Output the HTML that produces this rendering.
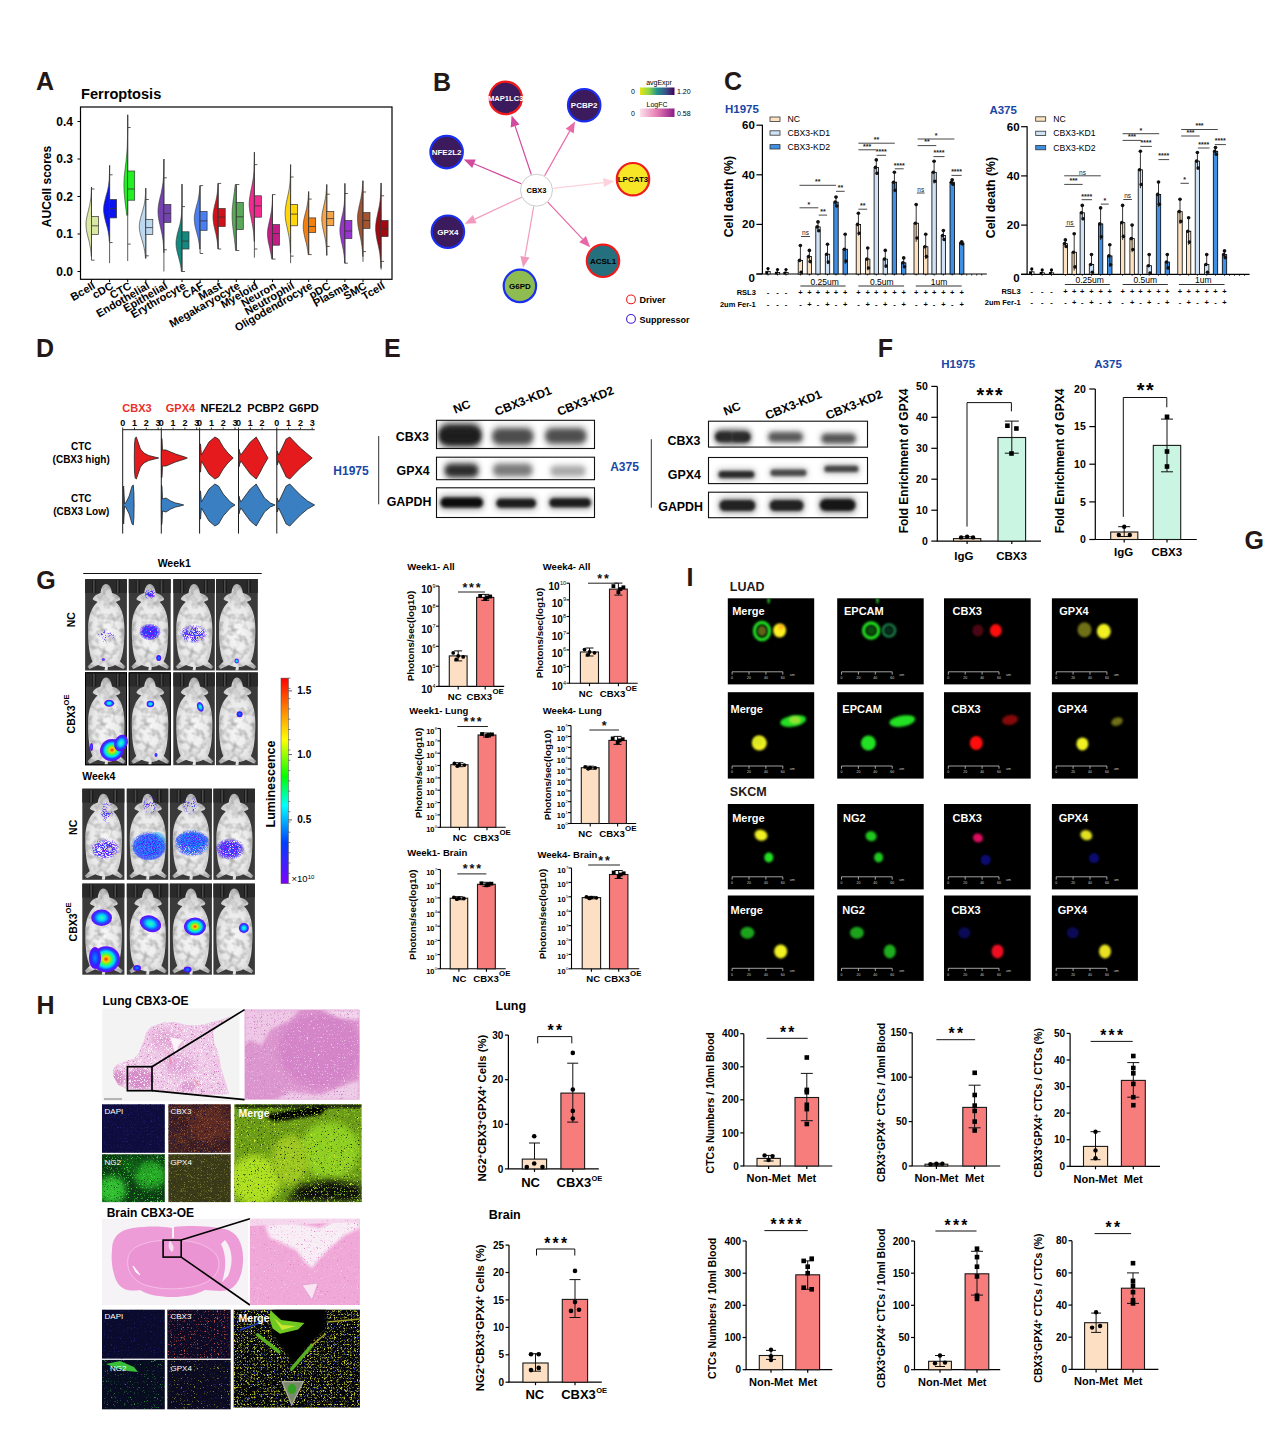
<!DOCTYPE html>
<html><head><meta charset="utf-8"><style>
html,body{margin:0;padding:0;background:#fff;}
svg{display:block;font-family:"Liberation Sans", sans-serif;}
</style></head><body>
<svg width="1269" height="1450" viewBox="0 0 1269 1450">
<rect width="1269" height="1450" fill="#fff"/>
<text x="36.0" y="90.0" font-size="25" font-weight="bold" fill="#231815">A</text>
<text x="81.0" y="99.0" font-size="14.6" font-weight="bold" fill="#000">Ferroptosis</text>
<rect x="80.5" y="107.0" width="311.5" height="172.3" fill="none" stroke="#000" stroke-width="1.2"/>
<line x1="77.5" y1="121.5" x2="80.5" y2="121.5" stroke="#000" stroke-width="1"/>
<text x="73.0" y="125.8" font-size="12" font-weight="bold" text-anchor="end" fill="#000">0.4</text>
<line x1="77.5" y1="159.0" x2="80.5" y2="159.0" stroke="#000" stroke-width="1"/>
<text x="73.0" y="163.3" font-size="12" font-weight="bold" text-anchor="end" fill="#000">0.3</text>
<line x1="77.5" y1="196.5" x2="80.5" y2="196.5" stroke="#000" stroke-width="1"/>
<text x="73.0" y="200.8" font-size="12" font-weight="bold" text-anchor="end" fill="#000">0.2</text>
<line x1="77.5" y1="234.0" x2="80.5" y2="234.0" stroke="#000" stroke-width="1"/>
<text x="73.0" y="238.3" font-size="12" font-weight="bold" text-anchor="end" fill="#000">0.1</text>
<line x1="77.5" y1="271.5" x2="80.5" y2="271.5" stroke="#000" stroke-width="1"/>
<text x="73.0" y="275.8" font-size="12" font-weight="bold" text-anchor="end" fill="#000">0.0</text>
<text x="51.0" y="186.5" font-size="12" font-weight="bold" text-anchor="middle" fill="#000" transform="rotate(-90 51.0 186.5)">AUCell scores</text>
<path d="M91.5,187.1 L91.4,187.1 L91.3,189.4 L91.3,191.8 L91.1,194.1 L91.0,196.4 L90.7,198.7 L90.4,201.0 L90.0,203.3 L89.6,205.6 L89.0,207.9 L88.5,210.2 L87.9,212.6 L87.3,214.9 L86.8,217.2 L86.4,219.5 L86.1,221.8 L86.0,224.1 L86.1,226.4 L86.3,228.8 L86.6,231.1 L87.1,233.4 L87.6,235.7 L88.2,238.0 L88.8,240.3 L89.4,242.6 L89.8,244.9 L90.3,247.2 L90.6,249.6 L90.9,251.9 L91.1,254.2 L91.2,256.5 L91.5,256.5 Z" fill="#dbe8a2" stroke="#333" stroke-width="0.6"/>
<line x1="91.5" y1="187.1" x2="91.5" y2="260.2" stroke="#333" stroke-width="0.8"/>
<line x1="91.5" y1="189.0" x2="94.5" y2="189.0" stroke="#333" stroke-width="0.8"/>
<line x1="91.5" y1="260.2" x2="94.5" y2="260.2" stroke="#333" stroke-width="0.8"/>
<rect x="91.5" y="216.4" width="7.0" height="18.0" fill="#dbe8a2" stroke="#333" stroke-width="0.7"/>
<line x1="91.5" y1="225.8" x2="98.5" y2="225.8" stroke="#333" stroke-width="0.8"/>
<line x1="91.5" y1="279.3" x2="91.5" y2="282.0" stroke="#000" stroke-width="1"/>
<text x="96.0" y="288.0" font-size="11" font-weight="bold" text-anchor="end" fill="#000" transform="rotate(-30 96.0 288.0)">Bcell</text>
<path d="M109.6,165.4 L109.6,165.4 L109.6,167.9 L109.5,170.5 L109.5,173.0 L109.4,175.5 L109.3,178.1 L109.1,180.6 L108.8,183.1 L108.5,185.7 L108.0,188.2 L107.5,190.8 L106.8,193.3 L106.1,195.8 L105.4,198.4 L104.8,200.9 L104.2,203.4 L103.8,206.0 L103.6,208.5 L103.6,211.1 L103.9,213.6 L104.3,216.1 L104.9,218.7 L105.5,221.2 L106.2,223.7 L106.9,226.3 L107.5,228.8 L108.1,231.3 L108.5,233.9 L108.9,236.4 L109.1,239.0 L109.3,241.5 L109.6,241.5 Z" fill="#0a14f0" stroke="#333" stroke-width="0.6"/>
<line x1="109.6" y1="165.4" x2="109.6" y2="263.2" stroke="#333" stroke-width="0.8"/>
<line x1="109.6" y1="174.8" x2="112.6" y2="174.8" stroke="#333" stroke-width="0.8"/>
<line x1="109.6" y1="242.6" x2="112.6" y2="242.6" stroke="#333" stroke-width="0.8"/>
<rect x="109.6" y="199.5" width="7.0" height="18.4" fill="#0a14f0" stroke="#333" stroke-width="0.7"/>
<line x1="109.6" y1="208.5" x2="116.6" y2="208.5" stroke="#333" stroke-width="0.8"/>
<line x1="109.6" y1="279.3" x2="109.6" y2="282.0" stroke="#000" stroke-width="1"/>
<text x="114.1" y="288.0" font-size="11" font-weight="bold" text-anchor="end" fill="#000" transform="rotate(-30 114.1 288.0)">cDC</text>
<path d="M127.7,114.8 L127.7,114.8 L127.7,118.1 L127.7,121.4 L127.7,124.8 L127.7,128.2 L127.6,131.5 L127.6,134.8 L127.5,138.2 L127.4,141.6 L127.3,144.9 L127.2,148.2 L126.9,151.6 L126.7,155.0 L126.3,158.3 L126.0,161.7 L125.6,165.0 L125.2,168.3 L124.8,171.7 L124.4,175.1 L124.1,178.4 L124.0,181.8 L123.9,185.1 L124.0,188.5 L124.1,191.8 L124.4,195.2 L124.7,198.5 L125.1,201.9 L125.5,205.2 L125.9,208.6 L126.3,211.9 L126.6,215.2 L127.7,215.2 Z" fill="#22f022" stroke="#333" stroke-width="0.6"/>
<line x1="127.7" y1="114.8" x2="127.7" y2="261.0" stroke="#333" stroke-width="0.8"/>
<line x1="127.7" y1="127.5" x2="130.7" y2="127.5" stroke="#333" stroke-width="0.8"/>
<line x1="127.7" y1="244.1" x2="130.7" y2="244.1" stroke="#333" stroke-width="0.8"/>
<rect x="127.7" y="171.0" width="7.0" height="29.2" fill="#22f022" stroke="#333" stroke-width="0.7"/>
<line x1="127.7" y1="189.0" x2="134.7" y2="189.0" stroke="#333" stroke-width="0.8"/>
<line x1="127.7" y1="279.3" x2="127.7" y2="282.0" stroke="#000" stroke-width="1"/>
<text x="132.2" y="288.0" font-size="11" font-weight="bold" text-anchor="end" fill="#000" transform="rotate(-30 132.2 288.0)">CTC</text>
<path d="M145.8,188.2 L145.7,188.2 L145.6,190.6 L145.6,192.9 L145.4,195.3 L145.2,197.6 L145.0,199.9 L144.6,202.3 L144.2,204.6 L143.7,206.9 L143.0,209.3 L142.4,211.6 L141.7,214.0 L141.0,216.3 L140.4,218.6 L139.9,221.0 L139.5,223.3 L139.3,225.7 L139.3,228.0 L139.6,230.3 L140.0,232.7 L140.5,235.0 L141.2,237.3 L141.9,239.7 L142.6,242.0 L143.2,244.3 L143.8,246.7 L144.3,249.0 L144.7,251.4 L145.0,253.7 L145.3,256.0 L145.5,258.4 L145.8,258.4 Z" fill="#bcd9ef" stroke="#333" stroke-width="0.6"/>
<line x1="145.8" y1="188.2" x2="145.8" y2="258.4" stroke="#333" stroke-width="0.8"/>
<line x1="145.8" y1="199.5" x2="148.8" y2="199.5" stroke="#333" stroke-width="0.8"/>
<line x1="145.8" y1="255.8" x2="148.8" y2="255.8" stroke="#333" stroke-width="0.8"/>
<rect x="145.8" y="219.4" width="7.0" height="15.0" fill="#bcd9ef" stroke="#333" stroke-width="0.7"/>
<line x1="145.8" y1="227.6" x2="152.8" y2="227.6" stroke="#333" stroke-width="0.8"/>
<line x1="145.8" y1="279.3" x2="145.8" y2="282.0" stroke="#000" stroke-width="1"/>
<text x="150.3" y="288.0" font-size="11" font-weight="bold" text-anchor="end" fill="#000" transform="rotate(-30 150.3 288.0)">Endothelial</text>
<path d="M163.9,159.0 L163.9,159.0 L163.9,162.1 L163.8,165.2 L163.8,168.4 L163.7,171.5 L163.6,174.6 L163.4,177.8 L163.2,180.9 L162.8,184.0 L162.3,187.1 L161.7,190.2 L161.1,193.4 L160.3,196.5 L159.6,199.6 L158.9,202.8 L158.4,205.9 L158.1,209.0 L158.0,212.1 L158.2,215.2 L158.6,218.4 L159.2,221.5 L159.9,224.6 L160.6,227.8 L161.3,230.9 L162.0,234.0 L162.5,237.1 L163.0,240.2 L163.3,243.4 L163.5,246.5 L163.7,249.6 L163.8,252.8 L163.9,252.8 Z" fill="#7443b0" stroke="#333" stroke-width="0.6"/>
<line x1="163.9" y1="159.0" x2="163.9" y2="271.5" stroke="#333" stroke-width="0.8"/>
<line x1="163.9" y1="177.8" x2="166.9" y2="177.8" stroke="#333" stroke-width="0.8"/>
<line x1="163.9" y1="249.8" x2="166.9" y2="249.8" stroke="#333" stroke-width="0.8"/>
<rect x="163.9" y="204.4" width="7.0" height="18.0" fill="#7443b0" stroke="#333" stroke-width="0.7"/>
<line x1="163.9" y1="213.4" x2="170.9" y2="213.4" stroke="#333" stroke-width="0.8"/>
<line x1="163.9" y1="279.3" x2="163.9" y2="282.0" stroke="#000" stroke-width="1"/>
<text x="168.4" y="288.0" font-size="11" font-weight="bold" text-anchor="end" fill="#000" transform="rotate(-30 168.4 288.0)">Epithelial</text>
<path d="M182.0,184.1 L182.0,184.1 L182.0,187.0 L182.0,189.9 L182.0,192.9 L182.0,195.8 L182.0,198.7 L182.0,201.6 L181.9,204.5 L181.9,207.4 L181.7,210.3 L181.6,213.2 L181.3,216.2 L180.9,219.1 L180.4,222.0 L179.8,224.9 L179.0,227.8 L178.2,230.7 L177.4,233.6 L176.8,236.6 L176.3,239.5 L176.0,242.4 L176.1,245.3 L176.4,248.2 L177.0,251.1 L177.7,254.0 L178.5,256.9 L179.3,259.9 L180.0,262.8 L180.6,265.7 L181.1,268.6 L181.4,271.5 L182.0,271.5 Z" fill="#138a80" stroke="#333" stroke-width="0.6"/>
<line x1="182.0" y1="184.1" x2="182.0" y2="271.5" stroke="#333" stroke-width="0.8"/>
<line x1="182.0" y1="206.6" x2="185.0" y2="206.6" stroke="#333" stroke-width="0.8"/>
<line x1="182.0" y1="271.5" x2="185.0" y2="271.5" stroke="#333" stroke-width="0.8"/>
<rect x="182.0" y="231.8" width="7.0" height="17.2" fill="#138a80" stroke="#333" stroke-width="0.7"/>
<line x1="182.0" y1="241.1" x2="189.0" y2="241.1" stroke="#333" stroke-width="0.8"/>
<line x1="182.0" y1="279.3" x2="182.0" y2="282.0" stroke="#000" stroke-width="1"/>
<text x="186.5" y="288.0" font-size="11" font-weight="bold" text-anchor="end" fill="#000" transform="rotate(-30 186.5 288.0)">Erythrocyte</text>
<path d="M200.1,185.6 L199.9,185.6 L199.8,187.7 L199.6,189.8 L199.4,192.0 L199.1,194.1 L198.8,196.2 L198.4,198.3 L198.0,200.4 L197.5,202.5 L196.9,204.6 L196.3,206.8 L195.8,208.9 L195.3,211.0 L194.9,213.1 L194.5,215.2 L194.3,217.3 L194.3,219.4 L194.4,221.5 L194.7,223.7 L195.0,225.8 L195.5,227.9 L196.0,230.0 L196.6,232.1 L197.1,234.2 L197.7,236.3 L198.2,238.4 L198.6,240.5 L199.0,242.7 L199.3,244.8 L199.5,246.9 L199.7,249.0 L200.1,249.0 Z" fill="#4a7ff2" stroke="#333" stroke-width="0.6"/>
<line x1="200.1" y1="185.6" x2="200.1" y2="253.5" stroke="#333" stroke-width="0.8"/>
<line x1="200.1" y1="185.6" x2="203.1" y2="185.6" stroke="#333" stroke-width="0.8"/>
<line x1="200.1" y1="253.5" x2="203.1" y2="253.5" stroke="#333" stroke-width="0.8"/>
<rect x="200.1" y="211.5" width="7.0" height="18.8" fill="#4a7ff2" stroke="#333" stroke-width="0.7"/>
<line x1="200.1" y1="220.9" x2="207.1" y2="220.9" stroke="#333" stroke-width="0.8"/>
<line x1="200.1" y1="279.3" x2="200.1" y2="282.0" stroke="#000" stroke-width="1"/>
<text x="204.6" y="288.0" font-size="11" font-weight="bold" text-anchor="end" fill="#000" transform="rotate(-30 204.6 288.0)">CAF</text>
<path d="M218.2,183.4 L218.0,183.4 L217.9,185.6 L217.8,187.8 L217.6,189.9 L217.4,192.1 L217.1,194.3 L216.7,196.5 L216.3,198.7 L215.8,200.9 L215.3,203.1 L214.7,205.2 L214.2,207.4 L213.8,209.6 L213.4,211.8 L213.1,214.0 L213.0,216.2 L213.0,218.4 L213.2,220.6 L213.5,222.8 L213.8,224.9 L214.3,227.1 L214.8,229.3 L215.3,231.5 L215.9,233.7 L216.3,235.9 L216.7,238.1 L217.1,240.2 L217.4,242.4 L217.6,244.6 L217.8,246.8 L217.9,249.0 L218.2,249.0 Z" fill="#d2101a" stroke="#333" stroke-width="0.6"/>
<line x1="218.2" y1="183.4" x2="218.2" y2="249.0" stroke="#333" stroke-width="0.8"/>
<line x1="218.2" y1="183.4" x2="221.2" y2="183.4" stroke="#333" stroke-width="0.8"/>
<line x1="218.2" y1="249.0" x2="221.2" y2="249.0" stroke="#333" stroke-width="0.8"/>
<rect x="218.2" y="208.5" width="7.0" height="18.0" fill="#d2101a" stroke="#333" stroke-width="0.7"/>
<line x1="218.2" y1="217.1" x2="225.2" y2="217.1" stroke="#333" stroke-width="0.8"/>
<line x1="218.2" y1="279.3" x2="218.2" y2="282.0" stroke="#000" stroke-width="1"/>
<text x="222.7" y="288.0" font-size="11" font-weight="bold" text-anchor="end" fill="#000" transform="rotate(-30 222.7 288.0)">Mast</text>
<path d="M236.3,184.5 L235.2,184.5 L235.0,186.7 L234.7,188.9 L234.5,191.1 L234.2,193.3 L233.9,195.5 L233.6,197.7 L233.3,199.9 L233.0,202.1 L232.8,204.3 L232.5,206.5 L232.3,208.7 L232.2,210.9 L232.1,213.1 L232.1,215.3 L232.1,217.5 L232.2,219.7 L232.4,221.9 L232.5,224.1 L232.8,226.3 L233.0,228.5 L233.3,230.7 L233.6,232.9 L233.9,235.1 L234.2,237.3 L234.5,239.5 L234.7,241.7 L235.0,243.9 L235.2,246.1 L235.4,248.3 L235.6,250.5 L236.3,250.5 Z" fill="#5aa85a" stroke="#333" stroke-width="0.6"/>
<line x1="236.3" y1="184.5" x2="236.3" y2="250.5" stroke="#333" stroke-width="0.8"/>
<line x1="236.3" y1="184.5" x2="239.3" y2="184.5" stroke="#333" stroke-width="0.8"/>
<line x1="236.3" y1="250.5" x2="239.3" y2="250.5" stroke="#333" stroke-width="0.8"/>
<rect x="236.3" y="202.5" width="7.0" height="27.0" fill="#5aa85a" stroke="#333" stroke-width="0.7"/>
<line x1="236.3" y1="216.8" x2="243.3" y2="216.8" stroke="#333" stroke-width="0.8"/>
<line x1="236.3" y1="279.3" x2="236.3" y2="282.0" stroke="#000" stroke-width="1"/>
<text x="240.8" y="288.0" font-size="11" font-weight="bold" text-anchor="end" fill="#000" transform="rotate(-30 240.8 288.0)">Megakaryocyte</text>
<path d="M254.4,152.2 L254.4,152.2 L254.4,155.2 L254.4,158.2 L254.3,161.2 L254.2,164.2 L254.1,167.1 L254.0,170.1 L253.8,173.1 L253.5,176.1 L253.1,179.0 L252.6,182.0 L252.1,185.0 L251.5,187.9 L250.8,190.9 L250.3,193.9 L249.8,196.9 L249.4,199.8 L249.2,202.8 L249.2,205.8 L249.5,208.8 L249.8,211.8 L250.4,214.7 L251.0,217.7 L251.6,220.7 L252.2,223.6 L252.7,226.6 L253.2,229.6 L253.6,232.6 L253.8,235.6 L254.0,238.5 L254.2,241.5 L254.4,241.5 Z" fill="#f22a90" stroke="#333" stroke-width="0.6"/>
<line x1="254.4" y1="152.2" x2="254.4" y2="257.6" stroke="#333" stroke-width="0.8"/>
<line x1="254.4" y1="164.6" x2="257.4" y2="164.6" stroke="#333" stroke-width="0.8"/>
<line x1="254.4" y1="249.0" x2="257.4" y2="249.0" stroke="#333" stroke-width="0.8"/>
<rect x="254.4" y="195.8" width="7.0" height="21.4" fill="#f22a90" stroke="#333" stroke-width="0.7"/>
<line x1="254.4" y1="205.9" x2="261.4" y2="205.9" stroke="#333" stroke-width="0.8"/>
<line x1="254.4" y1="279.3" x2="254.4" y2="282.0" stroke="#000" stroke-width="1"/>
<text x="258.9" y="288.0" font-size="11" font-weight="bold" text-anchor="end" fill="#000" transform="rotate(-30 258.9 288.0)">Myeloid</text>
<path d="M272.5,194.6 L272.4,194.6 L272.4,196.8 L272.4,198.9 L272.3,201.1 L272.2,203.2 L272.0,205.4 L271.8,207.5 L271.6,209.7 L271.3,211.8 L270.9,214.0 L270.5,216.1 L270.1,218.3 L269.6,220.4 L269.1,222.6 L268.6,224.7 L268.2,226.9 L267.8,229.0 L267.6,231.2 L267.5,233.3 L267.5,235.5 L267.7,237.6 L268.0,239.8 L268.3,241.9 L268.8,244.1 L269.3,246.2 L269.8,248.4 L270.2,250.5 L270.7,252.7 L271.1,254.8 L271.4,257.0 L271.7,259.1 L272.5,259.1 Z" fill="#c21c86" stroke="#333" stroke-width="0.6"/>
<line x1="272.5" y1="194.6" x2="272.5" y2="259.1" stroke="#333" stroke-width="0.8"/>
<line x1="272.5" y1="194.6" x2="275.5" y2="194.6" stroke="#333" stroke-width="0.8"/>
<line x1="272.5" y1="259.1" x2="275.5" y2="259.1" stroke="#333" stroke-width="0.8"/>
<rect x="272.5" y="224.6" width="7.0" height="20.6" fill="#c21c86" stroke="#333" stroke-width="0.7"/>
<line x1="272.5" y1="233.6" x2="279.5" y2="233.6" stroke="#333" stroke-width="0.8"/>
<line x1="272.5" y1="279.3" x2="272.5" y2="282.0" stroke="#000" stroke-width="1"/>
<text x="277.0" y="288.0" font-size="11" font-weight="bold" text-anchor="end" fill="#000" transform="rotate(-30 277.0 288.0)">Neuron</text>
<path d="M290.6,164.6 L290.6,164.6 L290.5,167.6 L290.5,170.5 L290.4,173.4 L290.3,176.4 L290.2,179.3 L290.0,182.2 L289.7,185.2 L289.3,188.1 L288.8,191.1 L288.2,194.0 L287.6,196.9 L286.9,199.9 L286.3,202.8 L285.8,205.8 L285.4,208.7 L285.1,211.6 L285.1,214.6 L285.3,217.5 L285.7,220.4 L286.2,223.4 L286.8,226.3 L287.5,229.2 L288.1,232.2 L288.7,235.1 L289.2,238.1 L289.6,241.0 L289.9,243.9 L290.1,246.9 L290.3,249.8 L290.4,252.8 L290.6,252.8 Z" fill="#ffd60a" stroke="#333" stroke-width="0.6"/>
<line x1="290.6" y1="164.6" x2="290.6" y2="263.2" stroke="#333" stroke-width="0.8"/>
<line x1="290.6" y1="177.0" x2="293.6" y2="177.0" stroke="#333" stroke-width="0.8"/>
<line x1="290.6" y1="256.1" x2="293.6" y2="256.1" stroke="#333" stroke-width="0.8"/>
<rect x="290.6" y="204.4" width="7.0" height="21.4" fill="#ffd60a" stroke="#333" stroke-width="0.7"/>
<line x1="290.6" y1="214.1" x2="297.6" y2="214.1" stroke="#333" stroke-width="0.8"/>
<line x1="290.6" y1="279.3" x2="290.6" y2="282.0" stroke="#000" stroke-width="1"/>
<text x="295.1" y="288.0" font-size="11" font-weight="bold" text-anchor="end" fill="#000" transform="rotate(-30 295.1 288.0)">Neutrophil</text>
<path d="M308.7,191.6 L308.5,191.6 L308.5,193.7 L308.3,195.8 L308.2,197.9 L308.0,200.0 L307.7,202.1 L307.4,204.2 L307.0,206.3 L306.6,208.4 L306.1,210.5 L305.6,212.6 L305.0,214.7 L304.5,216.8 L304.0,218.9 L303.7,221.0 L303.4,223.1 L303.2,225.2 L303.2,227.3 L303.3,229.4 L303.6,231.5 L304.0,233.6 L304.4,235.7 L304.9,237.8 L305.4,239.9 L306.0,242.0 L306.5,244.1 L306.9,246.2 L307.3,248.3 L307.7,250.4 L307.9,252.5 L308.1,254.6 L308.7,254.6 Z" fill="#f27f12" stroke="#333" stroke-width="0.6"/>
<line x1="308.7" y1="191.6" x2="308.7" y2="254.6" stroke="#333" stroke-width="0.8"/>
<line x1="308.7" y1="199.1" x2="311.7" y2="199.1" stroke="#333" stroke-width="0.8"/>
<line x1="308.7" y1="254.6" x2="311.7" y2="254.6" stroke="#333" stroke-width="0.8"/>
<rect x="308.7" y="217.9" width="7.0" height="14.6" fill="#f27f12" stroke="#333" stroke-width="0.7"/>
<line x1="308.7" y1="226.5" x2="315.7" y2="226.5" stroke="#333" stroke-width="0.8"/>
<line x1="308.7" y1="279.3" x2="308.7" y2="282.0" stroke="#000" stroke-width="1"/>
<text x="313.2" y="288.0" font-size="11" font-weight="bold" text-anchor="end" fill="#000" transform="rotate(-30 313.2 288.0)">Oligodendrocyte</text>
<path d="M326.8,184.5 L326.6,184.5 L326.6,186.9 L326.4,189.2 L326.2,191.6 L326.0,193.9 L325.7,196.3 L325.3,198.7 L324.8,201.0 L324.3,203.4 L323.8,205.8 L323.3,208.1 L322.7,210.5 L322.3,212.8 L322.0,215.2 L321.8,217.6 L321.8,219.9 L322.0,222.3 L322.2,224.7 L322.7,227.0 L323.1,229.4 L323.7,231.8 L324.2,234.1 L324.7,236.5 L325.2,238.8 L325.6,241.2 L325.9,243.6 L326.2,245.9 L326.4,248.3 L326.5,250.7 L326.6,253.0 L326.7,255.4 L326.8,255.4 Z" fill="#f5a448" stroke="#333" stroke-width="0.6"/>
<line x1="326.8" y1="184.5" x2="326.8" y2="255.4" stroke="#333" stroke-width="0.8"/>
<line x1="326.8" y1="194.2" x2="329.8" y2="194.2" stroke="#333" stroke-width="0.8"/>
<line x1="326.8" y1="246.4" x2="329.8" y2="246.4" stroke="#333" stroke-width="0.8"/>
<rect x="326.8" y="211.5" width="7.0" height="14.2" fill="#f5a448" stroke="#333" stroke-width="0.7"/>
<line x1="326.8" y1="218.6" x2="333.8" y2="218.6" stroke="#333" stroke-width="0.8"/>
<line x1="326.8" y1="279.3" x2="326.8" y2="282.0" stroke="#000" stroke-width="1"/>
<text x="331.3" y="288.0" font-size="11" font-weight="bold" text-anchor="end" fill="#000" transform="rotate(-30 331.3 288.0)">pDC</text>
<path d="M344.9,183.4 L344.9,183.4 L344.9,186.0 L344.9,188.7 L344.8,191.4 L344.8,194.0 L344.7,196.7 L344.6,199.4 L344.4,202.0 L344.2,204.7 L343.8,207.3 L343.4,210.0 L342.9,212.7 L342.3,215.3 L341.7,218.0 L341.1,220.7 L340.6,223.3 L340.2,226.0 L339.9,228.6 L339.9,231.3 L340.1,234.0 L340.5,236.6 L341.0,239.3 L341.5,242.0 L342.2,244.6 L342.7,247.3 L343.3,249.9 L343.7,252.6 L344.1,255.3 L344.4,257.9 L344.6,260.6 L344.7,263.2 L344.9,263.2 Z" fill="#9a34cf" stroke="#333" stroke-width="0.6"/>
<line x1="344.9" y1="183.4" x2="344.9" y2="263.2" stroke="#333" stroke-width="0.8"/>
<line x1="344.9" y1="193.5" x2="347.9" y2="193.5" stroke="#333" stroke-width="0.8"/>
<line x1="344.9" y1="263.2" x2="347.9" y2="263.2" stroke="#333" stroke-width="0.8"/>
<rect x="344.9" y="220.5" width="7.0" height="18.0" fill="#9a34cf" stroke="#333" stroke-width="0.7"/>
<line x1="344.9" y1="231.0" x2="351.9" y2="231.0" stroke="#333" stroke-width="0.8"/>
<line x1="344.9" y1="279.3" x2="344.9" y2="282.0" stroke="#000" stroke-width="1"/>
<text x="349.4" y="288.0" font-size="11" font-weight="bold" text-anchor="end" fill="#000" transform="rotate(-30 349.4 288.0)">Plasma</text>
<path d="M363.0,180.8 L362.8,180.8 L362.7,183.3 L362.5,185.8 L362.3,188.3 L362.1,190.9 L361.7,193.4 L361.3,195.9 L360.9,198.4 L360.3,200.9 L359.8,203.5 L359.2,206.0 L358.7,208.5 L358.2,211.1 L357.8,213.6 L357.6,216.1 L357.5,218.6 L357.6,221.2 L357.8,223.7 L358.1,226.2 L358.5,228.7 L359.1,231.2 L359.6,233.8 L360.2,236.3 L360.7,238.8 L361.2,241.3 L361.6,243.9 L362.0,246.4 L362.2,248.9 L362.5,251.4 L362.6,254.0 L362.8,256.5 L363.0,256.5 Z" fill="#a3542f" stroke="#333" stroke-width="0.6"/>
<line x1="363.0" y1="180.8" x2="363.0" y2="261.8" stroke="#333" stroke-width="0.8"/>
<line x1="363.0" y1="192.0" x2="366.0" y2="192.0" stroke="#333" stroke-width="0.8"/>
<line x1="363.0" y1="251.6" x2="366.0" y2="251.6" stroke="#333" stroke-width="0.8"/>
<rect x="363.0" y="212.6" width="7.0" height="15.8" fill="#a3542f" stroke="#333" stroke-width="0.7"/>
<line x1="363.0" y1="220.5" x2="370.0" y2="220.5" stroke="#333" stroke-width="0.8"/>
<line x1="363.0" y1="279.3" x2="363.0" y2="282.0" stroke="#000" stroke-width="1"/>
<text x="367.5" y="288.0" font-size="11" font-weight="bold" text-anchor="end" fill="#000" transform="rotate(-30 367.5 288.0)">SMC</text>
<path d="M381.1,183.0 L381.0,183.0 L381.0,185.8 L380.9,188.7 L380.8,191.5 L380.7,194.3 L380.5,197.1 L380.2,199.9 L379.8,202.8 L379.4,205.6 L378.8,208.4 L378.2,211.2 L377.6,214.1 L377.0,216.9 L376.4,219.7 L376.0,222.6 L375.7,225.4 L375.6,228.2 L375.7,231.0 L376.0,233.8 L376.4,236.7 L376.9,239.5 L377.5,242.3 L378.2,245.2 L378.8,248.0 L379.3,250.8 L379.8,253.6 L380.1,256.4 L380.4,259.3 L380.7,262.1 L380.8,264.9 L380.9,267.8 L381.1,267.8 Z" fill="#a00a10" stroke="#333" stroke-width="0.6"/>
<line x1="381.1" y1="183.0" x2="381.1" y2="269.6" stroke="#333" stroke-width="0.8"/>
<line x1="381.1" y1="195.8" x2="384.1" y2="195.8" stroke="#333" stroke-width="0.8"/>
<line x1="381.1" y1="261.4" x2="384.1" y2="261.4" stroke="#333" stroke-width="0.8"/>
<rect x="381.1" y="220.5" width="7.0" height="16.1" fill="#a00a10" stroke="#333" stroke-width="0.7"/>
<line x1="381.1" y1="228.8" x2="388.1" y2="228.8" stroke="#333" stroke-width="0.8"/>
<line x1="381.1" y1="279.3" x2="381.1" y2="282.0" stroke="#000" stroke-width="1"/>
<text x="385.6" y="288.0" font-size="11" font-weight="bold" text-anchor="end" fill="#000" transform="rotate(-30 385.6 288.0)">Tcell</text>
<text x="433.0" y="90.5" font-size="25" font-weight="bold" fill="#231815">B</text>
<line x1="531.3" y1="174.5" x2="515.1" y2="126.1" stroke="#d24a9e" stroke-width="1.2"/>
<path d="M511.6,115.6 L519.5,124.6 L510.7,127.5 Z" fill="#d24a9e"/>
<line x1="544.6" y1="175.8" x2="569.7" y2="131.1" stroke="#ea6aa8" stroke-width="1.2"/>
<path d="M575.0,121.5 L573.7,133.4 L565.7,128.8 Z" fill="#ea6aa8"/>
<line x1="521.3" y1="183.8" x2="473.9" y2="163.7" stroke="#d24a9e" stroke-width="1.2"/>
<path d="M463.8,159.4 L475.7,159.5 L472.2,167.9 Z" fill="#d24a9e"/>
<line x1="552.9" y1="188.3" x2="603.5" y2="182.6" stroke="#fcd2dc" stroke-width="1.2"/>
<path d="M614.4,181.3 L604.0,187.1 L603.0,178.0 Z" fill="#fcd2dc"/>
<line x1="521.6" y1="197.2" x2="474.8" y2="219.1" stroke="#f29abe" stroke-width="1.2"/>
<path d="M464.8,223.8 L472.8,214.9 L476.7,223.3 Z" fill="#f29abe"/>
<line x1="547.8" y1="202.2" x2="582.6" y2="239.2" stroke="#e666a6" stroke-width="1.2"/>
<path d="M590.2,247.2 L579.3,242.3 L586.0,236.0 Z" fill="#e666a6"/>
<line x1="533.7" y1="206.5" x2="525.0" y2="256.6" stroke="#f29abe" stroke-width="1.2"/>
<path d="M523.1,267.5 L520.4,255.9 L529.5,257.4 Z" fill="#f29abe"/>
<circle cx="536.5" cy="190.2" r="16.0" fill="#fff" stroke="#aaa" stroke-width="0.6"/>
<text x="536.5" y="193.2" font-size="7.5" font-weight="bold" text-anchor="middle" fill="#000">CBX3</text>
<circle cx="505.7" cy="97.9" r="16.2" fill="#3b1a5e" stroke="#f01a1a" stroke-width="2.2"/>
<text x="505.7" y="100.9" font-size="7.6" font-weight="bold" text-anchor="middle" fill="#fff">MAP1LC3</text>
<circle cx="584.2" cy="105.2" r="16.2" fill="#3b1a5e" stroke="#1a2ef0" stroke-width="2.2"/>
<text x="584.2" y="108.2" font-size="8" font-weight="bold" text-anchor="middle" fill="#fff">PCBP2</text>
<circle cx="446.6" cy="152.1" r="16.2" fill="#3b1a5e" stroke="#1a2ef0" stroke-width="2.2"/>
<text x="446.6" y="155.1" font-size="8" font-weight="bold" text-anchor="middle" fill="#fff">NFE2L2</text>
<circle cx="633.0" cy="179.2" r="16.2" fill="#f7e626" stroke="#f01a1a" stroke-width="2.2"/>
<text x="633.0" y="182.2" font-size="8" font-weight="bold" text-anchor="middle" fill="#000">LPCAT3</text>
<circle cx="447.9" cy="231.7" r="16.2" fill="#3b1a5e" stroke="#1a2ef0" stroke-width="2.2"/>
<text x="447.9" y="234.7" font-size="8" font-weight="bold" text-anchor="middle" fill="#fff">GPX4</text>
<circle cx="603.0" cy="260.8" r="16.2" fill="#25707e" stroke="#f01a1a" stroke-width="2.2"/>
<text x="603.0" y="263.8" font-size="8" font-weight="bold" text-anchor="middle" fill="#000">ACSL1</text>
<circle cx="519.9" cy="285.9" r="16.2" fill="#8fbc50" stroke="#1a2ef0" stroke-width="2.2"/>
<text x="519.9" y="288.9" font-size="8" font-weight="bold" text-anchor="middle" fill="#000">G6PD</text>
<defs><linearGradient id="vir" x1="0" x2="1" y1="0" y2="0"><stop offset="0" stop-color="#e6e419"/><stop offset="0.25" stop-color="#90d743"/><stop offset="0.5" stop-color="#21918c"/><stop offset="0.75" stop-color="#3b528b"/><stop offset="1" stop-color="#440154"/></linearGradient><linearGradient id="pnk" x1="0" x2="1" y1="0" y2="0"><stop offset="0" stop-color="#fbe0e8"/><stop offset="0.5" stop-color="#e77ab4"/><stop offset="1" stop-color="#8a1a88"/></linearGradient></defs>
<text x="659.0" y="85.0" font-size="7" text-anchor="middle" fill="#000">avgExpr</text>
<rect x="640.0" y="87.5" width="34.5" height="7.5" fill="url(#vir)"/>
<text x="633.0" y="94.0" font-size="7" text-anchor="middle" fill="#000">0</text>
<text x="677.0" y="94.0" font-size="7" fill="#000">1.20</text>
<text x="657.0" y="107.0" font-size="7" text-anchor="middle" fill="#000">LogFC</text>
<rect x="640.0" y="108.5" width="34.5" height="8.5" fill="url(#pnk)"/>
<text x="633.0" y="116.0" font-size="7" text-anchor="middle" fill="#000">0</text>
<text x="677.0" y="116.0" font-size="7" fill="#000">0.58</text>
<circle cx="631.0" cy="299.4" r="4.4" fill="none" stroke="#f01a1a" stroke-width="1.1"/>
<text x="639.5" y="303.0" font-size="9" font-weight="bold" fill="#000">Driver</text>
<circle cx="631.0" cy="318.9" r="4.4" fill="none" stroke="#4a1ad8" stroke-width="1.1"/>
<text x="639.5" y="322.5" font-size="9" font-weight="bold" fill="#000">Suppressor</text>
<text x="724.0" y="89.8" font-size="25" font-weight="bold" fill="#231815">C</text>
<text x="725.0" y="113.0" font-size="11.5" font-weight="bold" fill="#1846a6">H1975</text>
<rect x="770.0" y="117.0" width="10.0" height="4.4" fill="#fde2c2" stroke="#333" stroke-width="0.8"/>
<text x="787.5" y="122.2" font-size="8.7" fill="#000">NC</text>
<rect x="770.0" y="130.8" width="10.0" height="4.4" fill="#cfe2f6" stroke="#333" stroke-width="0.8"/>
<text x="787.5" y="136.0" font-size="8.7" fill="#000">CBX3-KD1</text>
<rect x="770.0" y="144.6" width="10.0" height="4.4" fill="#3f8fe2" stroke="#333" stroke-width="0.8"/>
<text x="787.5" y="149.8" font-size="8.7" fill="#000">CBX3-KD2</text>
<line x1="762.4" y1="274.0" x2="762.4" y2="124.7" stroke="#000" stroke-width="1.2"/>
<line x1="756.4" y1="274.0" x2="986.8" y2="274.0" stroke="#000" stroke-width="1.2"/>
<line x1="756.4" y1="274.0" x2="762.4" y2="274.0" stroke="#000" stroke-width="1.2"/>
<text x="754.9" y="281.5" font-size="11.5" font-weight="bold" text-anchor="end" fill="#000">0</text>
<line x1="756.4" y1="224.4" x2="762.4" y2="224.4" stroke="#000" stroke-width="1.2"/>
<text x="754.9" y="228.4" font-size="11.5" font-weight="bold" text-anchor="end" fill="#000">20</text>
<line x1="756.4" y1="174.8" x2="762.4" y2="174.8" stroke="#000" stroke-width="1.2"/>
<text x="754.9" y="178.8" font-size="11.5" font-weight="bold" text-anchor="end" fill="#000">40</text>
<line x1="756.4" y1="125.2" x2="762.4" y2="125.2" stroke="#000" stroke-width="1.2"/>
<text x="754.9" y="129.2" font-size="11.5" font-weight="bold" text-anchor="end" fill="#000">60</text>
<text x="733.0" y="196.0" font-size="1" font-weight="bold" fill="#000"></text>
<text x="733.0" y="196.6" font-size="12.3" font-weight="bold" text-anchor="middle" fill="#000" transform="rotate(-90 733.0 196.6)">Cell death (%)</text>
<rect x="765.8" y="271.5" width="4.4" height="2.5" fill="#fff" stroke="#000" stroke-width="0.8"/>
<line x1="768.0" y1="271.5" x2="768.0" y2="267.8" stroke="#000" stroke-width="0.8"/>
<circle cx="768.0" cy="268.5" r="1.6" fill="#000"/>
<circle cx="767.0" cy="272.8" r="1.4" fill="#000"/>
<rect x="775.3" y="272.5" width="4.4" height="1.5" fill="#fff" stroke="#000" stroke-width="0.8"/>
<line x1="777.5" y1="272.5" x2="777.5" y2="268.8" stroke="#000" stroke-width="0.8"/>
<circle cx="777.5" cy="269.5" r="1.6" fill="#000"/>
<circle cx="776.5" cy="272.8" r="1.4" fill="#000"/>
<rect x="783.8" y="272.5" width="4.4" height="1.5" fill="#fff" stroke="#000" stroke-width="0.8"/>
<line x1="786.0" y1="272.5" x2="786.0" y2="268.8" stroke="#000" stroke-width="0.8"/>
<circle cx="786.0" cy="269.5" r="1.6" fill="#000"/>
<circle cx="785.0" cy="272.8" r="1.4" fill="#000"/>
<rect x="798.2" y="260.4" width="4.4" height="13.6" fill="#fde2c2" stroke="#000" stroke-width="0.8"/>
<line x1="800.4" y1="260.4" x2="800.4" y2="245.5" stroke="#000" stroke-width="0.8"/>
<line x1="798.8" y1="245.5" x2="802.0" y2="245.5" stroke="#000" stroke-width="0.8"/>
<circle cx="800.4" cy="245.5" r="1.8" fill="#111"/>
<circle cx="799.6" cy="260.4" r="1.8" fill="#111"/>
<circle cx="801.2" cy="272.3" r="1.8" fill="#111"/>
<rect x="807.2" y="256.6" width="4.4" height="17.4" fill="#fde2c2" stroke="#000" stroke-width="0.8"/>
<line x1="809.4" y1="256.6" x2="809.4" y2="250.4" stroke="#000" stroke-width="0.8"/>
<line x1="807.8" y1="250.4" x2="811.0" y2="250.4" stroke="#000" stroke-width="0.8"/>
<line x1="809.4" y1="256.6" x2="809.4" y2="262.8" stroke="#000" stroke-width="0.8"/>
<circle cx="809.4" cy="250.4" r="1.8" fill="#111"/>
<circle cx="808.6" cy="256.6" r="1.8" fill="#111"/>
<circle cx="810.2" cy="261.6" r="1.8" fill="#111"/>
<rect x="815.8" y="226.9" width="4.4" height="47.1" fill="#cfe2f6" stroke="#000" stroke-width="0.8"/>
<line x1="818.0" y1="226.9" x2="818.0" y2="221.9" stroke="#000" stroke-width="0.8"/>
<line x1="816.4" y1="221.9" x2="819.6" y2="221.9" stroke="#000" stroke-width="0.8"/>
<line x1="818.0" y1="226.9" x2="818.0" y2="231.8" stroke="#000" stroke-width="0.8"/>
<circle cx="818.0" cy="221.9" r="1.8" fill="#111"/>
<circle cx="817.2" cy="226.9" r="1.8" fill="#111"/>
<circle cx="818.8" cy="230.8" r="1.8" fill="#111"/>
<rect x="825.3" y="254.2" width="4.4" height="19.8" fill="#cfe2f6" stroke="#000" stroke-width="0.8"/>
<line x1="827.5" y1="254.2" x2="827.5" y2="244.2" stroke="#000" stroke-width="0.8"/>
<line x1="825.9" y1="244.2" x2="829.1" y2="244.2" stroke="#000" stroke-width="0.8"/>
<line x1="827.5" y1="254.2" x2="827.5" y2="264.1" stroke="#000" stroke-width="0.8"/>
<circle cx="827.5" cy="244.2" r="1.8" fill="#111"/>
<circle cx="826.7" cy="254.2" r="1.8" fill="#111"/>
<circle cx="828.3" cy="262.1" r="1.8" fill="#111"/>
<rect x="833.8" y="202.1" width="4.4" height="71.9" fill="#3f8fe2" stroke="#000" stroke-width="0.8"/>
<line x1="836.0" y1="202.1" x2="836.0" y2="197.1" stroke="#000" stroke-width="0.8"/>
<line x1="834.4" y1="197.1" x2="837.6" y2="197.1" stroke="#000" stroke-width="0.8"/>
<line x1="836.0" y1="202.1" x2="836.0" y2="207.0" stroke="#000" stroke-width="0.8"/>
<circle cx="836.0" cy="197.1" r="1.8" fill="#111"/>
<circle cx="835.2" cy="202.1" r="1.8" fill="#111"/>
<circle cx="836.8" cy="206.0" r="1.8" fill="#111"/>
<rect x="843.0" y="249.2" width="4.4" height="24.8" fill="#3f8fe2" stroke="#000" stroke-width="0.8"/>
<line x1="845.2" y1="249.2" x2="845.2" y2="234.3" stroke="#000" stroke-width="0.8"/>
<line x1="843.6" y1="234.3" x2="846.8" y2="234.3" stroke="#000" stroke-width="0.8"/>
<line x1="845.2" y1="249.2" x2="845.2" y2="264.1" stroke="#000" stroke-width="0.8"/>
<circle cx="845.2" cy="234.3" r="1.8" fill="#111"/>
<circle cx="844.4" cy="249.2" r="1.8" fill="#111"/>
<circle cx="846.0" cy="261.1" r="1.8" fill="#111"/>
<rect x="856.2" y="224.4" width="4.4" height="49.6" fill="#fde2c2" stroke="#000" stroke-width="0.8"/>
<line x1="858.4" y1="224.4" x2="858.4" y2="213.2" stroke="#000" stroke-width="0.8"/>
<line x1="856.8" y1="213.2" x2="860.0" y2="213.2" stroke="#000" stroke-width="0.8"/>
<line x1="858.4" y1="224.4" x2="858.4" y2="235.6" stroke="#000" stroke-width="0.8"/>
<circle cx="858.4" cy="213.2" r="1.8" fill="#111"/>
<circle cx="857.6" cy="224.4" r="1.8" fill="#111"/>
<circle cx="859.2" cy="233.3" r="1.8" fill="#111"/>
<rect x="865.5" y="259.1" width="4.4" height="14.9" fill="#fde2c2" stroke="#000" stroke-width="0.8"/>
<line x1="867.7" y1="259.1" x2="867.7" y2="248.0" stroke="#000" stroke-width="0.8"/>
<line x1="866.1" y1="248.0" x2="869.3" y2="248.0" stroke="#000" stroke-width="0.8"/>
<line x1="867.7" y1="259.1" x2="867.7" y2="270.3" stroke="#000" stroke-width="0.8"/>
<circle cx="867.7" cy="248.0" r="1.8" fill="#111"/>
<circle cx="866.9" cy="259.1" r="1.8" fill="#111"/>
<circle cx="868.5" cy="268.0" r="1.8" fill="#111"/>
<rect x="874.1" y="167.4" width="4.4" height="106.6" fill="#cfe2f6" stroke="#000" stroke-width="0.8"/>
<line x1="876.3" y1="167.4" x2="876.3" y2="159.9" stroke="#000" stroke-width="0.8"/>
<line x1="874.7" y1="159.9" x2="877.9" y2="159.9" stroke="#000" stroke-width="0.8"/>
<line x1="876.3" y1="167.4" x2="876.3" y2="174.8" stroke="#000" stroke-width="0.8"/>
<circle cx="876.3" cy="159.9" r="1.8" fill="#111"/>
<circle cx="875.5" cy="167.4" r="1.8" fill="#111"/>
<circle cx="877.1" cy="173.3" r="1.8" fill="#111"/>
<rect x="883.1" y="259.1" width="4.4" height="14.9" fill="#cfe2f6" stroke="#000" stroke-width="0.8"/>
<line x1="885.3" y1="259.1" x2="885.3" y2="250.4" stroke="#000" stroke-width="0.8"/>
<line x1="883.7" y1="250.4" x2="886.9" y2="250.4" stroke="#000" stroke-width="0.8"/>
<line x1="885.3" y1="259.1" x2="885.3" y2="267.8" stroke="#000" stroke-width="0.8"/>
<circle cx="885.3" cy="250.4" r="1.8" fill="#111"/>
<circle cx="884.5" cy="259.1" r="1.8" fill="#111"/>
<circle cx="886.1" cy="266.1" r="1.8" fill="#111"/>
<rect x="892.2" y="182.2" width="4.4" height="91.8" fill="#3f8fe2" stroke="#000" stroke-width="0.8"/>
<line x1="894.4" y1="182.2" x2="894.4" y2="172.3" stroke="#000" stroke-width="0.8"/>
<line x1="892.8" y1="172.3" x2="896.0" y2="172.3" stroke="#000" stroke-width="0.8"/>
<line x1="894.4" y1="182.2" x2="894.4" y2="192.2" stroke="#000" stroke-width="0.8"/>
<circle cx="894.4" cy="172.3" r="1.8" fill="#111"/>
<circle cx="893.6" cy="182.2" r="1.8" fill="#111"/>
<circle cx="895.2" cy="190.2" r="1.8" fill="#111"/>
<rect x="901.5" y="262.8" width="4.4" height="11.2" fill="#3f8fe2" stroke="#000" stroke-width="0.8"/>
<line x1="903.7" y1="262.8" x2="903.7" y2="257.9" stroke="#000" stroke-width="0.8"/>
<line x1="902.1" y1="257.9" x2="905.3" y2="257.9" stroke="#000" stroke-width="0.8"/>
<line x1="903.7" y1="262.8" x2="903.7" y2="267.8" stroke="#000" stroke-width="0.8"/>
<circle cx="903.7" cy="257.9" r="1.8" fill="#111"/>
<circle cx="902.9" cy="262.8" r="1.8" fill="#111"/>
<circle cx="904.5" cy="266.8" r="1.8" fill="#111"/>
<rect x="914.0" y="223.2" width="4.4" height="50.8" fill="#fde2c2" stroke="#000" stroke-width="0.8"/>
<line x1="916.2" y1="223.2" x2="916.2" y2="204.6" stroke="#000" stroke-width="0.8"/>
<line x1="914.6" y1="204.6" x2="917.8" y2="204.6" stroke="#000" stroke-width="0.8"/>
<line x1="916.2" y1="223.2" x2="916.2" y2="241.8" stroke="#000" stroke-width="0.8"/>
<circle cx="916.2" cy="204.6" r="1.8" fill="#111"/>
<circle cx="915.4" cy="223.2" r="1.8" fill="#111"/>
<circle cx="917.0" cy="238.0" r="1.8" fill="#111"/>
<rect x="923.5" y="246.7" width="4.4" height="27.3" fill="#fde2c2" stroke="#000" stroke-width="0.8"/>
<line x1="925.7" y1="246.7" x2="925.7" y2="234.3" stroke="#000" stroke-width="0.8"/>
<line x1="924.1" y1="234.3" x2="927.3" y2="234.3" stroke="#000" stroke-width="0.8"/>
<line x1="925.7" y1="246.7" x2="925.7" y2="259.1" stroke="#000" stroke-width="0.8"/>
<circle cx="925.7" cy="234.3" r="1.8" fill="#111"/>
<circle cx="924.9" cy="246.7" r="1.8" fill="#111"/>
<circle cx="926.5" cy="256.6" r="1.8" fill="#111"/>
<rect x="931.9" y="172.3" width="4.4" height="101.7" fill="#cfe2f6" stroke="#000" stroke-width="0.8"/>
<line x1="934.1" y1="172.3" x2="934.1" y2="161.2" stroke="#000" stroke-width="0.8"/>
<line x1="932.5" y1="161.2" x2="935.7" y2="161.2" stroke="#000" stroke-width="0.8"/>
<line x1="934.1" y1="172.3" x2="934.1" y2="183.5" stroke="#000" stroke-width="0.8"/>
<circle cx="934.1" cy="161.2" r="1.8" fill="#111"/>
<circle cx="933.3" cy="172.3" r="1.8" fill="#111"/>
<circle cx="934.9" cy="181.2" r="1.8" fill="#111"/>
<rect x="941.2" y="235.6" width="4.4" height="38.4" fill="#cfe2f6" stroke="#000" stroke-width="0.8"/>
<line x1="943.4" y1="235.6" x2="943.4" y2="230.6" stroke="#000" stroke-width="0.8"/>
<line x1="941.8" y1="230.6" x2="945.0" y2="230.6" stroke="#000" stroke-width="0.8"/>
<line x1="943.4" y1="235.6" x2="943.4" y2="240.5" stroke="#000" stroke-width="0.8"/>
<circle cx="943.4" cy="230.6" r="1.8" fill="#111"/>
<circle cx="942.6" cy="235.6" r="1.8" fill="#111"/>
<circle cx="944.2" cy="239.5" r="1.8" fill="#111"/>
<rect x="950.0" y="182.2" width="4.4" height="91.8" fill="#3f8fe2" stroke="#000" stroke-width="0.8"/>
<line x1="952.2" y1="182.2" x2="952.2" y2="179.8" stroke="#000" stroke-width="0.8"/>
<line x1="950.6" y1="179.8" x2="953.8" y2="179.8" stroke="#000" stroke-width="0.8"/>
<line x1="952.2" y1="182.2" x2="952.2" y2="184.7" stroke="#000" stroke-width="0.8"/>
<circle cx="952.2" cy="179.8" r="1.8" fill="#111"/>
<circle cx="951.4" cy="182.2" r="1.8" fill="#111"/>
<circle cx="953.0" cy="184.2" r="1.8" fill="#111"/>
<rect x="959.5" y="243.0" width="4.4" height="31.0" fill="#3f8fe2" stroke="#000" stroke-width="0.8"/>
<line x1="961.7" y1="243.0" x2="961.7" y2="241.8" stroke="#000" stroke-width="0.8"/>
<line x1="960.1" y1="241.8" x2="963.3" y2="241.8" stroke="#000" stroke-width="0.8"/>
<line x1="961.7" y1="243.0" x2="961.7" y2="244.2" stroke="#000" stroke-width="0.8"/>
<circle cx="961.7" cy="241.8" r="1.8" fill="#111"/>
<circle cx="960.9" cy="243.0" r="1.8" fill="#111"/>
<circle cx="962.5" cy="244.0" r="1.8" fill="#111"/>
<line x1="768.0" y1="274.0" x2="768.0" y2="275.5" stroke="#000" stroke-width="0.8"/>
<line x1="777.5" y1="274.0" x2="777.5" y2="275.5" stroke="#000" stroke-width="0.8"/>
<line x1="786.0" y1="274.0" x2="786.0" y2="275.5" stroke="#000" stroke-width="0.8"/>
<line x1="800.4" y1="274.0" x2="800.4" y2="275.5" stroke="#000" stroke-width="0.8"/>
<line x1="809.4" y1="274.0" x2="809.4" y2="275.5" stroke="#000" stroke-width="0.8"/>
<line x1="818.0" y1="274.0" x2="818.0" y2="275.5" stroke="#000" stroke-width="0.8"/>
<line x1="827.5" y1="274.0" x2="827.5" y2="275.5" stroke="#000" stroke-width="0.8"/>
<line x1="836.0" y1="274.0" x2="836.0" y2="275.5" stroke="#000" stroke-width="0.8"/>
<line x1="845.2" y1="274.0" x2="845.2" y2="275.5" stroke="#000" stroke-width="0.8"/>
<line x1="858.4" y1="274.0" x2="858.4" y2="275.5" stroke="#000" stroke-width="0.8"/>
<line x1="867.7" y1="274.0" x2="867.7" y2="275.5" stroke="#000" stroke-width="0.8"/>
<line x1="876.3" y1="274.0" x2="876.3" y2="275.5" stroke="#000" stroke-width="0.8"/>
<line x1="885.3" y1="274.0" x2="885.3" y2="275.5" stroke="#000" stroke-width="0.8"/>
<line x1="894.4" y1="274.0" x2="894.4" y2="275.5" stroke="#000" stroke-width="0.8"/>
<line x1="903.7" y1="274.0" x2="903.7" y2="275.5" stroke="#000" stroke-width="0.8"/>
<line x1="916.2" y1="274.0" x2="916.2" y2="275.5" stroke="#000" stroke-width="0.8"/>
<line x1="925.7" y1="274.0" x2="925.7" y2="275.5" stroke="#000" stroke-width="0.8"/>
<line x1="934.1" y1="274.0" x2="934.1" y2="275.5" stroke="#000" stroke-width="0.8"/>
<line x1="943.4" y1="274.0" x2="943.4" y2="275.5" stroke="#000" stroke-width="0.8"/>
<line x1="952.2" y1="274.0" x2="952.2" y2="275.5" stroke="#000" stroke-width="0.8"/>
<line x1="961.7" y1="274.0" x2="961.7" y2="275.5" stroke="#000" stroke-width="0.8"/>
<line x1="966.7" y1="274.0" x2="966.7" y2="275.5" stroke="#000" stroke-width="0.8"/>
<line x1="971.7" y1="274.0" x2="971.7" y2="275.5" stroke="#000" stroke-width="0.8"/>
<line x1="976.7" y1="274.0" x2="976.7" y2="275.5" stroke="#000" stroke-width="0.8"/>
<line x1="981.7" y1="274.0" x2="981.7" y2="275.5" stroke="#000" stroke-width="0.8"/>
<line x1="801.0" y1="236.5" x2="810.0" y2="236.5" stroke="#333" stroke-width="0.9"/>
<text x="805.5" y="235.3" font-size="6.5" text-anchor="middle" fill="#222">ns</text>
<line x1="799.5" y1="207.8" x2="818.3" y2="207.8" stroke="#333" stroke-width="0.9"/>
<text x="808.9" y="206.6" font-size="7" font-weight="bold" text-anchor="middle" fill="#222">*</text>
<line x1="818.7" y1="215.1" x2="827.1" y2="215.1" stroke="#333" stroke-width="0.9"/>
<text x="822.9" y="213.9" font-size="7" font-weight="bold" text-anchor="middle" fill="#222">**</text>
<line x1="799.5" y1="185.3" x2="836.0" y2="185.3" stroke="#333" stroke-width="0.9"/>
<text x="817.8" y="184.1" font-size="7" font-weight="bold" text-anchor="middle" fill="#222">**</text>
<line x1="836.0" y1="191.3" x2="844.7" y2="191.3" stroke="#333" stroke-width="0.9"/>
<text x="840.4" y="190.1" font-size="7" font-weight="bold" text-anchor="middle" fill="#222">**</text>
<line x1="858.4" y1="209.2" x2="867.2" y2="209.2" stroke="#333" stroke-width="0.9"/>
<text x="862.8" y="208.0" font-size="7" font-weight="bold" text-anchor="middle" fill="#222">**</text>
<line x1="858.4" y1="149.8" x2="876.1" y2="149.8" stroke="#333" stroke-width="0.9"/>
<text x="867.2" y="148.6" font-size="7" font-weight="bold" text-anchor="middle" fill="#222">***</text>
<line x1="858.4" y1="143.2" x2="894.8" y2="143.2" stroke="#333" stroke-width="0.9"/>
<text x="876.6" y="142.0" font-size="7" font-weight="bold" text-anchor="middle" fill="#222">**</text>
<line x1="876.5" y1="155.3" x2="886.0" y2="155.3" stroke="#333" stroke-width="0.9"/>
<text x="881.2" y="154.1" font-size="7" font-weight="bold" text-anchor="middle" fill="#222">****</text>
<line x1="894.8" y1="168.8" x2="903.7" y2="168.8" stroke="#333" stroke-width="0.9"/>
<text x="899.2" y="167.6" font-size="7" font-weight="bold" text-anchor="middle" fill="#222">****</text>
<line x1="916.9" y1="193.0" x2="924.6" y2="193.0" stroke="#333" stroke-width="0.9"/>
<text x="920.8" y="191.8" font-size="6.5" text-anchor="middle" fill="#222">ns</text>
<line x1="917.6" y1="145.6" x2="936.3" y2="145.6" stroke="#333" stroke-width="0.9"/>
<text x="927.0" y="144.4" font-size="7" font-weight="bold" text-anchor="middle" fill="#222">**</text>
<line x1="917.6" y1="139.0" x2="954.4" y2="139.0" stroke="#333" stroke-width="0.9"/>
<text x="936.0" y="137.8" font-size="7" font-weight="bold" text-anchor="middle" fill="#222">*</text>
<line x1="933.4" y1="156.6" x2="944.5" y2="156.6" stroke="#333" stroke-width="0.9"/>
<text x="939.0" y="155.4" font-size="7" font-weight="bold" text-anchor="middle" fill="#222">****</text>
<line x1="951.5" y1="175.4" x2="961.7" y2="175.4" stroke="#333" stroke-width="0.9"/>
<text x="956.6" y="174.2" font-size="7" font-weight="bold" text-anchor="middle" fill="#222">****</text>
<text x="824.7" y="284.5" font-size="8.5" text-anchor="middle" fill="#000">0.25um</text>
<line x1="800.4" y1="286.0" x2="845.6" y2="286.0" stroke="#333" stroke-width="1"/>
<text x="881.8" y="284.5" font-size="8.5" text-anchor="middle" fill="#000">0.5um</text>
<line x1="858.4" y1="286.0" x2="904.1" y2="286.0" stroke="#333" stroke-width="1"/>
<text x="939.0" y="284.5" font-size="8.5" text-anchor="middle" fill="#000">1um</text>
<line x1="915.8" y1="286.0" x2="961.7" y2="286.0" stroke="#333" stroke-width="1"/>
<text x="755.8" y="295.0" font-size="7.5" font-weight="bold" text-anchor="end" fill="#000">RSL3</text>
<text x="755.8" y="306.5" font-size="7.5" font-weight="bold" text-anchor="end" fill="#000">2um Fer-1</text>
<text x="768.0" y="295.0" font-size="7.5" font-weight="bold" text-anchor="middle" fill="#000">-</text>
<text x="768.0" y="306.5" font-size="7.5" font-weight="bold" text-anchor="middle" fill="#000">-</text>
<text x="777.5" y="295.0" font-size="7.5" font-weight="bold" text-anchor="middle" fill="#000">-</text>
<text x="777.5" y="306.5" font-size="7.5" font-weight="bold" text-anchor="middle" fill="#000">-</text>
<text x="786.0" y="295.0" font-size="7.5" font-weight="bold" text-anchor="middle" fill="#000">-</text>
<text x="786.0" y="306.5" font-size="7.5" font-weight="bold" text-anchor="middle" fill="#000">-</text>
<text x="800.4" y="295.0" font-size="7.5" font-weight="bold" text-anchor="middle" fill="#000">+</text>
<text x="800.4" y="306.5" font-size="7.5" font-weight="bold" text-anchor="middle" fill="#000">-</text>
<text x="809.4" y="295.0" font-size="7.5" font-weight="bold" text-anchor="middle" fill="#000">+</text>
<text x="809.4" y="306.5" font-size="7.5" font-weight="bold" text-anchor="middle" fill="#000">+</text>
<text x="818.0" y="295.0" font-size="7.5" font-weight="bold" text-anchor="middle" fill="#000">+</text>
<text x="818.0" y="306.5" font-size="7.5" font-weight="bold" text-anchor="middle" fill="#000">-</text>
<text x="827.5" y="295.0" font-size="7.5" font-weight="bold" text-anchor="middle" fill="#000">+</text>
<text x="827.5" y="306.5" font-size="7.5" font-weight="bold" text-anchor="middle" fill="#000">+</text>
<text x="836.0" y="295.0" font-size="7.5" font-weight="bold" text-anchor="middle" fill="#000">+</text>
<text x="836.0" y="306.5" font-size="7.5" font-weight="bold" text-anchor="middle" fill="#000">-</text>
<text x="845.2" y="295.0" font-size="7.5" font-weight="bold" text-anchor="middle" fill="#000">+</text>
<text x="845.2" y="306.5" font-size="7.5" font-weight="bold" text-anchor="middle" fill="#000">+</text>
<text x="858.4" y="295.0" font-size="7.5" font-weight="bold" text-anchor="middle" fill="#000">+</text>
<text x="858.4" y="306.5" font-size="7.5" font-weight="bold" text-anchor="middle" fill="#000">-</text>
<text x="867.7" y="295.0" font-size="7.5" font-weight="bold" text-anchor="middle" fill="#000">+</text>
<text x="867.7" y="306.5" font-size="7.5" font-weight="bold" text-anchor="middle" fill="#000">+</text>
<text x="876.3" y="295.0" font-size="7.5" font-weight="bold" text-anchor="middle" fill="#000">+</text>
<text x="876.3" y="306.5" font-size="7.5" font-weight="bold" text-anchor="middle" fill="#000">-</text>
<text x="885.3" y="295.0" font-size="7.5" font-weight="bold" text-anchor="middle" fill="#000">+</text>
<text x="885.3" y="306.5" font-size="7.5" font-weight="bold" text-anchor="middle" fill="#000">+</text>
<text x="894.4" y="295.0" font-size="7.5" font-weight="bold" text-anchor="middle" fill="#000">+</text>
<text x="894.4" y="306.5" font-size="7.5" font-weight="bold" text-anchor="middle" fill="#000">-</text>
<text x="903.7" y="295.0" font-size="7.5" font-weight="bold" text-anchor="middle" fill="#000">+</text>
<text x="903.7" y="306.5" font-size="7.5" font-weight="bold" text-anchor="middle" fill="#000">+</text>
<text x="916.2" y="295.0" font-size="7.5" font-weight="bold" text-anchor="middle" fill="#000">+</text>
<text x="916.2" y="306.5" font-size="7.5" font-weight="bold" text-anchor="middle" fill="#000">-</text>
<text x="925.7" y="295.0" font-size="7.5" font-weight="bold" text-anchor="middle" fill="#000">+</text>
<text x="925.7" y="306.5" font-size="7.5" font-weight="bold" text-anchor="middle" fill="#000">+</text>
<text x="934.1" y="295.0" font-size="7.5" font-weight="bold" text-anchor="middle" fill="#000">+</text>
<text x="934.1" y="306.5" font-size="7.5" font-weight="bold" text-anchor="middle" fill="#000">-</text>
<text x="943.4" y="295.0" font-size="7.5" font-weight="bold" text-anchor="middle" fill="#000">+</text>
<text x="943.4" y="306.5" font-size="7.5" font-weight="bold" text-anchor="middle" fill="#000">+</text>
<text x="952.2" y="295.0" font-size="7.5" font-weight="bold" text-anchor="middle" fill="#000">+</text>
<text x="952.2" y="306.5" font-size="7.5" font-weight="bold" text-anchor="middle" fill="#000">-</text>
<text x="961.7" y="295.0" font-size="7.5" font-weight="bold" text-anchor="middle" fill="#000">+</text>
<text x="961.7" y="306.5" font-size="7.5" font-weight="bold" text-anchor="middle" fill="#000">+</text>
<text x="989.4" y="113.7" font-size="11.5" font-weight="bold" fill="#1846a6">A375</text>
<rect x="1035.7" y="116.8" width="10.0" height="4.4" fill="#fde2c2" stroke="#333" stroke-width="0.8"/>
<text x="1053.2" y="122.0" font-size="8.7" fill="#000">NC</text>
<rect x="1035.7" y="131.2" width="10.0" height="4.4" fill="#cfe2f6" stroke="#333" stroke-width="0.8"/>
<text x="1053.2" y="136.4" font-size="8.7" fill="#000">CBX3-KD1</text>
<rect x="1035.7" y="145.4" width="10.0" height="4.4" fill="#3f8fe2" stroke="#333" stroke-width="0.8"/>
<text x="1053.2" y="150.6" font-size="8.7" fill="#000">CBX3-KD2</text>
<line x1="1027.1" y1="274.3" x2="1027.1" y2="126.2" stroke="#000" stroke-width="1.2"/>
<line x1="1021.1" y1="274.3" x2="1249.6" y2="274.3" stroke="#000" stroke-width="1.2"/>
<line x1="1021.1" y1="274.3" x2="1027.1" y2="274.3" stroke="#000" stroke-width="1.2"/>
<text x="1019.6" y="281.8" font-size="11.5" font-weight="bold" text-anchor="end" fill="#000">0</text>
<line x1="1021.1" y1="225.1" x2="1027.1" y2="225.1" stroke="#000" stroke-width="1.2"/>
<text x="1019.6" y="229.1" font-size="11.5" font-weight="bold" text-anchor="end" fill="#000">20</text>
<line x1="1021.1" y1="175.9" x2="1027.1" y2="175.9" stroke="#000" stroke-width="1.2"/>
<text x="1019.6" y="179.9" font-size="11.5" font-weight="bold" text-anchor="end" fill="#000">40</text>
<line x1="1021.1" y1="126.7" x2="1027.1" y2="126.7" stroke="#000" stroke-width="1.2"/>
<text x="1019.6" y="130.7" font-size="11.5" font-weight="bold" text-anchor="end" fill="#000">60</text>
<text x="994.5" y="196.3" font-size="1" font-weight="bold" fill="#000"></text>
<text x="994.5" y="197.5" font-size="12.3" font-weight="bold" text-anchor="middle" fill="#000" transform="rotate(-90 994.5 197.5)">Cell death (%)</text>
<rect x="1029.6" y="271.8" width="4.4" height="2.5" fill="#fff" stroke="#000" stroke-width="0.8"/>
<line x1="1031.8" y1="271.8" x2="1031.8" y2="268.2" stroke="#000" stroke-width="0.8"/>
<circle cx="1031.8" cy="268.9" r="1.6" fill="#000"/>
<circle cx="1030.8" cy="273.1" r="1.4" fill="#000"/>
<rect x="1040.0" y="272.8" width="4.4" height="1.5" fill="#fff" stroke="#000" stroke-width="0.8"/>
<line x1="1042.2" y1="272.8" x2="1042.2" y2="269.1" stroke="#000" stroke-width="0.8"/>
<circle cx="1042.2" cy="269.9" r="1.6" fill="#000"/>
<circle cx="1041.2" cy="273.1" r="1.4" fill="#000"/>
<rect x="1049.3" y="272.8" width="4.4" height="1.5" fill="#fff" stroke="#000" stroke-width="0.8"/>
<line x1="1051.5" y1="272.8" x2="1051.5" y2="269.1" stroke="#000" stroke-width="0.8"/>
<circle cx="1051.5" cy="269.9" r="1.6" fill="#000"/>
<circle cx="1050.5" cy="273.1" r="1.4" fill="#000"/>
<rect x="1063.2" y="243.6" width="4.4" height="30.8" fill="#fde2c2" stroke="#000" stroke-width="0.8"/>
<line x1="1065.4" y1="243.6" x2="1065.4" y2="239.9" stroke="#000" stroke-width="0.8"/>
<line x1="1063.8" y1="239.9" x2="1067.0" y2="239.9" stroke="#000" stroke-width="0.8"/>
<line x1="1065.4" y1="243.6" x2="1065.4" y2="247.2" stroke="#000" stroke-width="0.8"/>
<circle cx="1065.4" cy="239.9" r="1.8" fill="#111"/>
<circle cx="1064.6" cy="243.6" r="1.8" fill="#111"/>
<circle cx="1066.2" cy="246.5" r="1.8" fill="#111"/>
<rect x="1072.0" y="252.2" width="4.4" height="22.1" fill="#fde2c2" stroke="#000" stroke-width="0.8"/>
<line x1="1074.2" y1="252.2" x2="1074.2" y2="233.7" stroke="#000" stroke-width="0.8"/>
<line x1="1072.6" y1="233.7" x2="1075.8" y2="233.7" stroke="#000" stroke-width="0.8"/>
<line x1="1074.2" y1="252.2" x2="1074.2" y2="270.6" stroke="#000" stroke-width="0.8"/>
<circle cx="1074.2" cy="233.7" r="1.8" fill="#111"/>
<circle cx="1073.4" cy="252.2" r="1.8" fill="#111"/>
<circle cx="1075.0" cy="266.9" r="1.8" fill="#111"/>
<rect x="1080.1" y="212.8" width="4.4" height="61.5" fill="#cfe2f6" stroke="#000" stroke-width="0.8"/>
<line x1="1082.3" y1="212.8" x2="1082.3" y2="205.4" stroke="#000" stroke-width="0.8"/>
<line x1="1080.7" y1="205.4" x2="1083.9" y2="205.4" stroke="#000" stroke-width="0.8"/>
<line x1="1082.3" y1="212.8" x2="1082.3" y2="220.2" stroke="#000" stroke-width="0.8"/>
<circle cx="1082.3" cy="205.4" r="1.8" fill="#111"/>
<circle cx="1081.5" cy="212.8" r="1.8" fill="#111"/>
<circle cx="1083.1" cy="218.7" r="1.8" fill="#111"/>
<rect x="1089.3" y="264.5" width="4.4" height="9.8" fill="#cfe2f6" stroke="#000" stroke-width="0.8"/>
<line x1="1091.5" y1="264.5" x2="1091.5" y2="254.6" stroke="#000" stroke-width="0.8"/>
<line x1="1089.9" y1="254.6" x2="1093.1" y2="254.6" stroke="#000" stroke-width="0.8"/>
<circle cx="1091.5" cy="254.6" r="1.8" fill="#111"/>
<circle cx="1090.7" cy="264.5" r="1.8" fill="#111"/>
<circle cx="1092.3" cy="272.3" r="1.8" fill="#111"/>
<rect x="1098.4" y="223.9" width="4.4" height="50.4" fill="#3f8fe2" stroke="#000" stroke-width="0.8"/>
<line x1="1100.6" y1="223.9" x2="1100.6" y2="207.9" stroke="#000" stroke-width="0.8"/>
<line x1="1099.0" y1="207.9" x2="1102.2" y2="207.9" stroke="#000" stroke-width="0.8"/>
<line x1="1100.6" y1="223.9" x2="1100.6" y2="239.9" stroke="#000" stroke-width="0.8"/>
<circle cx="1100.6" cy="207.9" r="1.8" fill="#111"/>
<circle cx="1099.8" cy="223.9" r="1.8" fill="#111"/>
<circle cx="1101.4" cy="236.7" r="1.8" fill="#111"/>
<rect x="1107.6" y="255.9" width="4.4" height="18.4" fill="#3f8fe2" stroke="#000" stroke-width="0.8"/>
<line x1="1109.8" y1="255.9" x2="1109.8" y2="244.8" stroke="#000" stroke-width="0.8"/>
<line x1="1108.2" y1="244.8" x2="1111.4" y2="244.8" stroke="#000" stroke-width="0.8"/>
<line x1="1109.8" y1="255.9" x2="1109.8" y2="266.9" stroke="#000" stroke-width="0.8"/>
<circle cx="1109.8" cy="244.8" r="1.8" fill="#111"/>
<circle cx="1109.0" cy="255.9" r="1.8" fill="#111"/>
<circle cx="1110.6" cy="264.7" r="1.8" fill="#111"/>
<rect x="1120.4" y="222.6" width="4.4" height="51.7" fill="#fde2c2" stroke="#000" stroke-width="0.8"/>
<line x1="1122.6" y1="222.6" x2="1122.6" y2="205.4" stroke="#000" stroke-width="0.8"/>
<line x1="1121.0" y1="205.4" x2="1124.2" y2="205.4" stroke="#000" stroke-width="0.8"/>
<line x1="1122.6" y1="222.6" x2="1122.6" y2="239.9" stroke="#000" stroke-width="0.8"/>
<circle cx="1122.6" cy="205.4" r="1.8" fill="#111"/>
<circle cx="1121.8" cy="222.6" r="1.8" fill="#111"/>
<circle cx="1123.4" cy="236.4" r="1.8" fill="#111"/>
<rect x="1129.9" y="238.6" width="4.4" height="35.7" fill="#fde2c2" stroke="#000" stroke-width="0.8"/>
<line x1="1132.1" y1="238.6" x2="1132.1" y2="225.1" stroke="#000" stroke-width="0.8"/>
<line x1="1130.5" y1="225.1" x2="1133.7" y2="225.1" stroke="#000" stroke-width="0.8"/>
<line x1="1132.1" y1="238.6" x2="1132.1" y2="252.2" stroke="#000" stroke-width="0.8"/>
<circle cx="1132.1" cy="225.1" r="1.8" fill="#111"/>
<circle cx="1131.3" cy="238.6" r="1.8" fill="#111"/>
<circle cx="1132.9" cy="249.5" r="1.8" fill="#111"/>
<rect x="1138.2" y="169.8" width="4.4" height="104.5" fill="#cfe2f6" stroke="#000" stroke-width="0.8"/>
<line x1="1140.4" y1="169.8" x2="1140.4" y2="151.3" stroke="#000" stroke-width="0.8"/>
<line x1="1138.8" y1="151.3" x2="1142.0" y2="151.3" stroke="#000" stroke-width="0.8"/>
<line x1="1140.4" y1="169.8" x2="1140.4" y2="188.2" stroke="#000" stroke-width="0.8"/>
<circle cx="1140.4" cy="151.3" r="1.8" fill="#111"/>
<circle cx="1139.6" cy="169.8" r="1.8" fill="#111"/>
<circle cx="1141.2" cy="184.5" r="1.8" fill="#111"/>
<rect x="1147.0" y="265.7" width="4.4" height="8.6" fill="#cfe2f6" stroke="#000" stroke-width="0.8"/>
<line x1="1149.2" y1="265.7" x2="1149.2" y2="254.6" stroke="#000" stroke-width="0.8"/>
<line x1="1147.6" y1="254.6" x2="1150.8" y2="254.6" stroke="#000" stroke-width="0.8"/>
<circle cx="1149.2" cy="254.6" r="1.8" fill="#111"/>
<circle cx="1148.4" cy="265.7" r="1.8" fill="#111"/>
<circle cx="1150.0" cy="273.1" r="1.8" fill="#111"/>
<rect x="1156.3" y="194.4" width="4.4" height="80.0" fill="#3f8fe2" stroke="#000" stroke-width="0.8"/>
<line x1="1158.5" y1="194.4" x2="1158.5" y2="182.1" stroke="#000" stroke-width="0.8"/>
<line x1="1156.9" y1="182.1" x2="1160.1" y2="182.1" stroke="#000" stroke-width="0.8"/>
<line x1="1158.5" y1="194.4" x2="1158.5" y2="206.7" stroke="#000" stroke-width="0.8"/>
<circle cx="1158.5" cy="182.1" r="1.8" fill="#111"/>
<circle cx="1157.7" cy="194.4" r="1.8" fill="#111"/>
<circle cx="1159.3" cy="204.2" r="1.8" fill="#111"/>
<rect x="1165.1" y="262.0" width="4.4" height="12.3" fill="#3f8fe2" stroke="#000" stroke-width="0.8"/>
<line x1="1167.3" y1="262.0" x2="1167.3" y2="254.6" stroke="#000" stroke-width="0.8"/>
<line x1="1165.7" y1="254.6" x2="1168.9" y2="254.6" stroke="#000" stroke-width="0.8"/>
<line x1="1167.3" y1="262.0" x2="1167.3" y2="269.4" stroke="#000" stroke-width="0.8"/>
<circle cx="1167.3" cy="254.6" r="1.8" fill="#111"/>
<circle cx="1166.5" cy="262.0" r="1.8" fill="#111"/>
<circle cx="1168.1" cy="267.9" r="1.8" fill="#111"/>
<rect x="1177.8" y="211.6" width="4.4" height="62.7" fill="#fde2c2" stroke="#000" stroke-width="0.8"/>
<line x1="1180.0" y1="211.6" x2="1180.0" y2="199.3" stroke="#000" stroke-width="0.8"/>
<line x1="1178.4" y1="199.3" x2="1181.6" y2="199.3" stroke="#000" stroke-width="0.8"/>
<line x1="1180.0" y1="211.6" x2="1180.0" y2="223.9" stroke="#000" stroke-width="0.8"/>
<circle cx="1180.0" cy="199.3" r="1.8" fill="#111"/>
<circle cx="1179.2" cy="211.6" r="1.8" fill="#111"/>
<circle cx="1180.8" cy="221.4" r="1.8" fill="#111"/>
<rect x="1186.4" y="231.2" width="4.4" height="43.0" fill="#fde2c2" stroke="#000" stroke-width="0.8"/>
<line x1="1188.6" y1="231.2" x2="1188.6" y2="217.7" stroke="#000" stroke-width="0.8"/>
<line x1="1187.0" y1="217.7" x2="1190.2" y2="217.7" stroke="#000" stroke-width="0.8"/>
<line x1="1188.6" y1="231.2" x2="1188.6" y2="244.8" stroke="#000" stroke-width="0.8"/>
<circle cx="1188.6" cy="217.7" r="1.8" fill="#111"/>
<circle cx="1187.8" cy="231.2" r="1.8" fill="#111"/>
<circle cx="1189.4" cy="242.1" r="1.8" fill="#111"/>
<rect x="1195.2" y="161.1" width="4.4" height="113.2" fill="#cfe2f6" stroke="#000" stroke-width="0.8"/>
<line x1="1197.4" y1="161.1" x2="1197.4" y2="152.5" stroke="#000" stroke-width="0.8"/>
<line x1="1195.8" y1="152.5" x2="1199.0" y2="152.5" stroke="#000" stroke-width="0.8"/>
<line x1="1197.4" y1="161.1" x2="1197.4" y2="169.8" stroke="#000" stroke-width="0.8"/>
<circle cx="1197.4" cy="152.5" r="1.8" fill="#111"/>
<circle cx="1196.6" cy="161.1" r="1.8" fill="#111"/>
<circle cx="1198.2" cy="168.0" r="1.8" fill="#111"/>
<rect x="1204.5" y="264.5" width="4.4" height="9.8" fill="#cfe2f6" stroke="#000" stroke-width="0.8"/>
<line x1="1206.7" y1="264.5" x2="1206.7" y2="254.6" stroke="#000" stroke-width="0.8"/>
<line x1="1205.1" y1="254.6" x2="1208.3" y2="254.6" stroke="#000" stroke-width="0.8"/>
<circle cx="1206.7" cy="254.6" r="1.8" fill="#111"/>
<circle cx="1205.9" cy="264.5" r="1.8" fill="#111"/>
<circle cx="1207.5" cy="272.3" r="1.8" fill="#111"/>
<rect x="1213.3" y="151.3" width="4.4" height="123.0" fill="#3f8fe2" stroke="#000" stroke-width="0.8"/>
<line x1="1215.5" y1="151.3" x2="1215.5" y2="147.6" stroke="#000" stroke-width="0.8"/>
<line x1="1213.9" y1="147.6" x2="1217.1" y2="147.6" stroke="#000" stroke-width="0.8"/>
<line x1="1215.5" y1="151.3" x2="1215.5" y2="155.0" stroke="#000" stroke-width="0.8"/>
<circle cx="1215.5" cy="147.6" r="1.8" fill="#111"/>
<circle cx="1214.7" cy="151.3" r="1.8" fill="#111"/>
<circle cx="1216.3" cy="154.3" r="1.8" fill="#111"/>
<rect x="1222.3" y="254.6" width="4.4" height="19.7" fill="#3f8fe2" stroke="#000" stroke-width="0.8"/>
<line x1="1224.5" y1="254.6" x2="1224.5" y2="250.9" stroke="#000" stroke-width="0.8"/>
<line x1="1222.9" y1="250.9" x2="1226.1" y2="250.9" stroke="#000" stroke-width="0.8"/>
<line x1="1224.5" y1="254.6" x2="1224.5" y2="258.3" stroke="#000" stroke-width="0.8"/>
<circle cx="1224.5" cy="250.9" r="1.8" fill="#111"/>
<circle cx="1223.7" cy="254.6" r="1.8" fill="#111"/>
<circle cx="1225.3" cy="257.6" r="1.8" fill="#111"/>
<line x1="1031.8" y1="274.3" x2="1031.8" y2="275.8" stroke="#000" stroke-width="0.8"/>
<line x1="1042.2" y1="274.3" x2="1042.2" y2="275.8" stroke="#000" stroke-width="0.8"/>
<line x1="1051.5" y1="274.3" x2="1051.5" y2="275.8" stroke="#000" stroke-width="0.8"/>
<line x1="1065.4" y1="274.3" x2="1065.4" y2="275.8" stroke="#000" stroke-width="0.8"/>
<line x1="1074.2" y1="274.3" x2="1074.2" y2="275.8" stroke="#000" stroke-width="0.8"/>
<line x1="1082.3" y1="274.3" x2="1082.3" y2="275.8" stroke="#000" stroke-width="0.8"/>
<line x1="1091.5" y1="274.3" x2="1091.5" y2="275.8" stroke="#000" stroke-width="0.8"/>
<line x1="1100.6" y1="274.3" x2="1100.6" y2="275.8" stroke="#000" stroke-width="0.8"/>
<line x1="1109.8" y1="274.3" x2="1109.8" y2="275.8" stroke="#000" stroke-width="0.8"/>
<line x1="1122.6" y1="274.3" x2="1122.6" y2="275.8" stroke="#000" stroke-width="0.8"/>
<line x1="1132.1" y1="274.3" x2="1132.1" y2="275.8" stroke="#000" stroke-width="0.8"/>
<line x1="1140.4" y1="274.3" x2="1140.4" y2="275.8" stroke="#000" stroke-width="0.8"/>
<line x1="1149.2" y1="274.3" x2="1149.2" y2="275.8" stroke="#000" stroke-width="0.8"/>
<line x1="1158.5" y1="274.3" x2="1158.5" y2="275.8" stroke="#000" stroke-width="0.8"/>
<line x1="1167.3" y1="274.3" x2="1167.3" y2="275.8" stroke="#000" stroke-width="0.8"/>
<line x1="1180.0" y1="274.3" x2="1180.0" y2="275.8" stroke="#000" stroke-width="0.8"/>
<line x1="1188.6" y1="274.3" x2="1188.6" y2="275.8" stroke="#000" stroke-width="0.8"/>
<line x1="1197.4" y1="274.3" x2="1197.4" y2="275.8" stroke="#000" stroke-width="0.8"/>
<line x1="1206.7" y1="274.3" x2="1206.7" y2="275.8" stroke="#000" stroke-width="0.8"/>
<line x1="1215.5" y1="274.3" x2="1215.5" y2="275.8" stroke="#000" stroke-width="0.8"/>
<line x1="1224.5" y1="274.3" x2="1224.5" y2="275.8" stroke="#000" stroke-width="0.8"/>
<line x1="1229.5" y1="274.3" x2="1229.5" y2="275.8" stroke="#000" stroke-width="0.8"/>
<line x1="1234.5" y1="274.3" x2="1234.5" y2="275.8" stroke="#000" stroke-width="0.8"/>
<line x1="1239.5" y1="274.3" x2="1239.5" y2="275.8" stroke="#000" stroke-width="0.8"/>
<line x1="1244.5" y1="274.3" x2="1244.5" y2="275.8" stroke="#000" stroke-width="0.8"/>
<line x1="1065.4" y1="226.4" x2="1074.6" y2="226.4" stroke="#333" stroke-width="0.9"/>
<text x="1070.0" y="225.2" font-size="6.5" text-anchor="middle" fill="#222">ns</text>
<line x1="1064.2" y1="184.4" x2="1082.7" y2="184.4" stroke="#333" stroke-width="0.9"/>
<text x="1073.5" y="183.2" font-size="7" font-weight="bold" text-anchor="middle" fill="#222">***</text>
<line x1="1064.2" y1="175.8" x2="1100.8" y2="175.8" stroke="#333" stroke-width="0.9"/>
<text x="1082.5" y="174.6" font-size="6.5" text-anchor="middle" fill="#222">ns</text>
<line x1="1081.6" y1="199.7" x2="1092.0" y2="199.7" stroke="#333" stroke-width="0.9"/>
<text x="1086.8" y="198.5" font-size="7" font-weight="bold" text-anchor="middle" fill="#222">****</text>
<line x1="1100.8" y1="204.1" x2="1108.7" y2="204.1" stroke="#333" stroke-width="0.9"/>
<text x="1104.8" y="202.9" font-size="7" font-weight="bold" text-anchor="middle" fill="#222">*</text>
<line x1="1123.3" y1="199.5" x2="1131.9" y2="199.5" stroke="#333" stroke-width="0.9"/>
<text x="1127.6" y="198.3" font-size="6.5" text-anchor="middle" fill="#222">ns</text>
<line x1="1122.6" y1="140.4" x2="1141.4" y2="140.4" stroke="#333" stroke-width="0.9"/>
<text x="1132.0" y="139.2" font-size="7" font-weight="bold" text-anchor="middle" fill="#222">***</text>
<line x1="1122.6" y1="133.7" x2="1159.2" y2="133.7" stroke="#333" stroke-width="0.9"/>
<text x="1140.9" y="132.5" font-size="7" font-weight="bold" text-anchor="middle" fill="#222">*</text>
<line x1="1140.2" y1="146.4" x2="1151.8" y2="146.4" stroke="#333" stroke-width="0.9"/>
<text x="1146.0" y="145.2" font-size="7" font-weight="bold" text-anchor="middle" fill="#222">****</text>
<line x1="1158.5" y1="159.6" x2="1169.2" y2="159.6" stroke="#333" stroke-width="0.9"/>
<text x="1163.8" y="158.4" font-size="7" font-weight="bold" text-anchor="middle" fill="#222">****</text>
<line x1="1180.5" y1="183.3" x2="1188.9" y2="183.3" stroke="#333" stroke-width="0.9"/>
<text x="1184.7" y="182.1" font-size="7" font-weight="bold" text-anchor="middle" fill="#222">*</text>
<line x1="1181.2" y1="136.0" x2="1199.7" y2="136.0" stroke="#333" stroke-width="0.9"/>
<text x="1190.5" y="134.8" font-size="7" font-weight="bold" text-anchor="middle" fill="#222">***</text>
<line x1="1181.2" y1="129.5" x2="1217.8" y2="129.5" stroke="#333" stroke-width="0.9"/>
<text x="1199.5" y="128.3" font-size="7" font-weight="bold" text-anchor="middle" fill="#222">***</text>
<line x1="1197.9" y1="148.0" x2="1209.5" y2="148.0" stroke="#333" stroke-width="0.9"/>
<text x="1203.7" y="146.8" font-size="7" font-weight="bold" text-anchor="middle" fill="#222">****</text>
<line x1="1214.8" y1="144.6" x2="1225.9" y2="144.6" stroke="#333" stroke-width="0.9"/>
<text x="1220.3" y="143.4" font-size="7" font-weight="bold" text-anchor="middle" fill="#222">****</text>
<text x="1089.7" y="283.0" font-size="8.5" text-anchor="middle" fill="#000">0.25um</text>
<line x1="1064.9" y1="284.5" x2="1109.8" y2="284.5" stroke="#333" stroke-width="1"/>
<text x="1145.3" y="283.0" font-size="8.5" text-anchor="middle" fill="#000">0.5um</text>
<line x1="1122.6" y1="284.5" x2="1167.8" y2="284.5" stroke="#333" stroke-width="1"/>
<text x="1203.2" y="283.0" font-size="8.5" text-anchor="middle" fill="#000">1um</text>
<line x1="1178.9" y1="284.5" x2="1224.5" y2="284.5" stroke="#333" stroke-width="1"/>
<text x="1020.6" y="293.5" font-size="7.5" font-weight="bold" text-anchor="end" fill="#000">RSL3</text>
<text x="1020.6" y="305.0" font-size="7.5" font-weight="bold" text-anchor="end" fill="#000">2um Fer-1</text>
<text x="1031.8" y="293.5" font-size="7.5" font-weight="bold" text-anchor="middle" fill="#000">-</text>
<text x="1031.8" y="305.0" font-size="7.5" font-weight="bold" text-anchor="middle" fill="#000">-</text>
<text x="1042.2" y="293.5" font-size="7.5" font-weight="bold" text-anchor="middle" fill="#000">-</text>
<text x="1042.2" y="305.0" font-size="7.5" font-weight="bold" text-anchor="middle" fill="#000">-</text>
<text x="1051.5" y="293.5" font-size="7.5" font-weight="bold" text-anchor="middle" fill="#000">-</text>
<text x="1051.5" y="305.0" font-size="7.5" font-weight="bold" text-anchor="middle" fill="#000">-</text>
<text x="1065.4" y="293.5" font-size="7.5" font-weight="bold" text-anchor="middle" fill="#000">+</text>
<text x="1065.4" y="305.0" font-size="7.5" font-weight="bold" text-anchor="middle" fill="#000">-</text>
<text x="1074.2" y="293.5" font-size="7.5" font-weight="bold" text-anchor="middle" fill="#000">+</text>
<text x="1074.2" y="305.0" font-size="7.5" font-weight="bold" text-anchor="middle" fill="#000">+</text>
<text x="1082.3" y="293.5" font-size="7.5" font-weight="bold" text-anchor="middle" fill="#000">+</text>
<text x="1082.3" y="305.0" font-size="7.5" font-weight="bold" text-anchor="middle" fill="#000">-</text>
<text x="1091.5" y="293.5" font-size="7.5" font-weight="bold" text-anchor="middle" fill="#000">+</text>
<text x="1091.5" y="305.0" font-size="7.5" font-weight="bold" text-anchor="middle" fill="#000">+</text>
<text x="1100.6" y="293.5" font-size="7.5" font-weight="bold" text-anchor="middle" fill="#000">+</text>
<text x="1100.6" y="305.0" font-size="7.5" font-weight="bold" text-anchor="middle" fill="#000">-</text>
<text x="1109.8" y="293.5" font-size="7.5" font-weight="bold" text-anchor="middle" fill="#000">+</text>
<text x="1109.8" y="305.0" font-size="7.5" font-weight="bold" text-anchor="middle" fill="#000">+</text>
<text x="1122.6" y="293.5" font-size="7.5" font-weight="bold" text-anchor="middle" fill="#000">+</text>
<text x="1122.6" y="305.0" font-size="7.5" font-weight="bold" text-anchor="middle" fill="#000">-</text>
<text x="1132.1" y="293.5" font-size="7.5" font-weight="bold" text-anchor="middle" fill="#000">+</text>
<text x="1132.1" y="305.0" font-size="7.5" font-weight="bold" text-anchor="middle" fill="#000">+</text>
<text x="1140.4" y="293.5" font-size="7.5" font-weight="bold" text-anchor="middle" fill="#000">+</text>
<text x="1140.4" y="305.0" font-size="7.5" font-weight="bold" text-anchor="middle" fill="#000">-</text>
<text x="1149.2" y="293.5" font-size="7.5" font-weight="bold" text-anchor="middle" fill="#000">+</text>
<text x="1149.2" y="305.0" font-size="7.5" font-weight="bold" text-anchor="middle" fill="#000">+</text>
<text x="1158.5" y="293.5" font-size="7.5" font-weight="bold" text-anchor="middle" fill="#000">+</text>
<text x="1158.5" y="305.0" font-size="7.5" font-weight="bold" text-anchor="middle" fill="#000">-</text>
<text x="1167.3" y="293.5" font-size="7.5" font-weight="bold" text-anchor="middle" fill="#000">+</text>
<text x="1167.3" y="305.0" font-size="7.5" font-weight="bold" text-anchor="middle" fill="#000">+</text>
<text x="1180.0" y="293.5" font-size="7.5" font-weight="bold" text-anchor="middle" fill="#000">+</text>
<text x="1180.0" y="305.0" font-size="7.5" font-weight="bold" text-anchor="middle" fill="#000">-</text>
<text x="1188.6" y="293.5" font-size="7.5" font-weight="bold" text-anchor="middle" fill="#000">+</text>
<text x="1188.6" y="305.0" font-size="7.5" font-weight="bold" text-anchor="middle" fill="#000">+</text>
<text x="1197.4" y="293.5" font-size="7.5" font-weight="bold" text-anchor="middle" fill="#000">+</text>
<text x="1197.4" y="305.0" font-size="7.5" font-weight="bold" text-anchor="middle" fill="#000">-</text>
<text x="1206.7" y="293.5" font-size="7.5" font-weight="bold" text-anchor="middle" fill="#000">+</text>
<text x="1206.7" y="305.0" font-size="7.5" font-weight="bold" text-anchor="middle" fill="#000">+</text>
<text x="1215.5" y="293.5" font-size="7.5" font-weight="bold" text-anchor="middle" fill="#000">+</text>
<text x="1215.5" y="305.0" font-size="7.5" font-weight="bold" text-anchor="middle" fill="#000">-</text>
<text x="1224.5" y="293.5" font-size="7.5" font-weight="bold" text-anchor="middle" fill="#000">+</text>
<text x="1224.5" y="305.0" font-size="7.5" font-weight="bold" text-anchor="middle" fill="#000">+</text>
<text x="36.0" y="356.8" font-size="25" font-weight="bold" fill="#231815">D</text>
<text x="137.0" y="411.7" font-size="11" font-weight="bold" text-anchor="middle" fill="#e8302a">CBX3</text>
<text x="180.5" y="411.7" font-size="11" font-weight="bold" text-anchor="middle" fill="#e8302a">GPX4</text>
<text x="221.0" y="411.7" font-size="11" font-weight="bold" text-anchor="middle" fill="#000">NFE2L2</text>
<text x="265.7" y="411.7" font-size="11" font-weight="bold" text-anchor="middle" fill="#000">PCBP2</text>
<text x="303.7" y="411.7" font-size="11" font-weight="bold" text-anchor="middle" fill="#000">G6PD</text>
<text x="122.7" y="425.5" font-size="9" font-weight="bold" text-anchor="middle" fill="#000">0</text>
<line x1="122.7" y1="427.5" x2="122.7" y2="429.7" stroke="#000" stroke-width="0.8"/>
<text x="134.5" y="425.5" font-size="9" font-weight="bold" text-anchor="middle" fill="#000">1</text>
<line x1="134.5" y1="427.5" x2="134.5" y2="429.7" stroke="#000" stroke-width="0.8"/>
<text x="146.3" y="425.5" font-size="9" font-weight="bold" text-anchor="middle" fill="#000">2</text>
<line x1="146.3" y1="427.5" x2="146.3" y2="429.7" stroke="#000" stroke-width="0.8"/>
<text x="158.1" y="425.5" font-size="9" font-weight="bold" text-anchor="middle" fill="#000">3</text>
<line x1="158.1" y1="427.5" x2="158.1" y2="429.7" stroke="#000" stroke-width="0.8"/>
<line x1="122.7" y1="429.7" x2="161.1" y2="429.7" stroke="#000" stroke-width="0.9"/>
<line x1="122.7" y1="429.7" x2="122.7" y2="533.6" stroke="#000" stroke-width="0.9"/>
<text x="161.3" y="425.5" font-size="9" font-weight="bold" text-anchor="middle" fill="#000">0</text>
<line x1="161.3" y1="427.5" x2="161.3" y2="429.7" stroke="#000" stroke-width="0.8"/>
<text x="173.1" y="425.5" font-size="9" font-weight="bold" text-anchor="middle" fill="#000">1</text>
<line x1="173.1" y1="427.5" x2="173.1" y2="429.7" stroke="#000" stroke-width="0.8"/>
<text x="184.9" y="425.5" font-size="9" font-weight="bold" text-anchor="middle" fill="#000">2</text>
<line x1="184.9" y1="427.5" x2="184.9" y2="429.7" stroke="#000" stroke-width="0.8"/>
<text x="196.7" y="425.5" font-size="9" font-weight="bold" text-anchor="middle" fill="#000">3</text>
<line x1="196.7" y1="427.5" x2="196.7" y2="429.7" stroke="#000" stroke-width="0.8"/>
<line x1="161.3" y1="429.7" x2="199.7" y2="429.7" stroke="#000" stroke-width="0.9"/>
<line x1="161.3" y1="429.7" x2="161.3" y2="533.6" stroke="#000" stroke-width="0.9"/>
<text x="199.6" y="425.5" font-size="9" font-weight="bold" text-anchor="middle" fill="#000">0</text>
<line x1="199.6" y1="427.5" x2="199.6" y2="429.7" stroke="#000" stroke-width="0.8"/>
<text x="211.4" y="425.5" font-size="9" font-weight="bold" text-anchor="middle" fill="#000">1</text>
<line x1="211.4" y1="427.5" x2="211.4" y2="429.7" stroke="#000" stroke-width="0.8"/>
<text x="223.2" y="425.5" font-size="9" font-weight="bold" text-anchor="middle" fill="#000">2</text>
<line x1="223.2" y1="427.5" x2="223.2" y2="429.7" stroke="#000" stroke-width="0.8"/>
<text x="235.0" y="425.5" font-size="9" font-weight="bold" text-anchor="middle" fill="#000">3</text>
<line x1="235.0" y1="427.5" x2="235.0" y2="429.7" stroke="#000" stroke-width="0.8"/>
<line x1="199.6" y1="429.7" x2="238.0" y2="429.7" stroke="#000" stroke-width="0.9"/>
<line x1="199.6" y1="429.7" x2="199.6" y2="533.6" stroke="#000" stroke-width="0.9"/>
<text x="238.5" y="425.5" font-size="9" font-weight="bold" text-anchor="middle" fill="#000">0</text>
<line x1="238.5" y1="427.5" x2="238.5" y2="429.7" stroke="#000" stroke-width="0.8"/>
<text x="250.3" y="425.5" font-size="9" font-weight="bold" text-anchor="middle" fill="#000">1</text>
<line x1="250.3" y1="427.5" x2="250.3" y2="429.7" stroke="#000" stroke-width="0.8"/>
<text x="262.1" y="425.5" font-size="9" font-weight="bold" text-anchor="middle" fill="#000">2</text>
<line x1="262.1" y1="427.5" x2="262.1" y2="429.7" stroke="#000" stroke-width="0.8"/>
<line x1="238.5" y1="429.7" x2="276.9" y2="429.7" stroke="#000" stroke-width="0.9"/>
<line x1="238.5" y1="429.7" x2="238.5" y2="533.6" stroke="#000" stroke-width="0.9"/>
<text x="276.8" y="425.5" font-size="9" font-weight="bold" text-anchor="middle" fill="#000">0</text>
<line x1="276.8" y1="427.5" x2="276.8" y2="429.7" stroke="#000" stroke-width="0.8"/>
<text x="288.6" y="425.5" font-size="9" font-weight="bold" text-anchor="middle" fill="#000">1</text>
<line x1="288.6" y1="427.5" x2="288.6" y2="429.7" stroke="#000" stroke-width="0.8"/>
<text x="300.4" y="425.5" font-size="9" font-weight="bold" text-anchor="middle" fill="#000">2</text>
<line x1="300.4" y1="427.5" x2="300.4" y2="429.7" stroke="#000" stroke-width="0.8"/>
<text x="312.2" y="425.5" font-size="9" font-weight="bold" text-anchor="middle" fill="#000">3</text>
<line x1="312.2" y1="427.5" x2="312.2" y2="429.7" stroke="#000" stroke-width="0.8"/>
<line x1="276.8" y1="429.7" x2="314.8" y2="429.7" stroke="#000" stroke-width="0.9"/>
<line x1="276.8" y1="429.7" x2="276.8" y2="533.6" stroke="#000" stroke-width="0.9"/>
<path d="M134.3,458.0 L134.5,444.0 L135.2,438.0 L136.3,437.0 L138.0,442.0 L140.4,449.0 L143.9,453.0 L148.7,455.5 L154.6,457.0 L158.7,458.0 L158.7,458.0 L154.6,459.0 L148.7,460.5 L143.9,463.0 L140.4,467.0 L138.0,474.0 L136.3,479.0 L135.2,478.0 L134.5,472.0 L134.3,458.0 Z" fill="#e41a1c" stroke="#222" stroke-width="0.8" stroke-linejoin="round"/>
<path d="M161.3,458.0 L161.5,438.0 L162.0,439.0 L162.5,450.0 L166.0,450.0 L170.7,452.0 L175.5,454.0 L180.2,455.5 L184.9,457.0 L187.3,458.0 L187.3,458.0 L184.9,459.0 L180.2,460.5 L175.5,462.0 L170.7,464.0 L166.0,466.0 L162.5,466.0 L162.0,477.0 L161.5,478.0 L161.3,458.0 Z" fill="#e41a1c" stroke="#222" stroke-width="0.8" stroke-linejoin="round"/>
<path d="M199.6,458.0 L200.0,444.0 L200.5,444.0 L201.4,455.0 L203.7,451.0 L209.0,442.0 L214.9,437.0 L218.5,439.0 L223.2,447.0 L227.9,453.0 L233.2,458.0 L233.2,458.0 L227.9,463.0 L223.2,469.0 L218.5,477.0 L214.9,479.0 L209.0,474.0 L203.7,465.0 L201.4,461.0 L200.5,472.0 L200.0,472.0 L199.6,458.0 Z" fill="#e41a1c" stroke="#222" stroke-width="0.8" stroke-linejoin="round"/>
<path d="M238.5,458.0 L238.9,449.0 L239.7,452.0 L240.9,455.0 L244.4,450.0 L250.3,442.0 L256.2,437.0 L259.7,443.0 L263.3,450.0 L266.2,455.0 L268.0,458.0 L268.0,458.0 L266.2,461.0 L263.3,466.0 L259.7,473.0 L256.2,479.0 L250.3,474.0 L244.4,466.0 L240.9,461.0 L239.7,464.0 L238.9,467.0 L238.5,458.0 Z" fill="#e41a1c" stroke="#222" stroke-width="0.8" stroke-linejoin="round"/>
<path d="M276.8,458.0 L277.2,451.0 L278.6,455.0 L281.5,449.0 L286.2,439.0 L289.8,437.0 L294.5,442.0 L300.4,448.0 L306.3,453.0 L312.2,458.0 L312.2,458.0 L306.3,463.0 L300.4,468.0 L294.5,474.0 L289.8,479.0 L286.2,477.0 L281.5,467.0 L278.6,461.0 L277.2,465.0 L276.8,458.0 Z" fill="#e41a1c" stroke="#222" stroke-width="0.8" stroke-linejoin="round"/>
<path d="M123.3,505.0 L123.6,486.0 L124.1,495.0 L124.6,504.0 L126.2,502.0 L129.2,496.0 L132.1,486.0 L133.3,485.0 L133.9,493.0 L134.1,505.0 L134.1,505.0 L133.9,517.0 L133.3,525.0 L132.1,524.0 L129.2,514.0 L126.2,508.0 L124.6,506.0 L124.1,515.0 L123.6,524.0 L123.3,505.0 Z" fill="#3a7fc2" stroke="#222" stroke-width="0.8" stroke-linejoin="round"/>
<path d="M161.3,505.0 L161.5,485.0 L162.0,487.0 L162.5,499.0 L166.0,498.0 L170.7,501.0 L175.5,503.0 L180.2,504.0 L183.7,505.0 L183.7,505.0 L180.2,506.0 L175.5,507.0 L170.7,509.0 L166.0,512.0 L162.5,511.0 L162.0,523.0 L161.5,525.0 L161.3,505.0 Z" fill="#3a7fc2" stroke="#222" stroke-width="0.8" stroke-linejoin="round"/>
<path d="M199.6,505.0 L200.0,491.0 L200.5,491.0 L201.4,502.0 L203.7,498.0 L209.0,489.0 L214.9,484.0 L218.5,486.0 L223.2,494.0 L230.3,502.0 L235.0,505.0 L235.0,505.0 L230.3,508.0 L223.2,516.0 L218.5,524.0 L214.9,526.0 L209.0,521.0 L203.7,512.0 L201.4,508.0 L200.5,519.0 L200.0,519.0 L199.6,505.0 Z" fill="#3a7fc2" stroke="#222" stroke-width="0.8" stroke-linejoin="round"/>
<path d="M238.5,505.0 L238.9,496.0 L239.7,499.0 L240.9,502.0 L244.4,497.0 L250.3,489.0 L256.2,484.0 L259.7,490.0 L264.5,498.0 L270.4,503.0 L275.1,505.0 L275.1,505.0 L270.4,507.0 L264.5,512.0 L259.7,520.0 L256.2,526.0 L250.3,521.0 L244.4,513.0 L240.9,508.0 L239.7,511.0 L238.9,514.0 L238.5,505.0 Z" fill="#3a7fc2" stroke="#222" stroke-width="0.8" stroke-linejoin="round"/>
<path d="M276.8,505.0 L277.2,498.0 L278.6,502.0 L281.5,496.0 L286.2,486.0 L289.8,484.0 L294.5,489.0 L300.4,495.0 L307.5,501.0 L314.6,505.0 L314.6,505.0 L307.5,509.0 L300.4,515.0 L294.5,521.0 L289.8,526.0 L286.2,524.0 L281.5,514.0 L278.6,508.0 L277.2,512.0 L276.8,505.0 Z" fill="#3a7fc2" stroke="#222" stroke-width="0.8" stroke-linejoin="round"/>
<text x="81.2" y="450.0" font-size="10" font-weight="bold" text-anchor="middle" fill="#000">CTC</text>
<text x="81.2" y="463.0" font-size="10" font-weight="bold" text-anchor="middle" fill="#000">(CBX3 high)</text>
<text x="81.2" y="502.0" font-size="10" font-weight="bold" text-anchor="middle" fill="#000">CTC</text>
<text x="81.2" y="515.0" font-size="10" font-weight="bold" text-anchor="middle" fill="#000">(CBX3 Low)</text>
<defs><filter id="bl8" x="-50%" y="-100%" width="200%" height="300%"><feGaussianBlur stdDeviation="0.8"/></filter><filter id="bl10" x="-50%" y="-100%" width="200%" height="300%"><feGaussianBlur stdDeviation="1.0"/></filter><filter id="bl12" x="-50%" y="-100%" width="200%" height="300%"><feGaussianBlur stdDeviation="1.2"/></filter><filter id="bl15" x="-50%" y="-100%" width="200%" height="300%"><feGaussianBlur stdDeviation="1.5"/></filter><filter id="bl18" x="-50%" y="-100%" width="200%" height="300%"><feGaussianBlur stdDeviation="1.8"/></filter><filter id="bl20" x="-50%" y="-100%" width="200%" height="300%"><feGaussianBlur stdDeviation="2.0"/></filter><filter id="bl25" x="-50%" y="-100%" width="200%" height="300%"><feGaussianBlur stdDeviation="2.5"/></filter><filter id="bl30" x="-50%" y="-100%" width="200%" height="300%"><feGaussianBlur stdDeviation="3.0"/></filter></defs>
<text x="384.0" y="357.4" font-size="25" font-weight="bold" fill="#231815">E</text>
<rect x="436.5" y="420.3" width="158.0" height="28.2" fill="#fff"/>
<rect x="436.5" y="457.2" width="158.0" height="22.5" fill="#fff"/>
<rect x="436.5" y="487.8" width="158.0" height="29.7" fill="#fff"/>
<clipPath id="eclipL"><rect x="436.5" y="420.3" width="158.0" height="28.2"/><rect x="436.5" y="457.2" width="158.0" height="22.5"/><rect x="436.5" y="487.8" width="158.0" height="29.7"/></clipPath>
<g clip-path="url(#eclipL)">
<rect x="438.0" y="420.0" width="44.0" height="30.0" rx="10.0" fill="#2a2a2a" opacity="0.35" filter="url(#bl30)"/>
<rect x="439.0" y="425.0" width="42.0" height="20.0" rx="10.0" fill="#2a2a2a" opacity="1.0" filter="url(#bl25)"/>
<rect x="440.0" y="427.0" width="40.0" height="18.0" rx="6.0" fill="#1c1c1c" opacity="0.35" filter="url(#bl30)"/>
<rect x="441.0" y="430.0" width="38.0" height="12.0" rx="6.0" fill="#1c1c1c" opacity="1.0" filter="url(#bl20)"/>
<rect x="491.5" y="425.2" width="42.5" height="22.5" rx="7.5" fill="#4e4e4e" opacity="0.35" filter="url(#bl30)"/>
<rect x="492.5" y="429.0" width="40.5" height="15.0" rx="7.5" fill="#4e4e4e" opacity="1.0" filter="url(#bl25)"/>
<rect x="544.5" y="425.5" width="42.5" height="21.0" rx="7.0" fill="#505050" opacity="0.35" filter="url(#bl30)"/>
<rect x="545.5" y="429.0" width="40.5" height="14.0" rx="7.0" fill="#505050" opacity="1.0" filter="url(#bl25)"/>
<rect x="444.0" y="461.5" width="35.0" height="18.0" rx="6.0" fill="#2a2a2a" opacity="0.35" filter="url(#bl30)"/>
<rect x="445.0" y="464.5" width="33.0" height="12.0" rx="6.0" fill="#2a2a2a" opacity="1.0" filter="url(#bl25)"/>
<rect x="492.5" y="461.8" width="40.5" height="16.5" rx="5.5" fill="#7a7a7a" opacity="0.35" filter="url(#bl30)"/>
<rect x="493.5" y="464.5" width="38.5" height="11.0" rx="5.5" fill="#7a7a7a" opacity="1.0" filter="url(#bl25)"/>
<rect x="550.0" y="464.2" width="36.0" height="13.5" rx="4.5" fill="#a8a8a8" opacity="0.35" filter="url(#bl30)"/>
<rect x="551.0" y="466.5" width="34.0" height="9.0" rx="4.5" fill="#a8a8a8" opacity="1.0" filter="url(#bl25)"/>
<rect x="439.5" y="495.1" width="44.5" height="15.0" rx="5.0" fill="#0a0a0a" opacity="0.35" filter="url(#bl30)"/>
<rect x="440.5" y="497.6" width="42.5" height="10.0" rx="5.0" fill="#0a0a0a" opacity="1.0" filter="url(#bl18)"/>
<rect x="495.3" y="496.6" width="41.7" height="13.5" rx="4.5" fill="#1a1a1a" opacity="0.35" filter="url(#bl30)"/>
<rect x="496.3" y="498.8" width="39.7" height="9.0" rx="4.5" fill="#1a1a1a" opacity="1.0" filter="url(#bl18)"/>
<rect x="548.3" y="496.1" width="43.7" height="13.5" rx="4.5" fill="#1e1e1e" opacity="0.35" filter="url(#bl30)"/>
<rect x="549.3" y="498.3" width="41.7" height="9.0" rx="4.5" fill="#1e1e1e" opacity="1.0" filter="url(#bl18)"/>
</g>
<rect x="436.5" y="420.3" width="158.0" height="28.2" fill="none" stroke="#111" stroke-width="1.1"/>
<rect x="436.5" y="457.2" width="158.0" height="22.5" fill="none" stroke="#111" stroke-width="1.1"/>
<rect x="436.5" y="487.8" width="158.0" height="29.7" fill="none" stroke="#111" stroke-width="1.1"/>
<text x="428.8" y="440.9" font-size="12.4" font-weight="bold" text-anchor="end" fill="#000">CBX3</text>
<text x="429.6" y="474.6" font-size="12.4" font-weight="bold" text-anchor="end" fill="#000">GPX4</text>
<text x="431.4" y="506.3" font-size="12.4" font-weight="bold" text-anchor="end" fill="#000">GAPDH</text>
<text x="351.0" y="474.8" font-size="12" font-weight="bold" text-anchor="middle" fill="#1846a6">H1975</text>
<line x1="378.7" y1="436.0" x2="378.7" y2="504.3" stroke="#333" stroke-width="1"/>
<text x="463.2" y="410.5" font-size="12" font-weight="bold" text-anchor="middle" fill="#000" transform="rotate(-22 463.2 410.5)">NC</text>
<text x="524.7" y="404.8" font-size="12" font-weight="bold" text-anchor="middle" fill="#000" transform="rotate(-22 524.7 404.8)">CBX3-KD1</text>
<text x="587.0" y="404.8" font-size="12" font-weight="bold" text-anchor="middle" fill="#000" transform="rotate(-22 587.0 404.8)">CBX3-KD2</text>
<rect x="708.5" y="421.2" width="159.0" height="25.9" fill="#fff"/>
<rect x="708.5" y="457.5" width="159.0" height="26.1" fill="#fff"/>
<rect x="708.5" y="492.2" width="159.0" height="25.5" fill="#fff"/>
<clipPath id="eclipR"><rect x="708.5" y="421.2" width="159.0" height="25.9"/><rect x="708.5" y="457.5" width="159.0" height="26.1"/><rect x="708.5" y="492.2" width="159.0" height="25.5"/></clipPath>
<g clip-path="url(#eclipR)">
<rect x="714.6" y="429.9" width="19.4" height="13.5" rx="4.5" fill="#0a0a0a" opacity="0.35" filter="url(#bl30)"/>
<rect x="715.6" y="432.2" width="17.4" height="9.0" rx="4.5" fill="#0a0a0a" opacity="1.0" filter="url(#bl18)"/>
<rect x="730.0" y="430.2" width="21.0" height="13.5" rx="4.5" fill="#0a0a0a" opacity="0.35" filter="url(#bl30)"/>
<rect x="731.0" y="432.5" width="19.0" height="9.0" rx="4.5" fill="#0a0a0a" opacity="1.0" filter="url(#bl18)"/>
<rect x="715.0" y="427.7" width="36.0" height="18.0" rx="6.0" fill="#3a3a3a" opacity="0.21" filter="url(#bl30)"/>
<rect x="716.0" y="430.7" width="34.0" height="12.0" rx="6.0" fill="#3a3a3a" opacity="0.6" filter="url(#bl25)"/>
<rect x="767.6" y="430.2" width="36.0" height="13.5" rx="4.5" fill="#585858" opacity="0.35" filter="url(#bl30)"/>
<rect x="768.6" y="432.5" width="34.0" height="9.0" rx="4.5" fill="#585858" opacity="1.0" filter="url(#bl20)"/>
<rect x="820.6" y="431.9" width="36.0" height="13.5" rx="4.5" fill="#555" opacity="0.35" filter="url(#bl30)"/>
<rect x="821.6" y="434.1" width="34.0" height="9.0" rx="4.5" fill="#555" opacity="1.0" filter="url(#bl20)"/>
<rect x="717.5" y="469.4" width="37.9" height="10.5" rx="3.5" fill="#2a2a2a" opacity="0.35" filter="url(#bl30)"/>
<rect x="718.5" y="471.1" width="35.9" height="7.0" rx="3.5" fill="#2a2a2a" opacity="1.0" filter="url(#bl15)"/>
<rect x="769.5" y="467.9" width="37.9" height="9.6" rx="3.2" fill="#4a4a4a" opacity="0.35" filter="url(#bl30)"/>
<rect x="770.5" y="469.5" width="35.9" height="6.4" rx="3.2" fill="#4a4a4a" opacity="1.0" filter="url(#bl15)"/>
<rect x="823.4" y="464.1" width="36.0" height="9.6" rx="3.2" fill="#454545" opacity="0.35" filter="url(#bl30)"/>
<rect x="824.4" y="465.7" width="34.0" height="6.4" rx="3.2" fill="#454545" opacity="1.0" filter="url(#bl15)"/>
<rect x="718.4" y="497.2" width="38.0" height="16.5" rx="5.5" fill="#222" opacity="0.35" filter="url(#bl30)"/>
<rect x="719.4" y="500.0" width="36.0" height="11.0" rx="5.5" fill="#222" opacity="1.0" filter="url(#bl18)"/>
<rect x="768.6" y="497.2" width="36.0" height="16.5" rx="5.5" fill="#222" opacity="0.35" filter="url(#bl30)"/>
<rect x="769.6" y="500.0" width="34.0" height="11.0" rx="5.5" fill="#222" opacity="1.0" filter="url(#bl18)"/>
<rect x="818.7" y="496.0" width="37.9" height="18.0" rx="6.0" fill="#151515" opacity="0.35" filter="url(#bl30)"/>
<rect x="819.7" y="499.0" width="35.9" height="12.0" rx="6.0" fill="#151515" opacity="1.0" filter="url(#bl18)"/>
</g>
<rect x="708.5" y="421.2" width="159.0" height="25.9" fill="none" stroke="#111" stroke-width="1.1"/>
<rect x="708.5" y="457.5" width="159.0" height="26.1" fill="none" stroke="#111" stroke-width="1.1"/>
<rect x="708.5" y="492.2" width="159.0" height="25.5" fill="none" stroke="#111" stroke-width="1.1"/>
<text x="700.5" y="445.2" font-size="12.4" font-weight="bold" text-anchor="end" fill="#000">CBX3</text>
<text x="700.9" y="478.7" font-size="12.4" font-weight="bold" text-anchor="end" fill="#000">GPX4</text>
<text x="703.0" y="510.5" font-size="12.4" font-weight="bold" text-anchor="end" fill="#000">GAPDH</text>
<text x="624.5" y="471.3" font-size="12" font-weight="bold" text-anchor="middle" fill="#1846a6">A375</text>
<line x1="651.3" y1="439.2" x2="651.3" y2="507.7" stroke="#333" stroke-width="1"/>
<text x="733.6" y="412.4" font-size="12" font-weight="bold" text-anchor="middle" fill="#000" transform="rotate(-22 733.6 412.4)">NC</text>
<text x="795.0" y="408.6" font-size="12" font-weight="bold" text-anchor="middle" fill="#000" transform="rotate(-22 795.0 408.6)">CBX3-KD1</text>
<text x="855.6" y="408.6" font-size="12" font-weight="bold" text-anchor="middle" fill="#000" transform="rotate(-22 855.6 408.6)">CBX3-KD2</text>
<text x="877.7" y="357.4" font-size="25" font-weight="bold" fill="#231815">F</text>
<text x="941.2" y="367.7" font-size="11.5" font-weight="bold" fill="#1846a6">H1975</text>
<text x="1094.3" y="367.7" font-size="11.5" font-weight="bold" fill="#1846a6">A375</text>
<line x1="937.3" y1="541.1" x2="937.3" y2="386.4" stroke="#000" stroke-width="1.2"/>
<line x1="936.7" y1="541.1" x2="1041.0" y2="541.1" stroke="#000" stroke-width="1.2"/>
<line x1="931.3" y1="541.1" x2="937.3" y2="541.1" stroke="#000" stroke-width="1.2"/>
<text x="927.8" y="544.9" font-size="10.5" font-weight="bold" text-anchor="end" fill="#000">0</text>
<line x1="931.3" y1="510.2" x2="937.3" y2="510.2" stroke="#000" stroke-width="1.2"/>
<text x="927.8" y="513.9" font-size="10.5" font-weight="bold" text-anchor="end" fill="#000">10</text>
<line x1="931.3" y1="479.2" x2="937.3" y2="479.2" stroke="#000" stroke-width="1.2"/>
<text x="927.8" y="483.0" font-size="10.5" font-weight="bold" text-anchor="end" fill="#000">20</text>
<line x1="931.3" y1="448.3" x2="937.3" y2="448.3" stroke="#000" stroke-width="1.2"/>
<text x="927.8" y="452.1" font-size="10.5" font-weight="bold" text-anchor="end" fill="#000">30</text>
<line x1="931.3" y1="417.3" x2="937.3" y2="417.3" stroke="#000" stroke-width="1.2"/>
<text x="927.8" y="421.1" font-size="10.5" font-weight="bold" text-anchor="end" fill="#000">40</text>
<line x1="931.3" y1="386.4" x2="937.3" y2="386.4" stroke="#000" stroke-width="1.2"/>
<text x="927.8" y="390.2" font-size="10.5" font-weight="bold" text-anchor="end" fill="#000">50</text>
<rect x="953.5" y="538.6" width="27.3" height="2.5" fill="#fde0c4" stroke="#1a1a1a" stroke-width="1.1"/>
<line x1="967.1" y1="536.8" x2="967.1" y2="538.6" stroke="#111" stroke-width="1.0"/>
<line x1="962.1" y1="536.8" x2="972.1" y2="536.8" stroke="#111" stroke-width="1.0"/>
<circle cx="961.1" cy="537.4" r="2.2" fill="#000"/>
<circle cx="967.1" cy="536.8" r="2.2" fill="#000"/>
<circle cx="973.1" cy="537.4" r="2.2" fill="#000"/>
<line x1="967.1" y1="541.1" x2="967.1" y2="544.1" stroke="#000" stroke-width="1.2"/>
<rect x="998.0" y="437.5" width="27.6" height="103.6" fill="#c9f5e2" stroke="#1a1a1a" stroke-width="1.1"/>
<line x1="1011.8" y1="421.1" x2="1011.8" y2="453.2" stroke="#111" stroke-width="1.0"/>
<line x1="1004.8" y1="421.1" x2="1018.8" y2="421.1" stroke="#111" stroke-width="1.0"/>
<line x1="1004.8" y1="453.2" x2="1018.8" y2="453.2" stroke="#111" stroke-width="1.0"/>
<rect x="1005.1" y="423.4" width="4.6" height="4.6" fill="#000"/>
<rect x="1014.1" y="426.2" width="4.6" height="4.6" fill="#000"/>
<rect x="1009.2" y="451.2" width="4.6" height="4.6" fill="#000"/>
<line x1="1011.8" y1="541.1" x2="1011.8" y2="544.1" stroke="#000" stroke-width="1.2"/>
<line x1="967.0" y1="402.6" x2="1011.4" y2="402.6" stroke="#111" stroke-width="1.0"/>
<line x1="967.0" y1="402.6" x2="967.0" y2="526.6" stroke="#111" stroke-width="1.0"/>
<line x1="1011.4" y1="402.6" x2="1011.4" y2="411.4" stroke="#111" stroke-width="1.0"/>
<text x="990.3" y="402.1" font-size="19.7" font-weight="bold" text-anchor="middle" fill="#000" letter-spacing="1.6">***</text>
<text x="963.8" y="560.4" font-size="11.5" font-weight="bold" text-anchor="middle" fill="#000">IgG</text>
<text x="1011.5" y="560.4" font-size="11.5" font-weight="bold" text-anchor="middle" fill="#000">CBX3</text>
<text x="907.5" y="461.0" font-size="12" font-weight="bold" text-anchor="middle" fill="#000" transform="rotate(-90 907.5 461.0)">Fold Enrichment of GPX4</text>
<line x1="1095.3" y1="539.5" x2="1095.3" y2="389.0" stroke="#000" stroke-width="1.2"/>
<line x1="1094.7" y1="539.5" x2="1196.8" y2="539.5" stroke="#000" stroke-width="1.2"/>
<line x1="1089.3" y1="539.5" x2="1095.3" y2="539.5" stroke="#000" stroke-width="1.2"/>
<text x="1085.8" y="543.3" font-size="10.5" font-weight="bold" text-anchor="end" fill="#000">0</text>
<line x1="1089.3" y1="501.9" x2="1095.3" y2="501.9" stroke="#000" stroke-width="1.2"/>
<text x="1085.8" y="505.7" font-size="10.5" font-weight="bold" text-anchor="end" fill="#000">5</text>
<line x1="1089.3" y1="464.2" x2="1095.3" y2="464.2" stroke="#000" stroke-width="1.2"/>
<text x="1085.8" y="468.0" font-size="10.5" font-weight="bold" text-anchor="end" fill="#000">10</text>
<line x1="1089.3" y1="426.6" x2="1095.3" y2="426.6" stroke="#000" stroke-width="1.2"/>
<text x="1085.8" y="430.4" font-size="10.5" font-weight="bold" text-anchor="end" fill="#000">15</text>
<line x1="1089.3" y1="389.0" x2="1095.3" y2="389.0" stroke="#000" stroke-width="1.2"/>
<text x="1085.8" y="392.8" font-size="10.5" font-weight="bold" text-anchor="end" fill="#000">20</text>
<rect x="1110.7" y="532.0" width="27.1" height="7.5" fill="#fde0c4" stroke="#1a1a1a" stroke-width="1.1"/>
<line x1="1124.2" y1="526.7" x2="1124.2" y2="536.5" stroke="#111" stroke-width="1.0"/>
<line x1="1118.2" y1="526.7" x2="1130.2" y2="526.7" stroke="#111" stroke-width="1.0"/>
<line x1="1118.2" y1="536.5" x2="1130.2" y2="536.5" stroke="#111" stroke-width="1.0"/>
<circle cx="1124.2" cy="526.7" r="2.2" fill="#000"/>
<circle cx="1118.8" cy="535.0" r="2.2" fill="#000"/>
<circle cx="1129.8" cy="535.0" r="2.2" fill="#000"/>
<line x1="1124.2" y1="539.5" x2="1124.2" y2="542.5" stroke="#000" stroke-width="1.2"/>
<rect x="1153.3" y="445.4" width="27.4" height="94.1" fill="#c9f5e2" stroke="#1a1a1a" stroke-width="1.1"/>
<line x1="1167.0" y1="419.1" x2="1167.0" y2="471.8" stroke="#111" stroke-width="1.0"/>
<line x1="1161.0" y1="419.1" x2="1173.0" y2="419.1" stroke="#111" stroke-width="1.0"/>
<line x1="1161.0" y1="471.8" x2="1173.0" y2="471.8" stroke="#111" stroke-width="1.0"/>
<rect x="1164.7" y="414.5" width="4.6" height="4.6" fill="#000"/>
<rect x="1164.7" y="449.2" width="4.6" height="4.6" fill="#000"/>
<rect x="1164.7" y="464.2" width="4.6" height="4.6" fill="#000"/>
<line x1="1167.0" y1="539.5" x2="1167.0" y2="542.5" stroke="#000" stroke-width="1.2"/>
<line x1="1123.3" y1="397.5" x2="1166.8" y2="397.5" stroke="#111" stroke-width="1.0"/>
<line x1="1123.3" y1="397.5" x2="1123.3" y2="516.9" stroke="#111" stroke-width="1.0"/>
<line x1="1166.8" y1="397.5" x2="1166.8" y2="407.3" stroke="#111" stroke-width="1.0"/>
<text x="1146.0" y="397.0" font-size="19.7" font-weight="bold" text-anchor="middle" fill="#000" letter-spacing="1.6">**</text>
<text x="1123.6" y="555.6" font-size="11.5" font-weight="bold" text-anchor="middle" fill="#000">IgG</text>
<text x="1166.8" y="555.6" font-size="11.5" font-weight="bold" text-anchor="middle" fill="#000">CBX3</text>
<text x="1064.3" y="461.0" font-size="12" font-weight="bold" text-anchor="middle" fill="#000" transform="rotate(-90 1064.3 461.0)">Fold Enrichment of GPX4</text>
<text x="1244.5" y="549.0" font-size="25" font-weight="bold" fill="#231815">G</text>
<defs><radialGradient id="mbody" cx="0.5" cy="0.58" r="0.62"><stop offset="0" stop-color="#f8f8f8"/><stop offset="0.55" stop-color="#e9e9e9"/><stop offset="0.85" stop-color="#d0d0d0"/><stop offset="1" stop-color="#a5a5a5"/></radialGradient><filter id="mblur" x="-10%" y="-10%" width="120%" height="120%"><feGaussianBlur stdDeviation="0.5"/></filter><filter id="fur" x="0" y="0" width="1" height="1" color-interpolation-filters="sRGB"><feTurbulence type="fractalNoise" baseFrequency="0.14" numOctaves="2" seed="7" result="t"/><feColorMatrix in="t" type="matrix" values="0 0 0 0 0.3 0 0 0 0 0.3 0 0 0 0 0.3 1.1 0 0 0 -0.47" result="c"/><feComposite in="c" in2="SourceGraphic" operator="in"/></filter><radialGradient id="lumA" cx="0.5" cy="0.5" r="0.5"><stop offset="0" stop-color="#ff2000"/><stop offset="0.2" stop-color="#ffd000"/><stop offset="0.4" stop-color="#40ff40"/><stop offset="0.6" stop-color="#00e0ff"/><stop offset="0.8" stop-color="#2040ff"/><stop offset="1" stop-color="#7a00ff"/></radialGradient><radialGradient id="lumB" cx="0.5" cy="0.5" r="0.5"><stop offset="0" stop-color="#30ffa0"/><stop offset="0.35" stop-color="#00d8ff"/><stop offset="0.7" stop-color="#2048ff"/><stop offset="1" stop-color="#7000ff"/></radialGradient><radialGradient id="lumC" cx="0.5" cy="0.5" r="0.5"><stop offset="0" stop-color="#0090ff"/><stop offset="0.6" stop-color="#2030ff"/><stop offset="1" stop-color="#7000ff"/></radialGradient><radialGradient id="soft" cx="0.5" cy="0.5" r="0.5"><stop offset="0" stop-color="#fff" stop-opacity="1"/><stop offset="0.6" stop-color="#fff" stop-opacity="0.8"/><stop offset="1" stop-color="#fff" stop-opacity="0"/></radialGradient><linearGradient id="cbar" x1="0" x2="0" y1="0" y2="1"><stop offset="0" stop-color="#ff0000"/><stop offset="0.15" stop-color="#ff8000"/><stop offset="0.3" stop-color="#ffff00"/><stop offset="0.48" stop-color="#00ff00"/><stop offset="0.62" stop-color="#00ffff"/><stop offset="0.8" stop-color="#0040ff"/><stop offset="1" stop-color="#8000ff"/></linearGradient></defs>
<text x="36.3" y="588.6" font-size="25" font-weight="bold" fill="#231815">G</text>
<text x="174.2" y="567.2" font-size="10.5" font-weight="bold" text-anchor="middle" fill="#000">Week1</text>
<line x1="83.2" y1="573.5" x2="261.7" y2="573.5" stroke="#111" stroke-width="1.2"/>
<rect x="85.1" y="579.1" width="41.8" height="91.4" fill="#3a3a3a"/>
<rect x="85.1" y="579.1" width="41.8" height="13.9" fill="#2a2a2a"/>
<rect x="92.1" y="580.1" width="4.0" height="12.9" fill="#1a1a1a"/>
<rect x="93.1" y="580.1" width="1.6" height="12.9" fill="#4a4a4a"/>
<rect x="116.0" y="580.1" width="4.0" height="12.9" fill="#1a1a1a"/>
<rect x="116.9" y="580.1" width="1.6" height="12.9" fill="#4a4a4a"/>
<g transform="translate(85.10,579.10) scale(0.9952,0.9935)"><path d="M21,5 C18,5 16,9 15.5,14 C12,15 8.5,17 7.5,20 C9,22 11,22 12.5,23 C7,28 3,36 3,50 C3,64 4,76 7.5,83 L2.5,88 L4.5,90.5 L13,86.5 C16,88 19,88.5 20,88.5 L19.5,92 L22.5,92 L23,88.5 C25,88.5 28,88 30,86.5 L38.5,90.5 L40.5,88 L35,83 C38.5,76 39.5,64 39.5,50 C39.5,36 36,28 31,23 C32.5,22 35,22 35.5,20 C34.5,17 31,15 27,14 C26.5,9 24,5 21,5 Z" fill="url(#mbody)" filter="url(#mblur)"/><path d="M21,5 C18,5 16,9 15.5,14 C12,15 8.5,17 7.5,20 C9,22 11,22 12.5,23 C7,28 3,36 3,50 C3,64 4,76 7.5,83 L2.5,88 L4.5,90.5 L13,86.5 C16,88 19,88.5 20,88.5 L19.5,92 L22.5,92 L23,88.5 C25,88.5 28,88 30,86.5 L38.5,90.5 L40.5,88 L35,83 C38.5,76 39.5,64 39.5,50 C39.5,36 36,28 31,23 C32.5,22 35,22 35.5,20 C34.5,17 31,15 27,14 C26.5,9 24,5 21,5 Z" fill="#fff" filter="url(#fur)"/></g>
<rect x="128.8" y="579.1" width="41.9" height="91.4" fill="#3a3a3a"/>
<rect x="128.8" y="579.1" width="41.9" height="13.9" fill="#2a2a2a"/>
<rect x="135.8" y="580.1" width="4.0" height="12.9" fill="#1a1a1a"/>
<rect x="136.8" y="580.1" width="1.6" height="12.9" fill="#4a4a4a"/>
<rect x="159.7" y="580.1" width="4.0" height="12.9" fill="#1a1a1a"/>
<rect x="160.7" y="580.1" width="1.6" height="12.9" fill="#4a4a4a"/>
<g transform="translate(128.80,579.10) scale(0.9976,0.9935)"><path d="M21,5 C18,5 16,9 15.5,14 C12,15 8.5,17 7.5,20 C9,22 11,22 12.5,23 C7,28 3,36 3,50 C3,64 4,76 7.5,83 L2.5,88 L4.5,90.5 L13,86.5 C16,88 19,88.5 20,88.5 L19.5,92 L22.5,92 L23,88.5 C25,88.5 28,88 30,86.5 L38.5,90.5 L40.5,88 L35,83 C38.5,76 39.5,64 39.5,50 C39.5,36 36,28 31,23 C32.5,22 35,22 35.5,20 C34.5,17 31,15 27,14 C26.5,9 24,5 21,5 Z" fill="url(#mbody)" filter="url(#mblur)"/><path d="M21,5 C18,5 16,9 15.5,14 C12,15 8.5,17 7.5,20 C9,22 11,22 12.5,23 C7,28 3,36 3,50 C3,64 4,76 7.5,83 L2.5,88 L4.5,90.5 L13,86.5 C16,88 19,88.5 20,88.5 L19.5,92 L22.5,92 L23,88.5 C25,88.5 28,88 30,86.5 L38.5,90.5 L40.5,88 L35,83 C38.5,76 39.5,64 39.5,50 C39.5,36 36,28 31,23 C32.5,22 35,22 35.5,20 C34.5,17 31,15 27,14 C26.5,9 24,5 21,5 Z" fill="#fff" filter="url(#fur)"/></g>
<rect x="173.3" y="579.1" width="41.5" height="91.4" fill="#3a3a3a"/>
<rect x="173.3" y="579.1" width="41.5" height="13.9" fill="#2a2a2a"/>
<rect x="180.2" y="580.1" width="4.0" height="12.9" fill="#1a1a1a"/>
<rect x="181.2" y="580.1" width="1.6" height="12.9" fill="#4a4a4a"/>
<rect x="203.9" y="580.1" width="4.0" height="12.9" fill="#1a1a1a"/>
<rect x="204.9" y="580.1" width="1.6" height="12.9" fill="#4a4a4a"/>
<g transform="translate(173.30,579.10) scale(0.9881,0.9935)"><path d="M21,5 C18,5 16,9 15.5,14 C12,15 8.5,17 7.5,20 C9,22 11,22 12.5,23 C7,28 3,36 3,50 C3,64 4,76 7.5,83 L2.5,88 L4.5,90.5 L13,86.5 C16,88 19,88.5 20,88.5 L19.5,92 L22.5,92 L23,88.5 C25,88.5 28,88 30,86.5 L38.5,90.5 L40.5,88 L35,83 C38.5,76 39.5,64 39.5,50 C39.5,36 36,28 31,23 C32.5,22 35,22 35.5,20 C34.5,17 31,15 27,14 C26.5,9 24,5 21,5 Z" fill="url(#mbody)" filter="url(#mblur)"/><path d="M21,5 C18,5 16,9 15.5,14 C12,15 8.5,17 7.5,20 C9,22 11,22 12.5,23 C7,28 3,36 3,50 C3,64 4,76 7.5,83 L2.5,88 L4.5,90.5 L13,86.5 C16,88 19,88.5 20,88.5 L19.5,92 L22.5,92 L23,88.5 C25,88.5 28,88 30,86.5 L38.5,90.5 L40.5,88 L35,83 C38.5,76 39.5,64 39.5,50 C39.5,36 36,28 31,23 C32.5,22 35,22 35.5,20 C34.5,17 31,15 27,14 C26.5,9 24,5 21,5 Z" fill="#fff" filter="url(#fur)"/></g>
<rect x="216.0" y="579.1" width="41.8" height="91.4" fill="#3a3a3a"/>
<rect x="216.0" y="579.1" width="41.8" height="13.9" fill="#2a2a2a"/>
<rect x="223.0" y="580.1" width="4.0" height="12.9" fill="#1a1a1a"/>
<rect x="224.0" y="580.1" width="1.6" height="12.9" fill="#4a4a4a"/>
<rect x="246.9" y="580.1" width="4.0" height="12.9" fill="#1a1a1a"/>
<rect x="247.8" y="580.1" width="1.6" height="12.9" fill="#4a4a4a"/>
<g transform="translate(216.00,579.10) scale(0.9952,0.9935)"><path d="M21,5 C18,5 16,9 15.5,14 C12,15 8.5,17 7.5,20 C9,22 11,22 12.5,23 C7,28 3,36 3,50 C3,64 4,76 7.5,83 L2.5,88 L4.5,90.5 L13,86.5 C16,88 19,88.5 20,88.5 L19.5,92 L22.5,92 L23,88.5 C25,88.5 28,88 30,86.5 L38.5,90.5 L40.5,88 L35,83 C38.5,76 39.5,64 39.5,50 C39.5,36 36,28 31,23 C32.5,22 35,22 35.5,20 C34.5,17 31,15 27,14 C26.5,9 24,5 21,5 Z" fill="url(#mbody)" filter="url(#mblur)"/><path d="M21,5 C18,5 16,9 15.5,14 C12,15 8.5,17 7.5,20 C9,22 11,22 12.5,23 C7,28 3,36 3,50 C3,64 4,76 7.5,83 L2.5,88 L4.5,90.5 L13,86.5 C16,88 19,88.5 20,88.5 L19.5,92 L22.5,92 L23,88.5 C25,88.5 28,88 30,86.5 L38.5,90.5 L40.5,88 L35,83 C38.5,76 39.5,64 39.5,50 C39.5,36 36,28 31,23 C32.5,22 35,22 35.5,20 C34.5,17 31,15 27,14 C26.5,9 24,5 21,5 Z" fill="#fff" filter="url(#fur)"/></g>
<rect x="85.1" y="672.4" width="41.8" height="92.8" fill="#3a3a3a"/>
<rect x="85.1" y="672.4" width="41.8" height="14.1" fill="#2a2a2a"/>
<rect x="92.1" y="673.4" width="4.0" height="13.1" fill="#1a1a1a"/>
<rect x="93.1" y="673.4" width="1.6" height="13.1" fill="#4a4a4a"/>
<rect x="116.0" y="673.4" width="4.0" height="13.1" fill="#1a1a1a"/>
<rect x="116.9" y="673.4" width="1.6" height="13.1" fill="#4a4a4a"/>
<g transform="translate(85.10,672.40) scale(0.9952,1.0087)"><path d="M21,5 C18,5 16,9 15.5,14 C12,15 8.5,17 7.5,20 C9,22 11,22 12.5,23 C7,28 3,36 3,50 C3,64 4,76 7.5,83 L2.5,88 L4.5,90.5 L13,86.5 C16,88 19,88.5 20,88.5 L19.5,92 L22.5,92 L23,88.5 C25,88.5 28,88 30,86.5 L38.5,90.5 L40.5,88 L35,83 C38.5,76 39.5,64 39.5,50 C39.5,36 36,28 31,23 C32.5,22 35,22 35.5,20 C34.5,17 31,15 27,14 C26.5,9 24,5 21,5 Z" fill="url(#mbody)" filter="url(#mblur)"/><path d="M21,5 C18,5 16,9 15.5,14 C12,15 8.5,17 7.5,20 C9,22 11,22 12.5,23 C7,28 3,36 3,50 C3,64 4,76 7.5,83 L2.5,88 L4.5,90.5 L13,86.5 C16,88 19,88.5 20,88.5 L19.5,92 L22.5,92 L23,88.5 C25,88.5 28,88 30,86.5 L38.5,90.5 L40.5,88 L35,83 C38.5,76 39.5,64 39.5,50 C39.5,36 36,28 31,23 C32.5,22 35,22 35.5,20 C34.5,17 31,15 27,14 C26.5,9 24,5 21,5 Z" fill="#fff" filter="url(#fur)"/></g>
<rect x="85.5" y="672.8" width="41.0" height="92.0" fill="none" stroke="#000" stroke-width="1.0"/>
<rect x="128.8" y="672.4" width="41.9" height="92.8" fill="#3a3a3a"/>
<rect x="128.8" y="672.4" width="41.9" height="14.1" fill="#2a2a2a"/>
<rect x="135.8" y="673.4" width="4.0" height="13.1" fill="#1a1a1a"/>
<rect x="136.8" y="673.4" width="1.6" height="13.1" fill="#4a4a4a"/>
<rect x="159.7" y="673.4" width="4.0" height="13.1" fill="#1a1a1a"/>
<rect x="160.7" y="673.4" width="1.6" height="13.1" fill="#4a4a4a"/>
<g transform="translate(128.80,672.40) scale(0.9976,1.0087)"><path d="M21,5 C18,5 16,9 15.5,14 C12,15 8.5,17 7.5,20 C9,22 11,22 12.5,23 C7,28 3,36 3,50 C3,64 4,76 7.5,83 L2.5,88 L4.5,90.5 L13,86.5 C16,88 19,88.5 20,88.5 L19.5,92 L22.5,92 L23,88.5 C25,88.5 28,88 30,86.5 L38.5,90.5 L40.5,88 L35,83 C38.5,76 39.5,64 39.5,50 C39.5,36 36,28 31,23 C32.5,22 35,22 35.5,20 C34.5,17 31,15 27,14 C26.5,9 24,5 21,5 Z" fill="url(#mbody)" filter="url(#mblur)"/><path d="M21,5 C18,5 16,9 15.5,14 C12,15 8.5,17 7.5,20 C9,22 11,22 12.5,23 C7,28 3,36 3,50 C3,64 4,76 7.5,83 L2.5,88 L4.5,90.5 L13,86.5 C16,88 19,88.5 20,88.5 L19.5,92 L22.5,92 L23,88.5 C25,88.5 28,88 30,86.5 L38.5,90.5 L40.5,88 L35,83 C38.5,76 39.5,64 39.5,50 C39.5,36 36,28 31,23 C32.5,22 35,22 35.5,20 C34.5,17 31,15 27,14 C26.5,9 24,5 21,5 Z" fill="#fff" filter="url(#fur)"/></g>
<rect x="129.2" y="672.8" width="41.1" height="92.0" fill="none" stroke="#000" stroke-width="1.0"/>
<rect x="173.3" y="672.4" width="41.5" height="92.8" fill="#3a3a3a"/>
<rect x="173.3" y="672.4" width="41.5" height="14.1" fill="#2a2a2a"/>
<rect x="180.2" y="673.4" width="4.0" height="13.1" fill="#1a1a1a"/>
<rect x="181.2" y="673.4" width="1.6" height="13.1" fill="#4a4a4a"/>
<rect x="203.9" y="673.4" width="4.0" height="13.1" fill="#1a1a1a"/>
<rect x="204.9" y="673.4" width="1.6" height="13.1" fill="#4a4a4a"/>
<g transform="translate(173.30,672.40) scale(0.9881,1.0087)"><path d="M21,5 C18,5 16,9 15.5,14 C12,15 8.5,17 7.5,20 C9,22 11,22 12.5,23 C7,28 3,36 3,50 C3,64 4,76 7.5,83 L2.5,88 L4.5,90.5 L13,86.5 C16,88 19,88.5 20,88.5 L19.5,92 L22.5,92 L23,88.5 C25,88.5 28,88 30,86.5 L38.5,90.5 L40.5,88 L35,83 C38.5,76 39.5,64 39.5,50 C39.5,36 36,28 31,23 C32.5,22 35,22 35.5,20 C34.5,17 31,15 27,14 C26.5,9 24,5 21,5 Z" fill="url(#mbody)" filter="url(#mblur)"/><path d="M21,5 C18,5 16,9 15.5,14 C12,15 8.5,17 7.5,20 C9,22 11,22 12.5,23 C7,28 3,36 3,50 C3,64 4,76 7.5,83 L2.5,88 L4.5,90.5 L13,86.5 C16,88 19,88.5 20,88.5 L19.5,92 L22.5,92 L23,88.5 C25,88.5 28,88 30,86.5 L38.5,90.5 L40.5,88 L35,83 C38.5,76 39.5,64 39.5,50 C39.5,36 36,28 31,23 C32.5,22 35,22 35.5,20 C34.5,17 31,15 27,14 C26.5,9 24,5 21,5 Z" fill="#fff" filter="url(#fur)"/></g>
<rect x="216.0" y="672.4" width="41.8" height="92.8" fill="#3a3a3a"/>
<rect x="216.0" y="672.4" width="41.8" height="14.1" fill="#2a2a2a"/>
<rect x="223.0" y="673.4" width="4.0" height="13.1" fill="#1a1a1a"/>
<rect x="224.0" y="673.4" width="1.6" height="13.1" fill="#4a4a4a"/>
<rect x="246.9" y="673.4" width="4.0" height="13.1" fill="#1a1a1a"/>
<rect x="247.8" y="673.4" width="1.6" height="13.1" fill="#4a4a4a"/>
<g transform="translate(216.00,672.40) scale(0.9952,1.0087)"><path d="M21,5 C18,5 16,9 15.5,14 C12,15 8.5,17 7.5,20 C9,22 11,22 12.5,23 C7,28 3,36 3,50 C3,64 4,76 7.5,83 L2.5,88 L4.5,90.5 L13,86.5 C16,88 19,88.5 20,88.5 L19.5,92 L22.5,92 L23,88.5 C25,88.5 28,88 30,86.5 L38.5,90.5 L40.5,88 L35,83 C38.5,76 39.5,64 39.5,50 C39.5,36 36,28 31,23 C32.5,22 35,22 35.5,20 C34.5,17 31,15 27,14 C26.5,9 24,5 21,5 Z" fill="url(#mbody)" filter="url(#mblur)"/><path d="M21,5 C18,5 16,9 15.5,14 C12,15 8.5,17 7.5,20 C9,22 11,22 12.5,23 C7,28 3,36 3,50 C3,64 4,76 7.5,83 L2.5,88 L4.5,90.5 L13,86.5 C16,88 19,88.5 20,88.5 L19.5,92 L22.5,92 L23,88.5 C25,88.5 28,88 30,86.5 L38.5,90.5 L40.5,88 L35,83 C38.5,76 39.5,64 39.5,50 C39.5,36 36,28 31,23 C32.5,22 35,22 35.5,20 C34.5,17 31,15 27,14 C26.5,9 24,5 21,5 Z" fill="#fff" filter="url(#fur)"/></g>
<rect x="82.3" y="788.7" width="42.1" height="91.1" fill="#3a3a3a"/>
<rect x="82.3" y="788.7" width="42.1" height="13.9" fill="#2a2a2a"/>
<rect x="89.3" y="789.7" width="4.0" height="12.9" fill="#1a1a1a"/>
<rect x="90.3" y="789.7" width="1.6" height="12.9" fill="#4a4a4a"/>
<rect x="113.4" y="789.7" width="4.0" height="12.9" fill="#1a1a1a"/>
<rect x="114.4" y="789.7" width="1.6" height="12.9" fill="#4a4a4a"/>
<g transform="translate(82.30,788.70) scale(1.0024,0.9902)"><path d="M21,5 C18,5 16,9 15.5,14 C12,15 8.5,17 7.5,20 C9,22 11,22 12.5,23 C7,28 3,36 3,50 C3,64 4,76 7.5,83 L2.5,88 L4.5,90.5 L13,86.5 C16,88 19,88.5 20,88.5 L19.5,92 L22.5,92 L23,88.5 C25,88.5 28,88 30,86.5 L38.5,90.5 L40.5,88 L35,83 C38.5,76 39.5,64 39.5,50 C39.5,36 36,28 31,23 C32.5,22 35,22 35.5,20 C34.5,17 31,15 27,14 C26.5,9 24,5 21,5 Z" fill="url(#mbody)" filter="url(#mblur)"/><path d="M21,5 C18,5 16,9 15.5,14 C12,15 8.5,17 7.5,20 C9,22 11,22 12.5,23 C7,28 3,36 3,50 C3,64 4,76 7.5,83 L2.5,88 L4.5,90.5 L13,86.5 C16,88 19,88.5 20,88.5 L19.5,92 L22.5,92 L23,88.5 C25,88.5 28,88 30,86.5 L38.5,90.5 L40.5,88 L35,83 C38.5,76 39.5,64 39.5,50 C39.5,36 36,28 31,23 C32.5,22 35,22 35.5,20 C34.5,17 31,15 27,14 C26.5,9 24,5 21,5 Z" fill="#fff" filter="url(#fur)"/></g>
<rect x="126.8" y="788.7" width="41.5" height="91.1" fill="#3a3a3a"/>
<rect x="126.8" y="788.7" width="41.5" height="13.9" fill="#2a2a2a"/>
<rect x="133.7" y="789.7" width="4.0" height="12.9" fill="#1a1a1a"/>
<rect x="134.7" y="789.7" width="1.6" height="12.9" fill="#4a4a4a"/>
<rect x="157.4" y="789.7" width="4.0" height="12.9" fill="#1a1a1a"/>
<rect x="158.4" y="789.7" width="1.6" height="12.9" fill="#4a4a4a"/>
<g transform="translate(126.80,788.70) scale(0.9881,0.9902)"><path d="M21,5 C18,5 16,9 15.5,14 C12,15 8.5,17 7.5,20 C9,22 11,22 12.5,23 C7,28 3,36 3,50 C3,64 4,76 7.5,83 L2.5,88 L4.5,90.5 L13,86.5 C16,88 19,88.5 20,88.5 L19.5,92 L22.5,92 L23,88.5 C25,88.5 28,88 30,86.5 L38.5,90.5 L40.5,88 L35,83 C38.5,76 39.5,64 39.5,50 C39.5,36 36,28 31,23 C32.5,22 35,22 35.5,20 C34.5,17 31,15 27,14 C26.5,9 24,5 21,5 Z" fill="url(#mbody)" filter="url(#mblur)"/><path d="M21,5 C18,5 16,9 15.5,14 C12,15 8.5,17 7.5,20 C9,22 11,22 12.5,23 C7,28 3,36 3,50 C3,64 4,76 7.5,83 L2.5,88 L4.5,90.5 L13,86.5 C16,88 19,88.5 20,88.5 L19.5,92 L22.5,92 L23,88.5 C25,88.5 28,88 30,86.5 L38.5,90.5 L40.5,88 L35,83 C38.5,76 39.5,64 39.5,50 C39.5,36 36,28 31,23 C32.5,22 35,22 35.5,20 C34.5,17 31,15 27,14 C26.5,9 24,5 21,5 Z" fill="#fff" filter="url(#fur)"/></g>
<rect x="169.8" y="788.7" width="42.1" height="91.1" fill="#3a3a3a"/>
<rect x="169.8" y="788.7" width="42.1" height="13.9" fill="#2a2a2a"/>
<rect x="176.8" y="789.7" width="4.0" height="12.9" fill="#1a1a1a"/>
<rect x="177.8" y="789.7" width="1.6" height="12.9" fill="#4a4a4a"/>
<rect x="200.9" y="789.7" width="4.0" height="12.9" fill="#1a1a1a"/>
<rect x="201.9" y="789.7" width="1.6" height="12.9" fill="#4a4a4a"/>
<g transform="translate(169.80,788.70) scale(1.0024,0.9902)"><path d="M21,5 C18,5 16,9 15.5,14 C12,15 8.5,17 7.5,20 C9,22 11,22 12.5,23 C7,28 3,36 3,50 C3,64 4,76 7.5,83 L2.5,88 L4.5,90.5 L13,86.5 C16,88 19,88.5 20,88.5 L19.5,92 L22.5,92 L23,88.5 C25,88.5 28,88 30,86.5 L38.5,90.5 L40.5,88 L35,83 C38.5,76 39.5,64 39.5,50 C39.5,36 36,28 31,23 C32.5,22 35,22 35.5,20 C34.5,17 31,15 27,14 C26.5,9 24,5 21,5 Z" fill="url(#mbody)" filter="url(#mblur)"/><path d="M21,5 C18,5 16,9 15.5,14 C12,15 8.5,17 7.5,20 C9,22 11,22 12.5,23 C7,28 3,36 3,50 C3,64 4,76 7.5,83 L2.5,88 L4.5,90.5 L13,86.5 C16,88 19,88.5 20,88.5 L19.5,92 L22.5,92 L23,88.5 C25,88.5 28,88 30,86.5 L38.5,90.5 L40.5,88 L35,83 C38.5,76 39.5,64 39.5,50 C39.5,36 36,28 31,23 C32.5,22 35,22 35.5,20 C34.5,17 31,15 27,14 C26.5,9 24,5 21,5 Z" fill="#fff" filter="url(#fur)"/></g>
<rect x="213.4" y="788.7" width="41.5" height="91.1" fill="#3a3a3a"/>
<rect x="213.4" y="788.7" width="41.5" height="13.9" fill="#2a2a2a"/>
<rect x="220.3" y="789.7" width="4.0" height="12.9" fill="#1a1a1a"/>
<rect x="221.3" y="789.7" width="1.6" height="12.9" fill="#4a4a4a"/>
<rect x="244.0" y="789.7" width="4.0" height="12.9" fill="#1a1a1a"/>
<rect x="245.0" y="789.7" width="1.6" height="12.9" fill="#4a4a4a"/>
<g transform="translate(213.40,788.70) scale(0.9881,0.9902)"><path d="M21,5 C18,5 16,9 15.5,14 C12,15 8.5,17 7.5,20 C9,22 11,22 12.5,23 C7,28 3,36 3,50 C3,64 4,76 7.5,83 L2.5,88 L4.5,90.5 L13,86.5 C16,88 19,88.5 20,88.5 L19.5,92 L22.5,92 L23,88.5 C25,88.5 28,88 30,86.5 L38.5,90.5 L40.5,88 L35,83 C38.5,76 39.5,64 39.5,50 C39.5,36 36,28 31,23 C32.5,22 35,22 35.5,20 C34.5,17 31,15 27,14 C26.5,9 24,5 21,5 Z" fill="url(#mbody)" filter="url(#mblur)"/><path d="M21,5 C18,5 16,9 15.5,14 C12,15 8.5,17 7.5,20 C9,22 11,22 12.5,23 C7,28 3,36 3,50 C3,64 4,76 7.5,83 L2.5,88 L4.5,90.5 L13,86.5 C16,88 19,88.5 20,88.5 L19.5,92 L22.5,92 L23,88.5 C25,88.5 28,88 30,86.5 L38.5,90.5 L40.5,88 L35,83 C38.5,76 39.5,64 39.5,50 C39.5,36 36,28 31,23 C32.5,22 35,22 35.5,20 C34.5,17 31,15 27,14 C26.5,9 24,5 21,5 Z" fill="#fff" filter="url(#fur)"/></g>
<rect x="82.3" y="883.6" width="42.1" height="91.1" fill="#3a3a3a"/>
<rect x="82.3" y="883.6" width="42.1" height="13.9" fill="#2a2a2a"/>
<rect x="89.3" y="884.6" width="4.0" height="12.9" fill="#1a1a1a"/>
<rect x="90.3" y="884.6" width="1.6" height="12.9" fill="#4a4a4a"/>
<rect x="113.4" y="884.6" width="4.0" height="12.9" fill="#1a1a1a"/>
<rect x="114.4" y="884.6" width="1.6" height="12.9" fill="#4a4a4a"/>
<g transform="translate(82.30,883.60) scale(1.0024,0.9902)"><path d="M21,5 C18,5 16,9 15.5,14 C12,15 8.5,17 7.5,20 C9,22 11,22 12.5,23 C7,28 3,36 3,50 C3,64 4,76 7.5,83 L2.5,88 L4.5,90.5 L13,86.5 C16,88 19,88.5 20,88.5 L19.5,92 L22.5,92 L23,88.5 C25,88.5 28,88 30,86.5 L38.5,90.5 L40.5,88 L35,83 C38.5,76 39.5,64 39.5,50 C39.5,36 36,28 31,23 C32.5,22 35,22 35.5,20 C34.5,17 31,15 27,14 C26.5,9 24,5 21,5 Z" fill="url(#mbody)" filter="url(#mblur)"/><path d="M21,5 C18,5 16,9 15.5,14 C12,15 8.5,17 7.5,20 C9,22 11,22 12.5,23 C7,28 3,36 3,50 C3,64 4,76 7.5,83 L2.5,88 L4.5,90.5 L13,86.5 C16,88 19,88.5 20,88.5 L19.5,92 L22.5,92 L23,88.5 C25,88.5 28,88 30,86.5 L38.5,90.5 L40.5,88 L35,83 C38.5,76 39.5,64 39.5,50 C39.5,36 36,28 31,23 C32.5,22 35,22 35.5,20 C34.5,17 31,15 27,14 C26.5,9 24,5 21,5 Z" fill="#fff" filter="url(#fur)"/></g>
<rect x="126.8" y="883.6" width="41.5" height="91.1" fill="#3a3a3a"/>
<rect x="126.8" y="883.6" width="41.5" height="13.9" fill="#2a2a2a"/>
<rect x="133.7" y="884.6" width="4.0" height="12.9" fill="#1a1a1a"/>
<rect x="134.7" y="884.6" width="1.6" height="12.9" fill="#4a4a4a"/>
<rect x="157.4" y="884.6" width="4.0" height="12.9" fill="#1a1a1a"/>
<rect x="158.4" y="884.6" width="1.6" height="12.9" fill="#4a4a4a"/>
<g transform="translate(126.80,883.60) scale(0.9881,0.9902)"><path d="M21,5 C18,5 16,9 15.5,14 C12,15 8.5,17 7.5,20 C9,22 11,22 12.5,23 C7,28 3,36 3,50 C3,64 4,76 7.5,83 L2.5,88 L4.5,90.5 L13,86.5 C16,88 19,88.5 20,88.5 L19.5,92 L22.5,92 L23,88.5 C25,88.5 28,88 30,86.5 L38.5,90.5 L40.5,88 L35,83 C38.5,76 39.5,64 39.5,50 C39.5,36 36,28 31,23 C32.5,22 35,22 35.5,20 C34.5,17 31,15 27,14 C26.5,9 24,5 21,5 Z" fill="url(#mbody)" filter="url(#mblur)"/><path d="M21,5 C18,5 16,9 15.5,14 C12,15 8.5,17 7.5,20 C9,22 11,22 12.5,23 C7,28 3,36 3,50 C3,64 4,76 7.5,83 L2.5,88 L4.5,90.5 L13,86.5 C16,88 19,88.5 20,88.5 L19.5,92 L22.5,92 L23,88.5 C25,88.5 28,88 30,86.5 L38.5,90.5 L40.5,88 L35,83 C38.5,76 39.5,64 39.5,50 C39.5,36 36,28 31,23 C32.5,22 35,22 35.5,20 C34.5,17 31,15 27,14 C26.5,9 24,5 21,5 Z" fill="#fff" filter="url(#fur)"/></g>
<rect x="169.8" y="883.6" width="42.1" height="91.1" fill="#3a3a3a"/>
<rect x="169.8" y="883.6" width="42.1" height="13.9" fill="#2a2a2a"/>
<rect x="176.8" y="884.6" width="4.0" height="12.9" fill="#1a1a1a"/>
<rect x="177.8" y="884.6" width="1.6" height="12.9" fill="#4a4a4a"/>
<rect x="200.9" y="884.6" width="4.0" height="12.9" fill="#1a1a1a"/>
<rect x="201.9" y="884.6" width="1.6" height="12.9" fill="#4a4a4a"/>
<g transform="translate(169.80,883.60) scale(1.0024,0.9902)"><path d="M21,5 C18,5 16,9 15.5,14 C12,15 8.5,17 7.5,20 C9,22 11,22 12.5,23 C7,28 3,36 3,50 C3,64 4,76 7.5,83 L2.5,88 L4.5,90.5 L13,86.5 C16,88 19,88.5 20,88.5 L19.5,92 L22.5,92 L23,88.5 C25,88.5 28,88 30,86.5 L38.5,90.5 L40.5,88 L35,83 C38.5,76 39.5,64 39.5,50 C39.5,36 36,28 31,23 C32.5,22 35,22 35.5,20 C34.5,17 31,15 27,14 C26.5,9 24,5 21,5 Z" fill="url(#mbody)" filter="url(#mblur)"/><path d="M21,5 C18,5 16,9 15.5,14 C12,15 8.5,17 7.5,20 C9,22 11,22 12.5,23 C7,28 3,36 3,50 C3,64 4,76 7.5,83 L2.5,88 L4.5,90.5 L13,86.5 C16,88 19,88.5 20,88.5 L19.5,92 L22.5,92 L23,88.5 C25,88.5 28,88 30,86.5 L38.5,90.5 L40.5,88 L35,83 C38.5,76 39.5,64 39.5,50 C39.5,36 36,28 31,23 C32.5,22 35,22 35.5,20 C34.5,17 31,15 27,14 C26.5,9 24,5 21,5 Z" fill="#fff" filter="url(#fur)"/></g>
<rect x="213.4" y="883.6" width="41.5" height="91.1" fill="#3a3a3a"/>
<rect x="213.4" y="883.6" width="41.5" height="13.9" fill="#2a2a2a"/>
<rect x="220.3" y="884.6" width="4.0" height="12.9" fill="#1a1a1a"/>
<rect x="221.3" y="884.6" width="1.6" height="12.9" fill="#4a4a4a"/>
<rect x="244.0" y="884.6" width="4.0" height="12.9" fill="#1a1a1a"/>
<rect x="245.0" y="884.6" width="1.6" height="12.9" fill="#4a4a4a"/>
<g transform="translate(213.40,883.60) scale(0.9881,0.9902)"><path d="M21,5 C18,5 16,9 15.5,14 C12,15 8.5,17 7.5,20 C9,22 11,22 12.5,23 C7,28 3,36 3,50 C3,64 4,76 7.5,83 L2.5,88 L4.5,90.5 L13,86.5 C16,88 19,88.5 20,88.5 L19.5,92 L22.5,92 L23,88.5 C25,88.5 28,88 30,86.5 L38.5,90.5 L40.5,88 L35,83 C38.5,76 39.5,64 39.5,50 C39.5,36 36,28 31,23 C32.5,22 35,22 35.5,20 C34.5,17 31,15 27,14 C26.5,9 24,5 21,5 Z" fill="url(#mbody)" filter="url(#mblur)"/><path d="M21,5 C18,5 16,9 15.5,14 C12,15 8.5,17 7.5,20 C9,22 11,22 12.5,23 C7,28 3,36 3,50 C3,64 4,76 7.5,83 L2.5,88 L4.5,90.5 L13,86.5 C16,88 19,88.5 20,88.5 L19.5,92 L22.5,92 L23,88.5 C25,88.5 28,88 30,86.5 L38.5,90.5 L40.5,88 L35,83 C38.5,76 39.5,64 39.5,50 C39.5,36 36,28 31,23 C32.5,22 35,22 35.5,20 C34.5,17 31,15 27,14 C26.5,9 24,5 21,5 Z" fill="#fff" filter="url(#fur)"/></g>
<filter id="sp0" x="0" y="0" width="1" height="1" color-interpolation-filters="sRGB"><feTurbulence type="fractalNoise" baseFrequency="0.9" numOctaves="1" seed="5" result="t"/><feColorMatrix in="t" type="matrix" values="0 0 0 0 0.353 0 0 0 0 0.063 0 0 0 0 1.000 10 0 0 0 -6.45" result="c"/><feComposite in="c" in2="SourceGraphic" operator="in"/></filter>
<ellipse cx="106.0" cy="636.0" rx="10.0" ry="7.0" fill="url(#soft)" filter="url(#sp0)"/>
<filter id="sp1" x="0" y="0" width="1" height="1" color-interpolation-filters="sRGB"><feTurbulence type="fractalNoise" baseFrequency="0.9" numOctaves="1" seed="6" result="t"/><feColorMatrix in="t" type="matrix" values="0 0 0 0 0.227 0 0 0 0 0.125 0 0 0 0 1.000 10 0 0 0 -6.45" result="c"/><feComposite in="c" in2="SourceGraphic" operator="in"/></filter>
<ellipse cx="106.0" cy="636.0" rx="10.0" ry="7.0" fill="url(#soft)" filter="url(#sp1)"/>
<filter id="sp2" x="0" y="0" width="1" height="1" color-interpolation-filters="sRGB"><feTurbulence type="fractalNoise" baseFrequency="0.9" numOctaves="1" seed="7" result="t"/><feColorMatrix in="t" type="matrix" values="0 0 0 0 0.478 0 0 0 0 0.063 0 0 0 0 1.000 10 0 0 0 -6.45" result="c"/><feComposite in="c" in2="SourceGraphic" operator="in"/></filter>
<ellipse cx="106.0" cy="636.0" rx="10.0" ry="7.0" fill="url(#soft)" filter="url(#sp2)"/>
<filter id="sp3" x="0" y="0" width="1" height="1" color-interpolation-filters="sRGB"><feTurbulence type="fractalNoise" baseFrequency="0.9" numOctaves="1" seed="8" result="t"/><feColorMatrix in="t" type="matrix" values="0 0 0 0 0.125 0 0 0 0 0.251 0 0 0 0 1.000 10 0 0 0 -6.45" result="c"/><feComposite in="c" in2="SourceGraphic" operator="in"/></filter>
<ellipse cx="106.0" cy="636.0" rx="10.0" ry="7.0" fill="url(#soft)" filter="url(#sp3)"/>
<filter id="sp4" x="0" y="0" width="1" height="1" color-interpolation-filters="sRGB"><feTurbulence type="fractalNoise" baseFrequency="0.9" numOctaves="1" seed="10" result="t"/><feColorMatrix in="t" type="matrix" values="0 0 0 0 0.353 0 0 0 0 0.063 0 0 0 0 1.000 10 0 0 0 -4.43" result="c"/><feComposite in="c" in2="SourceGraphic" operator="in"/></filter>
<ellipse cx="150.0" cy="632.0" rx="11.0" ry="8.5" fill="url(#soft)" filter="url(#sp4)"/>
<filter id="sp5" x="0" y="0" width="1" height="1" color-interpolation-filters="sRGB"><feTurbulence type="fractalNoise" baseFrequency="0.9" numOctaves="1" seed="11" result="t"/><feColorMatrix in="t" type="matrix" values="0 0 0 0 0.227 0 0 0 0 0.125 0 0 0 0 1.000 10 0 0 0 -4.43" result="c"/><feComposite in="c" in2="SourceGraphic" operator="in"/></filter>
<ellipse cx="150.0" cy="632.0" rx="11.0" ry="8.5" fill="url(#soft)" filter="url(#sp5)"/>
<filter id="sp6" x="0" y="0" width="1" height="1" color-interpolation-filters="sRGB"><feTurbulence type="fractalNoise" baseFrequency="0.9" numOctaves="1" seed="12" result="t"/><feColorMatrix in="t" type="matrix" values="0 0 0 0 0.478 0 0 0 0 0.063 0 0 0 0 1.000 10 0 0 0 -4.43" result="c"/><feComposite in="c" in2="SourceGraphic" operator="in"/></filter>
<ellipse cx="150.0" cy="632.0" rx="11.0" ry="8.5" fill="url(#soft)" filter="url(#sp6)"/>
<filter id="sp7" x="0" y="0" width="1" height="1" color-interpolation-filters="sRGB"><feTurbulence type="fractalNoise" baseFrequency="0.9" numOctaves="1" seed="13" result="t"/><feColorMatrix in="t" type="matrix" values="0 0 0 0 0.125 0 0 0 0 0.251 0 0 0 0 1.000 10 0 0 0 -4.43" result="c"/><feComposite in="c" in2="SourceGraphic" operator="in"/></filter>
<ellipse cx="150.0" cy="632.0" rx="11.0" ry="8.5" fill="url(#soft)" filter="url(#sp7)"/>
<filter id="sp8" x="0" y="0" width="1" height="1" color-interpolation-filters="sRGB"><feTurbulence type="fractalNoise" baseFrequency="0.9" numOctaves="1" seed="15" result="t"/><feColorMatrix in="t" type="matrix" values="0 0 0 0 0.353 0 0 0 0 0.063 0 0 0 0 1.000 10 0 0 0 -5.59" result="c"/><feComposite in="c" in2="SourceGraphic" operator="in"/></filter>
<ellipse cx="150.0" cy="594.0" rx="6.0" ry="6.0" fill="url(#soft)" filter="url(#sp8)"/>
<filter id="sp9" x="0" y="0" width="1" height="1" color-interpolation-filters="sRGB"><feTurbulence type="fractalNoise" baseFrequency="0.9" numOctaves="1" seed="16" result="t"/><feColorMatrix in="t" type="matrix" values="0 0 0 0 0.227 0 0 0 0 0.125 0 0 0 0 1.000 10 0 0 0 -5.59" result="c"/><feComposite in="c" in2="SourceGraphic" operator="in"/></filter>
<ellipse cx="150.0" cy="594.0" rx="6.0" ry="6.0" fill="url(#soft)" filter="url(#sp9)"/>
<filter id="sp10" x="0" y="0" width="1" height="1" color-interpolation-filters="sRGB"><feTurbulence type="fractalNoise" baseFrequency="0.9" numOctaves="1" seed="17" result="t"/><feColorMatrix in="t" type="matrix" values="0 0 0 0 0.478 0 0 0 0 0.063 0 0 0 0 1.000 10 0 0 0 -5.59" result="c"/><feComposite in="c" in2="SourceGraphic" operator="in"/></filter>
<ellipse cx="150.0" cy="594.0" rx="6.0" ry="6.0" fill="url(#soft)" filter="url(#sp10)"/>
<filter id="sp11" x="0" y="0" width="1" height="1" color-interpolation-filters="sRGB"><feTurbulence type="fractalNoise" baseFrequency="0.9" numOctaves="1" seed="18" result="t"/><feColorMatrix in="t" type="matrix" values="0 0 0 0 0.125 0 0 0 0 0.251 0 0 0 0 1.000 10 0 0 0 -5.59" result="c"/><feComposite in="c" in2="SourceGraphic" operator="in"/></filter>
<ellipse cx="150.0" cy="594.0" rx="6.0" ry="6.0" fill="url(#soft)" filter="url(#sp11)"/>
<ellipse cx="158.7" cy="658.1" rx="2.5" ry="3.0" fill="url(#lumC)"/>
<filter id="sp12" x="0" y="0" width="1" height="1" color-interpolation-filters="sRGB"><feTurbulence type="fractalNoise" baseFrequency="0.9" numOctaves="1" seed="20" result="t"/><feColorMatrix in="t" type="matrix" values="0 0 0 0 0.353 0 0 0 0 0.063 0 0 0 0 1.000 10 0 0 0 -5.44" result="c"/><feComposite in="c" in2="SourceGraphic" operator="in"/></filter>
<ellipse cx="193.7" cy="634.0" rx="14.0" ry="9.5" fill="url(#soft)" filter="url(#sp12)"/>
<filter id="sp13" x="0" y="0" width="1" height="1" color-interpolation-filters="sRGB"><feTurbulence type="fractalNoise" baseFrequency="0.9" numOctaves="1" seed="21" result="t"/><feColorMatrix in="t" type="matrix" values="0 0 0 0 0.227 0 0 0 0 0.125 0 0 0 0 1.000 10 0 0 0 -5.44" result="c"/><feComposite in="c" in2="SourceGraphic" operator="in"/></filter>
<ellipse cx="193.7" cy="634.0" rx="14.0" ry="9.5" fill="url(#soft)" filter="url(#sp13)"/>
<filter id="sp14" x="0" y="0" width="1" height="1" color-interpolation-filters="sRGB"><feTurbulence type="fractalNoise" baseFrequency="0.9" numOctaves="1" seed="22" result="t"/><feColorMatrix in="t" type="matrix" values="0 0 0 0 0.478 0 0 0 0 0.063 0 0 0 0 1.000 10 0 0 0 -5.44" result="c"/><feComposite in="c" in2="SourceGraphic" operator="in"/></filter>
<ellipse cx="193.7" cy="634.0" rx="14.0" ry="9.5" fill="url(#soft)" filter="url(#sp14)"/>
<filter id="sp15" x="0" y="0" width="1" height="1" color-interpolation-filters="sRGB"><feTurbulence type="fractalNoise" baseFrequency="0.9" numOctaves="1" seed="23" result="t"/><feColorMatrix in="t" type="matrix" values="0 0 0 0 0.125 0 0 0 0 0.251 0 0 0 0 1.000 10 0 0 0 -5.44" result="c"/><feComposite in="c" in2="SourceGraphic" operator="in"/></filter>
<ellipse cx="193.7" cy="634.0" rx="14.0" ry="9.5" fill="url(#soft)" filter="url(#sp15)"/>
<ellipse cx="236.7" cy="661.0" rx="2.2" ry="2.4" fill="url(#lumB)"/>
<ellipse cx="103.3" cy="659.5" rx="1.5" ry="1.2" fill="url(#lumC)"/>
<ellipse cx="109.2" cy="703.3" rx="5.0" ry="3.5" fill="url(#lumB)"/>
<ellipse cx="112.0" cy="750.0" rx="12.0" ry="11.0" fill="url(#lumA)" transform="rotate(-15 112.0 750.0)"/>
<ellipse cx="121.0" cy="743.0" rx="6.5" ry="8.5" fill="url(#lumB)" transform="rotate(25 121.0 743.0)"/>
<ellipse cx="91.5" cy="747.0" rx="1.5" ry="4.0" fill="url(#lumC)"/>
<ellipse cx="150.4" cy="704.0" rx="3.8" ry="3.2" fill="url(#lumB)"/>
<ellipse cx="200.3" cy="706.9" rx="3.2" ry="5.0" fill="url(#lumB)" transform="rotate(-20 200.3 706.9)"/>
<ellipse cx="239.6" cy="714.2" rx="3.0" ry="3.0" fill="url(#lumC)"/>
<ellipse cx="156.0" cy="755.0" rx="1.5" ry="2.0" fill="url(#lumC)"/>
<filter id="sp16" x="0" y="0" width="1" height="1" color-interpolation-filters="sRGB"><feTurbulence type="fractalNoise" baseFrequency="0.9" numOctaves="1" seed="25" result="t"/><feColorMatrix in="t" type="matrix" values="0 0 0 0 0.353 0 0 0 0 0.063 0 0 0 0 1.000 10 0 0 0 -5.47" result="c"/><feComposite in="c" in2="SourceGraphic" operator="in"/></filter>
<ellipse cx="105.0" cy="849.0" rx="15.0" ry="11.0" fill="url(#soft)" filter="url(#sp16)"/>
<filter id="sp17" x="0" y="0" width="1" height="1" color-interpolation-filters="sRGB"><feTurbulence type="fractalNoise" baseFrequency="0.9" numOctaves="1" seed="26" result="t"/><feColorMatrix in="t" type="matrix" values="0 0 0 0 0.227 0 0 0 0 0.125 0 0 0 0 1.000 10 0 0 0 -5.47" result="c"/><feComposite in="c" in2="SourceGraphic" operator="in"/></filter>
<ellipse cx="105.0" cy="849.0" rx="15.0" ry="11.0" fill="url(#soft)" filter="url(#sp17)"/>
<filter id="sp18" x="0" y="0" width="1" height="1" color-interpolation-filters="sRGB"><feTurbulence type="fractalNoise" baseFrequency="0.9" numOctaves="1" seed="27" result="t"/><feColorMatrix in="t" type="matrix" values="0 0 0 0 0.478 0 0 0 0 0.063 0 0 0 0 1.000 10 0 0 0 -5.47" result="c"/><feComposite in="c" in2="SourceGraphic" operator="in"/></filter>
<ellipse cx="105.0" cy="849.0" rx="15.0" ry="11.0" fill="url(#soft)" filter="url(#sp18)"/>
<filter id="sp19" x="0" y="0" width="1" height="1" color-interpolation-filters="sRGB"><feTurbulence type="fractalNoise" baseFrequency="0.9" numOctaves="1" seed="28" result="t"/><feColorMatrix in="t" type="matrix" values="0 0 0 0 0.125 0 0 0 0 0.251 0 0 0 0 1.000 10 0 0 0 -5.47" result="c"/><feComposite in="c" in2="SourceGraphic" operator="in"/></filter>
<ellipse cx="105.0" cy="849.0" rx="15.0" ry="11.0" fill="url(#soft)" filter="url(#sp19)"/>
<filter id="sp20" x="0" y="0" width="1" height="1" color-interpolation-filters="sRGB"><feTurbulence type="fractalNoise" baseFrequency="0.9" numOctaves="1" seed="55" result="t"/><feColorMatrix in="t" type="matrix" values="0 0 0 0 0.353 0 0 0 0 0.063 0 0 0 0 1.000 10 0 0 0 -6.19" result="c"/><feComposite in="c" in2="SourceGraphic" operator="in"/></filter>
<ellipse cx="107.0" cy="812.0" rx="7.0" ry="12.0" fill="url(#soft)" filter="url(#sp20)"/>
<filter id="sp21" x="0" y="0" width="1" height="1" color-interpolation-filters="sRGB"><feTurbulence type="fractalNoise" baseFrequency="0.9" numOctaves="1" seed="56" result="t"/><feColorMatrix in="t" type="matrix" values="0 0 0 0 0.227 0 0 0 0 0.125 0 0 0 0 1.000 10 0 0 0 -6.19" result="c"/><feComposite in="c" in2="SourceGraphic" operator="in"/></filter>
<ellipse cx="107.0" cy="812.0" rx="7.0" ry="12.0" fill="url(#soft)" filter="url(#sp21)"/>
<filter id="sp22" x="0" y="0" width="1" height="1" color-interpolation-filters="sRGB"><feTurbulence type="fractalNoise" baseFrequency="0.9" numOctaves="1" seed="57" result="t"/><feColorMatrix in="t" type="matrix" values="0 0 0 0 0.478 0 0 0 0 0.063 0 0 0 0 1.000 10 0 0 0 -6.19" result="c"/><feComposite in="c" in2="SourceGraphic" operator="in"/></filter>
<ellipse cx="107.0" cy="812.0" rx="7.0" ry="12.0" fill="url(#soft)" filter="url(#sp22)"/>
<filter id="sp23" x="0" y="0" width="1" height="1" color-interpolation-filters="sRGB"><feTurbulence type="fractalNoise" baseFrequency="0.9" numOctaves="1" seed="58" result="t"/><feColorMatrix in="t" type="matrix" values="0 0 0 0 0.125 0 0 0 0 0.251 0 0 0 0 1.000 10 0 0 0 -6.19" result="c"/><feComposite in="c" in2="SourceGraphic" operator="in"/></filter>
<ellipse cx="107.0" cy="812.0" rx="7.0" ry="12.0" fill="url(#soft)" filter="url(#sp23)"/>
<ellipse cx="149.0" cy="847.0" rx="16.0" ry="13.0" fill="#2040ff" opacity="0.6" filter="url(#mblur)"/>
<ellipse cx="157.0" cy="840.0" rx="8.0" ry="8.0" fill="#20b0ff" opacity="0.5" filter="url(#mblur)"/>
<filter id="sp24" x="0" y="0" width="1" height="1" color-interpolation-filters="sRGB"><feTurbulence type="fractalNoise" baseFrequency="0.9" numOctaves="1" seed="30" result="t"/><feColorMatrix in="t" type="matrix" values="0 0 0 0 0.125 0 0 0 0 0.314 0 0 0 0 1.000 10 0 0 0 -4.89" result="c"/><feComposite in="c" in2="SourceGraphic" operator="in"/></filter>
<ellipse cx="149.0" cy="846.0" rx="18.0" ry="15.0" fill="url(#soft)" filter="url(#sp24)"/>
<filter id="sp25" x="0" y="0" width="1" height="1" color-interpolation-filters="sRGB"><feTurbulence type="fractalNoise" baseFrequency="0.9" numOctaves="1" seed="31" result="t"/><feColorMatrix in="t" type="matrix" values="0 0 0 0 0.188 0 0 0 0 0.251 0 0 0 0 1.000 10 0 0 0 -4.89" result="c"/><feComposite in="c" in2="SourceGraphic" operator="in"/></filter>
<ellipse cx="149.0" cy="846.0" rx="18.0" ry="15.0" fill="url(#soft)" filter="url(#sp25)"/>
<filter id="sp26" x="0" y="0" width="1" height="1" color-interpolation-filters="sRGB"><feTurbulence type="fractalNoise" baseFrequency="0.9" numOctaves="1" seed="32" result="t"/><feColorMatrix in="t" type="matrix" values="0 0 0 0 0.063 0 0 0 0 0.627 0 0 0 0 1.000 10 0 0 0 -4.89" result="c"/><feComposite in="c" in2="SourceGraphic" operator="in"/></filter>
<ellipse cx="149.0" cy="846.0" rx="18.0" ry="15.0" fill="url(#soft)" filter="url(#sp26)"/>
<filter id="sp27" x="0" y="0" width="1" height="1" color-interpolation-filters="sRGB"><feTurbulence type="fractalNoise" baseFrequency="0.9" numOctaves="1" seed="33" result="t"/><feColorMatrix in="t" type="matrix" values="0 0 0 0 0.353 0 0 0 0 0.063 0 0 0 0 1.000 10 0 0 0 -4.89" result="c"/><feComposite in="c" in2="SourceGraphic" operator="in"/></filter>
<ellipse cx="149.0" cy="846.0" rx="18.0" ry="15.0" fill="url(#soft)" filter="url(#sp27)"/>
<filter id="sp28" x="0" y="0" width="1" height="1" color-interpolation-filters="sRGB"><feTurbulence type="fractalNoise" baseFrequency="0.9" numOctaves="1" seed="34" result="t"/><feColorMatrix in="t" type="matrix" values="0 0 0 0 0.125 0 0 0 0 0.439 0 0 0 0 1.000 10 0 0 0 -4.89" result="c"/><feComposite in="c" in2="SourceGraphic" operator="in"/></filter>
<ellipse cx="149.0" cy="846.0" rx="18.0" ry="15.0" fill="url(#soft)" filter="url(#sp28)"/>
<ellipse cx="192.0" cy="840.0" rx="16.0" ry="7.0" fill="#2050ff" opacity="0.6" filter="url(#mblur)"/>
<filter id="sp29" x="0" y="0" width="1" height="1" color-interpolation-filters="sRGB"><feTurbulence type="fractalNoise" baseFrequency="0.9" numOctaves="1" seed="35" result="t"/><feColorMatrix in="t" type="matrix" values="0 0 0 0 0.125 0 0 0 0 0.314 0 0 0 0 1.000 10 0 0 0 -4.92" result="c"/><feComposite in="c" in2="SourceGraphic" operator="in"/></filter>
<ellipse cx="192.0" cy="843.0" rx="18.0" ry="14.0" fill="url(#soft)" filter="url(#sp29)"/>
<filter id="sp30" x="0" y="0" width="1" height="1" color-interpolation-filters="sRGB"><feTurbulence type="fractalNoise" baseFrequency="0.9" numOctaves="1" seed="36" result="t"/><feColorMatrix in="t" type="matrix" values="0 0 0 0 0.188 0 0 0 0 0.251 0 0 0 0 1.000 10 0 0 0 -4.92" result="c"/><feComposite in="c" in2="SourceGraphic" operator="in"/></filter>
<ellipse cx="192.0" cy="843.0" rx="18.0" ry="14.0" fill="url(#soft)" filter="url(#sp30)"/>
<filter id="sp31" x="0" y="0" width="1" height="1" color-interpolation-filters="sRGB"><feTurbulence type="fractalNoise" baseFrequency="0.9" numOctaves="1" seed="37" result="t"/><feColorMatrix in="t" type="matrix" values="0 0 0 0 0.063 0 0 0 0 0.627 0 0 0 0 1.000 10 0 0 0 -4.92" result="c"/><feComposite in="c" in2="SourceGraphic" operator="in"/></filter>
<ellipse cx="192.0" cy="843.0" rx="18.0" ry="14.0" fill="url(#soft)" filter="url(#sp31)"/>
<filter id="sp32" x="0" y="0" width="1" height="1" color-interpolation-filters="sRGB"><feTurbulence type="fractalNoise" baseFrequency="0.9" numOctaves="1" seed="38" result="t"/><feColorMatrix in="t" type="matrix" values="0 0 0 0 0.353 0 0 0 0 0.063 0 0 0 0 1.000 10 0 0 0 -4.92" result="c"/><feComposite in="c" in2="SourceGraphic" operator="in"/></filter>
<ellipse cx="192.0" cy="843.0" rx="18.0" ry="14.0" fill="url(#soft)" filter="url(#sp32)"/>
<filter id="sp33" x="0" y="0" width="1" height="1" color-interpolation-filters="sRGB"><feTurbulence type="fractalNoise" baseFrequency="0.9" numOctaves="1" seed="39" result="t"/><feColorMatrix in="t" type="matrix" values="0 0 0 0 0.125 0 0 0 0 0.439 0 0 0 0 1.000 10 0 0 0 -4.92" result="c"/><feComposite in="c" in2="SourceGraphic" operator="in"/></filter>
<ellipse cx="192.0" cy="843.0" rx="18.0" ry="14.0" fill="url(#soft)" filter="url(#sp33)"/>
<filter id="sp34" x="0" y="0" width="1" height="1" color-interpolation-filters="sRGB"><feTurbulence type="fractalNoise" baseFrequency="0.9" numOctaves="1" seed="40" result="t"/><feColorMatrix in="t" type="matrix" values="0 0 0 0 0.353 0 0 0 0 0.063 0 0 0 0 1.000 10 0 0 0 -4.86" result="c"/><feComposite in="c" in2="SourceGraphic" operator="in"/></filter>
<ellipse cx="230.0" cy="849.0" rx="15.0" ry="11.0" fill="url(#soft)" filter="url(#sp34)"/>
<filter id="sp35" x="0" y="0" width="1" height="1" color-interpolation-filters="sRGB"><feTurbulence type="fractalNoise" baseFrequency="0.9" numOctaves="1" seed="41" result="t"/><feColorMatrix in="t" type="matrix" values="0 0 0 0 0.227 0 0 0 0 0.125 0 0 0 0 1.000 10 0 0 0 -4.86" result="c"/><feComposite in="c" in2="SourceGraphic" operator="in"/></filter>
<ellipse cx="230.0" cy="849.0" rx="15.0" ry="11.0" fill="url(#soft)" filter="url(#sp35)"/>
<filter id="sp36" x="0" y="0" width="1" height="1" color-interpolation-filters="sRGB"><feTurbulence type="fractalNoise" baseFrequency="0.9" numOctaves="1" seed="42" result="t"/><feColorMatrix in="t" type="matrix" values="0 0 0 0 0.478 0 0 0 0 0.063 0 0 0 0 1.000 10 0 0 0 -4.86" result="c"/><feComposite in="c" in2="SourceGraphic" operator="in"/></filter>
<ellipse cx="230.0" cy="849.0" rx="15.0" ry="11.0" fill="url(#soft)" filter="url(#sp36)"/>
<filter id="sp37" x="0" y="0" width="1" height="1" color-interpolation-filters="sRGB"><feTurbulence type="fractalNoise" baseFrequency="0.9" numOctaves="1" seed="43" result="t"/><feColorMatrix in="t" type="matrix" values="0 0 0 0 0.125 0 0 0 0 0.251 0 0 0 0 1.000 10 0 0 0 -4.86" result="c"/><feComposite in="c" in2="SourceGraphic" operator="in"/></filter>
<ellipse cx="230.0" cy="849.0" rx="15.0" ry="11.0" fill="url(#soft)" filter="url(#sp37)"/>
<filter id="sp38" x="0" y="0" width="1" height="1" color-interpolation-filters="sRGB"><feTurbulence type="fractalNoise" baseFrequency="0.9" numOctaves="1" seed="45" result="t"/><feColorMatrix in="t" type="matrix" values="0 0 0 0 0.353 0 0 0 0 0.063 0 0 0 0 1.000 10 0 0 0 -6.29" result="c"/><feComposite in="c" in2="SourceGraphic" operator="in"/></filter>
<ellipse cx="150.0" cy="805.0" rx="8.0" ry="10.0" fill="url(#soft)" filter="url(#sp38)"/>
<filter id="sp39" x="0" y="0" width="1" height="1" color-interpolation-filters="sRGB"><feTurbulence type="fractalNoise" baseFrequency="0.9" numOctaves="1" seed="46" result="t"/><feColorMatrix in="t" type="matrix" values="0 0 0 0 0.227 0 0 0 0 0.125 0 0 0 0 1.000 10 0 0 0 -6.29" result="c"/><feComposite in="c" in2="SourceGraphic" operator="in"/></filter>
<ellipse cx="150.0" cy="805.0" rx="8.0" ry="10.0" fill="url(#soft)" filter="url(#sp39)"/>
<filter id="sp40" x="0" y="0" width="1" height="1" color-interpolation-filters="sRGB"><feTurbulence type="fractalNoise" baseFrequency="0.9" numOctaves="1" seed="47" result="t"/><feColorMatrix in="t" type="matrix" values="0 0 0 0 0.478 0 0 0 0 0.063 0 0 0 0 1.000 10 0 0 0 -6.29" result="c"/><feComposite in="c" in2="SourceGraphic" operator="in"/></filter>
<ellipse cx="150.0" cy="805.0" rx="8.0" ry="10.0" fill="url(#soft)" filter="url(#sp40)"/>
<filter id="sp41" x="0" y="0" width="1" height="1" color-interpolation-filters="sRGB"><feTurbulence type="fractalNoise" baseFrequency="0.9" numOctaves="1" seed="48" result="t"/><feColorMatrix in="t" type="matrix" values="0 0 0 0 0.125 0 0 0 0 0.251 0 0 0 0 1.000 10 0 0 0 -6.29" result="c"/><feComposite in="c" in2="SourceGraphic" operator="in"/></filter>
<ellipse cx="150.0" cy="805.0" rx="8.0" ry="10.0" fill="url(#soft)" filter="url(#sp41)"/>
<filter id="sp42" x="0" y="0" width="1" height="1" color-interpolation-filters="sRGB"><feTurbulence type="fractalNoise" baseFrequency="0.9" numOctaves="1" seed="50" result="t"/><feColorMatrix in="t" type="matrix" values="0 0 0 0 0.353 0 0 0 0 0.063 0 0 0 0 1.000 10 0 0 0 -6.29" result="c"/><feComposite in="c" in2="SourceGraphic" operator="in"/></filter>
<ellipse cx="190.0" cy="805.0" rx="8.0" ry="10.0" fill="url(#soft)" filter="url(#sp42)"/>
<filter id="sp43" x="0" y="0" width="1" height="1" color-interpolation-filters="sRGB"><feTurbulence type="fractalNoise" baseFrequency="0.9" numOctaves="1" seed="51" result="t"/><feColorMatrix in="t" type="matrix" values="0 0 0 0 0.227 0 0 0 0 0.125 0 0 0 0 1.000 10 0 0 0 -6.29" result="c"/><feComposite in="c" in2="SourceGraphic" operator="in"/></filter>
<ellipse cx="190.0" cy="805.0" rx="8.0" ry="10.0" fill="url(#soft)" filter="url(#sp43)"/>
<filter id="sp44" x="0" y="0" width="1" height="1" color-interpolation-filters="sRGB"><feTurbulence type="fractalNoise" baseFrequency="0.9" numOctaves="1" seed="52" result="t"/><feColorMatrix in="t" type="matrix" values="0 0 0 0 0.478 0 0 0 0 0.063 0 0 0 0 1.000 10 0 0 0 -6.29" result="c"/><feComposite in="c" in2="SourceGraphic" operator="in"/></filter>
<ellipse cx="190.0" cy="805.0" rx="8.0" ry="10.0" fill="url(#soft)" filter="url(#sp44)"/>
<filter id="sp45" x="0" y="0" width="1" height="1" color-interpolation-filters="sRGB"><feTurbulence type="fractalNoise" baseFrequency="0.9" numOctaves="1" seed="53" result="t"/><feColorMatrix in="t" type="matrix" values="0 0 0 0 0.125 0 0 0 0 0.251 0 0 0 0 1.000 10 0 0 0 -6.29" result="c"/><feComposite in="c" in2="SourceGraphic" operator="in"/></filter>
<ellipse cx="190.0" cy="805.0" rx="8.0" ry="10.0" fill="url(#soft)" filter="url(#sp45)"/>
<ellipse cx="101.6" cy="917.7" rx="10.4" ry="8.2" fill="url(#lumB)"/>
<ellipse cx="106.0" cy="959.2" rx="14.0" ry="13.0" fill="url(#lumA)"/>
<ellipse cx="95.0" cy="958.0" rx="6.0" ry="11.0" fill="url(#lumC)"/>
<ellipse cx="150.5" cy="923.7" rx="11.0" ry="8.0" fill="url(#lumB)" transform="rotate(20 150.5 923.7)"/>
<ellipse cx="137.0" cy="968.0" rx="4.0" ry="3.0" fill="url(#lumC)"/>
<ellipse cx="195.0" cy="926.6" rx="11.0" ry="9.0" fill="url(#lumA)"/>
<ellipse cx="187.6" cy="969.6" rx="4.0" ry="3.0" fill="url(#lumC)"/>
<ellipse cx="243.9" cy="928.0" rx="5.0" ry="5.0" fill="url(#lumB)"/>
<text x="75.5" y="619.7" font-size="10.5" font-weight="bold" text-anchor="middle" fill="#000" transform="rotate(-90 75.5 619.7)">NC</text>
<text x="75.2" y="713.9" font-size="10.5" font-weight="bold" text-anchor="middle" transform="rotate(-90 75.2 713.9)">CBX3<tspan font-size="7.6" dy="-6">OE</tspan></text>
<text x="82.3" y="779.8" font-size="10.5" font-weight="bold" fill="#000">Week4</text>
<text x="77.5" y="827.3" font-size="10.5" font-weight="bold" text-anchor="middle" fill="#000" transform="rotate(-90 77.5 827.3)">NC</text>
<text x="77" y="921.9" font-size="10.5" font-weight="bold" text-anchor="middle" transform="rotate(-90 77 921.9)">CBX3<tspan font-size="7.6" dy="-6">OE</tspan></text>
<rect x="281.0" y="678.1" width="7.4" height="205.5" fill="url(#cbar)"/>
<rect x="281.0" y="678.1" width="7.4" height="205.5" fill="none" stroke="#444" stroke-width="0.5"/>
<line x1="288.4" y1="678.1" x2="290.4" y2="678.1" stroke="#333" stroke-width="0.6"/>
<line x1="288.4" y1="688.4" x2="290.4" y2="688.4" stroke="#333" stroke-width="0.6"/>
<line x1="288.4" y1="698.6" x2="290.4" y2="698.6" stroke="#333" stroke-width="0.6"/>
<line x1="288.4" y1="708.9" x2="290.4" y2="708.9" stroke="#333" stroke-width="0.6"/>
<line x1="288.4" y1="719.2" x2="290.4" y2="719.2" stroke="#333" stroke-width="0.6"/>
<line x1="288.4" y1="729.5" x2="290.4" y2="729.5" stroke="#333" stroke-width="0.6"/>
<line x1="288.4" y1="739.8" x2="290.4" y2="739.8" stroke="#333" stroke-width="0.6"/>
<line x1="288.4" y1="750.0" x2="290.4" y2="750.0" stroke="#333" stroke-width="0.6"/>
<line x1="288.4" y1="760.3" x2="290.4" y2="760.3" stroke="#333" stroke-width="0.6"/>
<line x1="288.4" y1="770.6" x2="290.4" y2="770.6" stroke="#333" stroke-width="0.6"/>
<line x1="288.4" y1="780.9" x2="290.4" y2="780.9" stroke="#333" stroke-width="0.6"/>
<line x1="288.4" y1="791.1" x2="290.4" y2="791.1" stroke="#333" stroke-width="0.6"/>
<line x1="288.4" y1="801.4" x2="290.4" y2="801.4" stroke="#333" stroke-width="0.6"/>
<line x1="288.4" y1="811.7" x2="290.4" y2="811.7" stroke="#333" stroke-width="0.6"/>
<line x1="288.4" y1="822.0" x2="290.4" y2="822.0" stroke="#333" stroke-width="0.6"/>
<line x1="288.4" y1="832.2" x2="290.4" y2="832.2" stroke="#333" stroke-width="0.6"/>
<line x1="288.4" y1="842.5" x2="290.4" y2="842.5" stroke="#333" stroke-width="0.6"/>
<line x1="288.4" y1="852.8" x2="290.4" y2="852.8" stroke="#333" stroke-width="0.6"/>
<line x1="288.4" y1="863.0" x2="290.4" y2="863.0" stroke="#333" stroke-width="0.6"/>
<line x1="288.4" y1="873.3" x2="290.4" y2="873.3" stroke="#333" stroke-width="0.6"/>
<line x1="288.4" y1="883.6" x2="290.4" y2="883.6" stroke="#333" stroke-width="0.6"/>
<line x1="288.4" y1="690.9" x2="292.0" y2="690.9" stroke="#333" stroke-width="0.8"/>
<text x="297.3" y="694.4" font-size="10" font-weight="bold" fill="#000">1.5</text>
<line x1="288.4" y1="754.6" x2="292.0" y2="754.6" stroke="#333" stroke-width="0.8"/>
<text x="297.3" y="758.1" font-size="10" font-weight="bold" fill="#000">1.0</text>
<line x1="288.4" y1="819.9" x2="292.0" y2="819.9" stroke="#333" stroke-width="0.8"/>
<text x="297.3" y="823.4" font-size="10" font-weight="bold" fill="#000">0.5</text>
<text x="291.5" y="882" font-size="9.5">×10<tspan font-size="6" dy="-3.5">10</tspan></text>
<text x="275.0" y="784.0" font-size="12.5" font-weight="bold" text-anchor="middle" fill="#000" transform="rotate(-90 275.0 784.0)">Luminescence</text>
<text x="407.2" y="569.8" font-size="9.5" font-weight="bold" fill="#000">Week1- All</text>
<line x1="439.0" y1="686.4" x2="439.0" y2="586.1" stroke="#000" stroke-width="1.1"/>
<line x1="438.4" y1="686.4" x2="504.2" y2="686.4" stroke="#000" stroke-width="1.1"/>
<line x1="436.0" y1="686.4" x2="439.0" y2="686.4" stroke="#000" stroke-width="1.1"/>
<text x="432.3" y="693.0" font-size="10" font-weight="bold" text-anchor="end" fill="#000">10</text>
<text x="432.6" y="687.9" font-size="5.5" fill="#000">4</text>
<line x1="436.0" y1="666.3" x2="439.0" y2="666.3" stroke="#000" stroke-width="1.1"/>
<text x="432.3" y="672.9" font-size="10" font-weight="bold" text-anchor="end" fill="#000">10</text>
<text x="432.6" y="667.8" font-size="5.5" fill="#000">5</text>
<line x1="436.0" y1="646.3" x2="439.0" y2="646.3" stroke="#000" stroke-width="1.1"/>
<text x="432.3" y="652.9" font-size="10" font-weight="bold" text-anchor="end" fill="#000">10</text>
<text x="432.6" y="647.8" font-size="5.5" fill="#000">6</text>
<line x1="436.0" y1="626.2" x2="439.0" y2="626.2" stroke="#000" stroke-width="1.1"/>
<text x="432.3" y="632.8" font-size="10" font-weight="bold" text-anchor="end" fill="#000">10</text>
<text x="432.6" y="627.7" font-size="5.5" fill="#000">7</text>
<line x1="436.0" y1="606.2" x2="439.0" y2="606.2" stroke="#000" stroke-width="1.1"/>
<text x="432.3" y="612.8" font-size="10" font-weight="bold" text-anchor="end" fill="#000">10</text>
<text x="432.6" y="607.7" font-size="5.5" fill="#000">8</text>
<line x1="436.0" y1="586.1" x2="439.0" y2="586.1" stroke="#000" stroke-width="1.1"/>
<text x="432.3" y="592.7" font-size="10" font-weight="bold" text-anchor="end" fill="#000">10</text>
<text x="432.6" y="587.6" font-size="5.5" fill="#000">9</text>
<rect x="449.3" y="655.9" width="17.8" height="30.5" fill="#fde0c4" stroke="#1a1a1a" stroke-width="1.1"/>
<line x1="458.2" y1="650.9" x2="458.2" y2="660.9" stroke="#111" stroke-width="1.0"/>
<line x1="454.2" y1="650.9" x2="462.2" y2="650.9" stroke="#111" stroke-width="1.0"/>
<line x1="454.2" y1="660.9" x2="462.2" y2="660.9" stroke="#111" stroke-width="1.0"/>
<circle cx="453.2" cy="652.9" r="1.9" fill="#000"/>
<circle cx="458.2" cy="655.9" r="1.9" fill="#000"/>
<circle cx="463.2" cy="656.9" r="1.9" fill="#000"/>
<circle cx="456.2" cy="659.4" r="1.9" fill="#000"/>
<line x1="458.2" y1="686.4" x2="458.2" y2="689.4" stroke="#000" stroke-width="1.1"/>
<rect x="476.6" y="597.4" width="17.2" height="89.0" fill="#f77c7c" stroke="#1a1a1a" stroke-width="1.1"/>
<line x1="485.2" y1="594.4" x2="485.2" y2="600.4" stroke="#111" stroke-width="1.0"/>
<line x1="481.2" y1="594.4" x2="489.2" y2="594.4" stroke="#111" stroke-width="1.0"/>
<line x1="481.2" y1="600.4" x2="489.2" y2="600.4" stroke="#111" stroke-width="1.0"/>
<rect x="478.3" y="594.0" width="3.8" height="3.8" fill="#000"/>
<rect x="488.3" y="594.6" width="3.8" height="3.8" fill="#000"/>
<rect x="483.3" y="597.0" width="3.8" height="3.8" fill="#000"/>
<rect x="485.3" y="595.5" width="3.8" height="3.8" fill="#000"/>
<line x1="485.2" y1="686.4" x2="485.2" y2="689.4" stroke="#000" stroke-width="1.1"/>
<text x="413.7" y="636.0" font-size="9.8" font-weight="bold" text-anchor="middle" fill="#000" transform="rotate(-90 413.7 636.0)">Photons/sec(log10)</text>
<text x="454.7" y="700.4" font-size="9.6" font-weight="bold" text-anchor="middle" fill="#000">NC</text>
<text x="479.3" y="700.4" font-size="9.6" font-weight="bold" text-anchor="middle" fill="#000">CBX3</text>
<text x="492.4" y="694.4" font-size="7.871999999999999" font-weight="bold" fill="#000">OE</text>
<line x1="458.0" y1="592.0" x2="485.0" y2="592.0" stroke="#222" stroke-width="1.0"/>
<text x="472.4" y="591.5" font-size="12.5" font-weight="bold" text-anchor="middle" fill="#111" letter-spacing="1.8">***</text>
<text x="542.8" y="569.8" font-size="9.5" font-weight="bold" fill="#000">Week4- All</text>
<line x1="569.5" y1="683.2" x2="569.5" y2="583.2" stroke="#000" stroke-width="1.1"/>
<line x1="569.0" y1="683.2" x2="637.7" y2="683.2" stroke="#000" stroke-width="1.1"/>
<line x1="566.5" y1="683.2" x2="569.5" y2="683.2" stroke="#000" stroke-width="1.1"/>
<text x="562.8" y="689.8" font-size="10" font-weight="bold" text-anchor="end" fill="#000">10</text>
<text x="563.1" y="684.7" font-size="5.5" fill="#000">4</text>
<line x1="566.5" y1="666.5" x2="569.5" y2="666.5" stroke="#000" stroke-width="1.1"/>
<text x="562.8" y="673.1" font-size="10" font-weight="bold" text-anchor="end" fill="#000">10</text>
<text x="563.1" y="668.0" font-size="5.5" fill="#000">5</text>
<line x1="566.5" y1="649.9" x2="569.5" y2="649.9" stroke="#000" stroke-width="1.1"/>
<text x="562.8" y="656.5" font-size="10" font-weight="bold" text-anchor="end" fill="#000">10</text>
<text x="563.1" y="651.4" font-size="5.5" fill="#000">6</text>
<line x1="566.5" y1="633.2" x2="569.5" y2="633.2" stroke="#000" stroke-width="1.1"/>
<text x="562.8" y="639.8" font-size="10" font-weight="bold" text-anchor="end" fill="#000">10</text>
<text x="563.1" y="634.7" font-size="5.5" fill="#000">7</text>
<line x1="566.5" y1="616.5" x2="569.5" y2="616.5" stroke="#000" stroke-width="1.1"/>
<text x="562.8" y="623.1" font-size="10" font-weight="bold" text-anchor="end" fill="#000">10</text>
<text x="563.1" y="618.0" font-size="5.5" fill="#000">8</text>
<line x1="566.5" y1="599.9" x2="569.5" y2="599.9" stroke="#000" stroke-width="1.1"/>
<text x="562.8" y="606.5" font-size="10" font-weight="bold" text-anchor="end" fill="#000">10</text>
<text x="563.1" y="601.4" font-size="5.5" fill="#000">9</text>
<line x1="566.5" y1="583.2" x2="569.5" y2="583.2" stroke="#000" stroke-width="1.1"/>
<text x="559.6" y="589.8" font-size="10" font-weight="bold" text-anchor="end" fill="#000">10</text>
<text x="559.9" y="584.7" font-size="5.5" fill="#000">10</text>
<rect x="580.4" y="652.0" width="18.1" height="31.2" fill="#fde0c4" stroke="#1a1a1a" stroke-width="1.1"/>
<line x1="589.5" y1="648.0" x2="589.5" y2="656.0" stroke="#111" stroke-width="1.0"/>
<line x1="585.5" y1="648.0" x2="593.5" y2="648.0" stroke="#111" stroke-width="1.0"/>
<line x1="585.5" y1="656.0" x2="593.5" y2="656.0" stroke="#111" stroke-width="1.0"/>
<circle cx="584.5" cy="649.6" r="1.9" fill="#000"/>
<circle cx="589.5" cy="652.0" r="1.9" fill="#000"/>
<circle cx="594.5" cy="652.8" r="1.9" fill="#000"/>
<circle cx="587.5" cy="654.8" r="1.9" fill="#000"/>
<line x1="589.5" y1="683.2" x2="589.5" y2="686.2" stroke="#000" stroke-width="1.1"/>
<rect x="609.5" y="589.1" width="17.8" height="94.1" fill="#f77c7c" stroke="#1a1a1a" stroke-width="1.1"/>
<line x1="618.4" y1="583.1" x2="618.4" y2="595.1" stroke="#111" stroke-width="1.0"/>
<line x1="614.4" y1="583.1" x2="622.4" y2="583.1" stroke="#111" stroke-width="1.0"/>
<line x1="614.4" y1="595.1" x2="622.4" y2="595.1" stroke="#111" stroke-width="1.0"/>
<rect x="611.5" y="584.2" width="3.8" height="3.8" fill="#000"/>
<rect x="621.5" y="585.4" width="3.8" height="3.8" fill="#000"/>
<rect x="616.5" y="590.2" width="3.8" height="3.8" fill="#000"/>
<rect x="618.5" y="587.2" width="3.8" height="3.8" fill="#000"/>
<line x1="618.4" y1="683.2" x2="618.4" y2="686.2" stroke="#000" stroke-width="1.1"/>
<text x="543.3" y="633.0" font-size="9.8" font-weight="bold" text-anchor="middle" fill="#000" transform="rotate(-90 543.3 633.0)">Photons/sec(log10)</text>
<text x="585.8" y="697.4" font-size="9.6" font-weight="bold" text-anchor="middle" fill="#000">NC</text>
<text x="612.5" y="697.4" font-size="9.6" font-weight="bold" text-anchor="middle" fill="#000">CBX3</text>
<text x="625.6" y="691.4" font-size="7.871999999999999" font-weight="bold" fill="#000">OE</text>
<line x1="588.0" y1="583.2" x2="618.0" y2="583.2" stroke="#222" stroke-width="1.0"/>
<text x="603.9" y="582.7" font-size="12.5" font-weight="bold" text-anchor="middle" fill="#111" letter-spacing="1.8">**</text>
<text x="409.3" y="713.7" font-size="9.5" font-weight="bold" fill="#000">Week1- Lung</text>
<line x1="440.4" y1="827.3" x2="440.4" y2="728.5" stroke="#000" stroke-width="1.1"/>
<line x1="439.8" y1="827.3" x2="505.7" y2="827.3" stroke="#000" stroke-width="1.1"/>
<line x1="437.4" y1="827.3" x2="440.4" y2="827.3" stroke="#000" stroke-width="1.1"/>
<text x="434.5" y="832.2" font-size="7.5" font-weight="bold" text-anchor="end" fill="#000">10</text>
<text x="434.8" y="828.4" font-size="4.125" fill="#000">0</text>
<line x1="437.4" y1="814.9" x2="440.4" y2="814.9" stroke="#000" stroke-width="1.1"/>
<text x="434.5" y="819.9" font-size="7.5" font-weight="bold" text-anchor="end" fill="#000">10</text>
<text x="434.8" y="816.1" font-size="4.125" fill="#000">1</text>
<line x1="437.4" y1="802.6" x2="440.4" y2="802.6" stroke="#000" stroke-width="1.1"/>
<text x="434.5" y="807.5" font-size="7.5" font-weight="bold" text-anchor="end" fill="#000">10</text>
<text x="434.8" y="803.7" font-size="4.125" fill="#000">2</text>
<line x1="437.4" y1="790.2" x2="440.4" y2="790.2" stroke="#000" stroke-width="1.1"/>
<text x="434.5" y="795.2" font-size="7.5" font-weight="bold" text-anchor="end" fill="#000">10</text>
<text x="434.8" y="791.4" font-size="4.125" fill="#000">3</text>
<line x1="437.4" y1="777.9" x2="440.4" y2="777.9" stroke="#000" stroke-width="1.1"/>
<text x="434.5" y="782.9" font-size="7.5" font-weight="bold" text-anchor="end" fill="#000">10</text>
<text x="434.8" y="779.0" font-size="4.125" fill="#000">4</text>
<line x1="437.4" y1="765.5" x2="440.4" y2="765.5" stroke="#000" stroke-width="1.1"/>
<text x="434.5" y="770.5" font-size="7.5" font-weight="bold" text-anchor="end" fill="#000">10</text>
<text x="434.8" y="766.7" font-size="4.125" fill="#000">5</text>
<line x1="437.4" y1="753.2" x2="440.4" y2="753.2" stroke="#000" stroke-width="1.1"/>
<text x="434.5" y="758.2" font-size="7.5" font-weight="bold" text-anchor="end" fill="#000">10</text>
<text x="434.8" y="754.3" font-size="4.125" fill="#000">6</text>
<line x1="437.4" y1="740.9" x2="440.4" y2="740.9" stroke="#000" stroke-width="1.1"/>
<text x="434.5" y="745.8" font-size="7.5" font-weight="bold" text-anchor="end" fill="#000">10</text>
<text x="434.8" y="742.0" font-size="4.125" fill="#000">7</text>
<line x1="437.4" y1="728.5" x2="440.4" y2="728.5" stroke="#000" stroke-width="1.1"/>
<text x="434.5" y="733.5" font-size="7.5" font-weight="bold" text-anchor="end" fill="#000">10</text>
<text x="434.8" y="729.6" font-size="4.125" fill="#000">8</text>
<rect x="450.8" y="764.7" width="17.2" height="62.6" fill="#fde0c4" stroke="#1a1a1a" stroke-width="1.1"/>
<line x1="459.4" y1="762.7" x2="459.4" y2="766.7" stroke="#111" stroke-width="1.0"/>
<line x1="455.4" y1="762.7" x2="463.4" y2="762.7" stroke="#111" stroke-width="1.0"/>
<line x1="455.4" y1="766.7" x2="463.4" y2="766.7" stroke="#111" stroke-width="1.0"/>
<circle cx="454.4" cy="763.5" r="1.9" fill="#000"/>
<circle cx="459.4" cy="764.7" r="1.9" fill="#000"/>
<circle cx="464.4" cy="765.1" r="1.9" fill="#000"/>
<circle cx="457.4" cy="766.1" r="1.9" fill="#000"/>
<line x1="459.4" y1="827.3" x2="459.4" y2="830.3" stroke="#000" stroke-width="1.1"/>
<rect x="478.1" y="735.0" width="17.8" height="92.3" fill="#f77c7c" stroke="#1a1a1a" stroke-width="1.1"/>
<line x1="487.0" y1="733.0" x2="487.0" y2="737.0" stroke="#111" stroke-width="1.0"/>
<line x1="483.0" y1="733.0" x2="491.0" y2="733.0" stroke="#111" stroke-width="1.0"/>
<line x1="483.0" y1="737.0" x2="491.0" y2="737.0" stroke="#111" stroke-width="1.0"/>
<rect x="480.1" y="732.1" width="3.8" height="3.8" fill="#000"/>
<rect x="490.1" y="732.5" width="3.8" height="3.8" fill="#000"/>
<rect x="485.1" y="734.1" width="3.8" height="3.8" fill="#000"/>
<rect x="487.1" y="733.1" width="3.8" height="3.8" fill="#000"/>
<line x1="487.0" y1="827.3" x2="487.0" y2="830.3" stroke="#000" stroke-width="1.1"/>
<text x="421.7" y="773.0" font-size="9.8" font-weight="bold" text-anchor="middle" fill="#000" transform="rotate(-90 421.7 773.0)">Photons/sec(log10)</text>
<text x="459.7" y="841.3" font-size="9.6" font-weight="bold" text-anchor="middle" fill="#000">NC</text>
<text x="486.4" y="841.3" font-size="9.6" font-weight="bold" text-anchor="middle" fill="#000">CBX3</text>
<text x="499.5" y="835.3" font-size="7.871999999999999" font-weight="bold" fill="#000">OE</text>
<line x1="457.3" y1="726.5" x2="487.9" y2="726.5" stroke="#222" stroke-width="1.0"/>
<text x="473.5" y="726.0" font-size="12.5" font-weight="bold" text-anchor="middle" fill="#111" letter-spacing="1.8">***</text>
<text x="542.8" y="713.7" font-size="9.5" font-weight="bold" fill="#000">Week4- Lung</text>
<line x1="571.0" y1="823.5" x2="571.0" y2="725.6" stroke="#000" stroke-width="1.1"/>
<line x1="570.5" y1="823.5" x2="636.2" y2="823.5" stroke="#000" stroke-width="1.1"/>
<line x1="568.0" y1="823.5" x2="571.0" y2="823.5" stroke="#000" stroke-width="1.1"/>
<text x="565.1" y="828.5" font-size="7.5" font-weight="bold" text-anchor="end" fill="#000">10</text>
<text x="565.4" y="824.6" font-size="4.125" fill="#000">0</text>
<line x1="568.0" y1="812.6" x2="571.0" y2="812.6" stroke="#000" stroke-width="1.1"/>
<text x="565.1" y="817.6" font-size="7.5" font-weight="bold" text-anchor="end" fill="#000">10</text>
<text x="565.4" y="813.7" font-size="4.125" fill="#000">1</text>
<line x1="568.0" y1="801.7" x2="571.0" y2="801.7" stroke="#000" stroke-width="1.1"/>
<text x="565.1" y="806.7" font-size="7.5" font-weight="bold" text-anchor="end" fill="#000">10</text>
<text x="565.4" y="802.9" font-size="4.125" fill="#000">2</text>
<line x1="568.0" y1="790.9" x2="571.0" y2="790.9" stroke="#000" stroke-width="1.1"/>
<text x="565.1" y="795.8" font-size="7.5" font-weight="bold" text-anchor="end" fill="#000">10</text>
<text x="565.4" y="792.0" font-size="4.125" fill="#000">3</text>
<line x1="568.0" y1="780.0" x2="571.0" y2="780.0" stroke="#000" stroke-width="1.1"/>
<text x="565.1" y="784.9" font-size="7.5" font-weight="bold" text-anchor="end" fill="#000">10</text>
<text x="565.4" y="781.1" font-size="4.125" fill="#000">4</text>
<line x1="568.0" y1="769.1" x2="571.0" y2="769.1" stroke="#000" stroke-width="1.1"/>
<text x="565.1" y="774.1" font-size="7.5" font-weight="bold" text-anchor="end" fill="#000">10</text>
<text x="565.4" y="770.2" font-size="4.125" fill="#000">5</text>
<line x1="568.0" y1="758.2" x2="571.0" y2="758.2" stroke="#000" stroke-width="1.1"/>
<text x="565.1" y="763.2" font-size="7.5" font-weight="bold" text-anchor="end" fill="#000">10</text>
<text x="565.4" y="759.4" font-size="4.125" fill="#000">6</text>
<line x1="568.0" y1="747.4" x2="571.0" y2="747.4" stroke="#000" stroke-width="1.1"/>
<text x="565.1" y="752.3" font-size="7.5" font-weight="bold" text-anchor="end" fill="#000">10</text>
<text x="565.4" y="748.5" font-size="4.125" fill="#000">7</text>
<line x1="568.0" y1="736.5" x2="571.0" y2="736.5" stroke="#000" stroke-width="1.1"/>
<text x="565.1" y="741.4" font-size="7.5" font-weight="bold" text-anchor="end" fill="#000">10</text>
<text x="565.4" y="737.6" font-size="4.125" fill="#000">8</text>
<line x1="568.0" y1="725.6" x2="571.0" y2="725.6" stroke="#000" stroke-width="1.1"/>
<text x="565.1" y="730.6" font-size="7.5" font-weight="bold" text-anchor="end" fill="#000">10</text>
<text x="565.4" y="726.7" font-size="4.125" fill="#000">9</text>
<rect x="581.3" y="767.7" width="17.8" height="55.8" fill="#fde0c4" stroke="#1a1a1a" stroke-width="1.1"/>
<line x1="590.2" y1="766.2" x2="590.2" y2="769.2" stroke="#111" stroke-width="1.0"/>
<line x1="586.2" y1="766.2" x2="594.2" y2="766.2" stroke="#111" stroke-width="1.0"/>
<line x1="586.2" y1="769.2" x2="594.2" y2="769.2" stroke="#111" stroke-width="1.0"/>
<circle cx="585.2" cy="766.8" r="1.9" fill="#000"/>
<circle cx="590.2" cy="767.7" r="1.9" fill="#000"/>
<circle cx="595.2" cy="768.0" r="1.9" fill="#000"/>
<circle cx="588.2" cy="768.8" r="1.9" fill="#000"/>
<line x1="590.2" y1="823.5" x2="590.2" y2="826.5" stroke="#000" stroke-width="1.1"/>
<rect x="608.9" y="740.4" width="17.5" height="83.1" fill="#f77c7c" stroke="#1a1a1a" stroke-width="1.1"/>
<line x1="617.6" y1="736.4" x2="617.6" y2="744.4" stroke="#111" stroke-width="1.0"/>
<line x1="613.6" y1="736.4" x2="621.6" y2="736.4" stroke="#111" stroke-width="1.0"/>
<line x1="613.6" y1="744.4" x2="621.6" y2="744.4" stroke="#111" stroke-width="1.0"/>
<rect x="610.8" y="736.5" width="3.8" height="3.8" fill="#000"/>
<rect x="620.8" y="737.3" width="3.8" height="3.8" fill="#000"/>
<rect x="615.8" y="740.5" width="3.8" height="3.8" fill="#000"/>
<rect x="617.8" y="738.5" width="3.8" height="3.8" fill="#000"/>
<line x1="617.6" y1="823.5" x2="617.6" y2="826.5" stroke="#000" stroke-width="1.1"/>
<text x="550.7" y="775.0" font-size="9.8" font-weight="bold" text-anchor="middle" fill="#000" transform="rotate(-90 550.7 775.0)">Photons/sec(log10)</text>
<text x="585.3" y="836.8" font-size="9.6" font-weight="bold" text-anchor="middle" fill="#000">NC</text>
<text x="612.0" y="836.8" font-size="9.6" font-weight="bold" text-anchor="middle" fill="#000">CBX3</text>
<text x="625.1" y="830.8" font-size="7.871999999999999" font-weight="bold" fill="#000">OE</text>
<line x1="589.3" y1="730.0" x2="619.0" y2="730.0" stroke="#222" stroke-width="1.0"/>
<text x="605.0" y="729.5" font-size="12.5" font-weight="bold" text-anchor="middle" fill="#111" letter-spacing="1.8">*</text>
<text x="407.2" y="856.1" font-size="9.5" font-weight="bold" fill="#000">Week1- Brain</text>
<line x1="440.4" y1="968.8" x2="440.4" y2="869.5" stroke="#000" stroke-width="1.1"/>
<line x1="439.8" y1="968.8" x2="505.7" y2="968.8" stroke="#000" stroke-width="1.1"/>
<line x1="437.4" y1="968.8" x2="440.4" y2="968.8" stroke="#000" stroke-width="1.1"/>
<text x="434.5" y="973.8" font-size="7.5" font-weight="bold" text-anchor="end" fill="#000">10</text>
<text x="434.8" y="969.9" font-size="4.125" fill="#000">0</text>
<line x1="437.4" y1="954.6" x2="440.4" y2="954.6" stroke="#000" stroke-width="1.1"/>
<text x="434.5" y="959.6" font-size="7.5" font-weight="bold" text-anchor="end" fill="#000">10</text>
<text x="434.8" y="955.7" font-size="4.125" fill="#000">1</text>
<line x1="437.4" y1="940.4" x2="440.4" y2="940.4" stroke="#000" stroke-width="1.1"/>
<text x="434.5" y="945.4" font-size="7.5" font-weight="bold" text-anchor="end" fill="#000">10</text>
<text x="434.8" y="941.6" font-size="4.125" fill="#000">2</text>
<line x1="437.4" y1="926.2" x2="440.4" y2="926.2" stroke="#000" stroke-width="1.1"/>
<text x="434.5" y="931.2" font-size="7.5" font-weight="bold" text-anchor="end" fill="#000">10</text>
<text x="434.8" y="927.4" font-size="4.125" fill="#000">3</text>
<line x1="437.4" y1="912.1" x2="440.4" y2="912.1" stroke="#000" stroke-width="1.1"/>
<text x="434.5" y="917.0" font-size="7.5" font-weight="bold" text-anchor="end" fill="#000">10</text>
<text x="434.8" y="913.2" font-size="4.125" fill="#000">4</text>
<line x1="437.4" y1="897.9" x2="440.4" y2="897.9" stroke="#000" stroke-width="1.1"/>
<text x="434.5" y="902.8" font-size="7.5" font-weight="bold" text-anchor="end" fill="#000">10</text>
<text x="434.8" y="899.0" font-size="4.125" fill="#000">5</text>
<line x1="437.4" y1="883.7" x2="440.4" y2="883.7" stroke="#000" stroke-width="1.1"/>
<text x="434.5" y="888.6" font-size="7.5" font-weight="bold" text-anchor="end" fill="#000">10</text>
<text x="434.8" y="884.8" font-size="4.125" fill="#000">6</text>
<line x1="437.4" y1="869.5" x2="440.4" y2="869.5" stroke="#000" stroke-width="1.1"/>
<text x="434.5" y="874.5" font-size="7.5" font-weight="bold" text-anchor="end" fill="#000">10</text>
<text x="434.8" y="870.6" font-size="4.125" fill="#000">7</text>
<rect x="450.2" y="898.2" width="17.5" height="70.6" fill="#fde0c4" stroke="#1a1a1a" stroke-width="1.1"/>
<line x1="458.9" y1="896.7" x2="458.9" y2="899.7" stroke="#111" stroke-width="1.0"/>
<line x1="454.9" y1="896.7" x2="462.9" y2="896.7" stroke="#111" stroke-width="1.0"/>
<line x1="454.9" y1="899.7" x2="462.9" y2="899.7" stroke="#111" stroke-width="1.0"/>
<circle cx="453.9" cy="897.3" r="1.9" fill="#000"/>
<circle cx="458.9" cy="898.2" r="1.9" fill="#000"/>
<circle cx="463.9" cy="898.5" r="1.9" fill="#000"/>
<circle cx="456.9" cy="899.2" r="1.9" fill="#000"/>
<line x1="458.9" y1="968.8" x2="458.9" y2="971.8" stroke="#000" stroke-width="1.1"/>
<rect x="477.5" y="884.3" width="17.8" height="84.5" fill="#f77c7c" stroke="#1a1a1a" stroke-width="1.1"/>
<line x1="486.4" y1="882.3" x2="486.4" y2="886.3" stroke="#111" stroke-width="1.0"/>
<line x1="482.4" y1="882.3" x2="490.4" y2="882.3" stroke="#111" stroke-width="1.0"/>
<line x1="482.4" y1="886.3" x2="490.4" y2="886.3" stroke="#111" stroke-width="1.0"/>
<rect x="479.5" y="881.4" width="3.8" height="3.8" fill="#000"/>
<rect x="489.5" y="881.8" width="3.8" height="3.8" fill="#000"/>
<rect x="484.5" y="883.4" width="3.8" height="3.8" fill="#000"/>
<rect x="486.5" y="882.4" width="3.8" height="3.8" fill="#000"/>
<line x1="486.4" y1="968.8" x2="486.4" y2="971.8" stroke="#000" stroke-width="1.1"/>
<text x="415.7" y="914.7" font-size="9.8" font-weight="bold" text-anchor="middle" fill="#000" transform="rotate(-90 415.7 914.7)">Photons/sec(log10)</text>
<text x="459.5" y="982.2" font-size="9.6" font-weight="bold" text-anchor="middle" fill="#000">NC</text>
<text x="486.0" y="982.2" font-size="9.6" font-weight="bold" text-anchor="middle" fill="#000">CBX3</text>
<text x="499.1" y="976.2" font-size="7.871999999999999" font-weight="bold" fill="#000">OE</text>
<line x1="457.3" y1="873.9" x2="486.4" y2="873.9" stroke="#222" stroke-width="1.0"/>
<text x="472.8" y="873.4" font-size="12.5" font-weight="bold" text-anchor="middle" fill="#111" letter-spacing="1.8">***</text>
<text x="537.4" y="858.2" font-size="9.5" font-weight="bold" fill="#000">Week4- Brain</text>
<line x1="571.5" y1="968.8" x2="571.5" y2="868.0" stroke="#000" stroke-width="1.1"/>
<line x1="571.0" y1="968.8" x2="639.2" y2="968.8" stroke="#000" stroke-width="1.1"/>
<line x1="568.5" y1="968.8" x2="571.5" y2="968.8" stroke="#000" stroke-width="1.1"/>
<text x="565.6" y="973.8" font-size="7.5" font-weight="bold" text-anchor="end" fill="#000">10</text>
<text x="565.9" y="969.9" font-size="4.125" fill="#000">0</text>
<line x1="568.5" y1="954.4" x2="571.5" y2="954.4" stroke="#000" stroke-width="1.1"/>
<text x="565.6" y="959.4" font-size="7.5" font-weight="bold" text-anchor="end" fill="#000">10</text>
<text x="565.9" y="955.5" font-size="4.125" fill="#000">1</text>
<line x1="568.5" y1="940.0" x2="571.5" y2="940.0" stroke="#000" stroke-width="1.1"/>
<text x="565.6" y="945.0" font-size="7.5" font-weight="bold" text-anchor="end" fill="#000">10</text>
<text x="565.9" y="941.1" font-size="4.125" fill="#000">2</text>
<line x1="568.5" y1="925.6" x2="571.5" y2="925.6" stroke="#000" stroke-width="1.1"/>
<text x="565.6" y="930.6" font-size="7.5" font-weight="bold" text-anchor="end" fill="#000">10</text>
<text x="565.9" y="926.7" font-size="4.125" fill="#000">3</text>
<line x1="568.5" y1="911.2" x2="571.5" y2="911.2" stroke="#000" stroke-width="1.1"/>
<text x="565.6" y="916.1" font-size="7.5" font-weight="bold" text-anchor="end" fill="#000">10</text>
<text x="565.9" y="912.3" font-size="4.125" fill="#000">4</text>
<line x1="568.5" y1="896.8" x2="571.5" y2="896.8" stroke="#000" stroke-width="1.1"/>
<text x="565.6" y="901.8" font-size="7.5" font-weight="bold" text-anchor="end" fill="#000">10</text>
<text x="565.9" y="897.9" font-size="4.125" fill="#000">5</text>
<line x1="568.5" y1="882.4" x2="571.5" y2="882.4" stroke="#000" stroke-width="1.1"/>
<text x="565.6" y="887.4" font-size="7.5" font-weight="bold" text-anchor="end" fill="#000">10</text>
<text x="565.9" y="883.5" font-size="4.125" fill="#000">6</text>
<line x1="568.5" y1="868.0" x2="571.5" y2="868.0" stroke="#000" stroke-width="1.1"/>
<text x="565.6" y="873.0" font-size="7.5" font-weight="bold" text-anchor="end" fill="#000">10</text>
<text x="565.9" y="869.1" font-size="4.125" fill="#000">7</text>
<rect x="582.2" y="897.6" width="18.4" height="71.2" fill="#fde0c4" stroke="#1a1a1a" stroke-width="1.1"/>
<line x1="591.4" y1="896.4" x2="591.4" y2="898.8" stroke="#111" stroke-width="1.0"/>
<line x1="587.4" y1="896.4" x2="595.4" y2="896.4" stroke="#111" stroke-width="1.0"/>
<line x1="587.4" y1="898.8" x2="595.4" y2="898.8" stroke="#111" stroke-width="1.0"/>
<circle cx="586.4" cy="896.9" r="1.9" fill="#000"/>
<circle cx="591.4" cy="897.6" r="1.9" fill="#000"/>
<circle cx="596.4" cy="897.8" r="1.9" fill="#000"/>
<circle cx="589.4" cy="898.4" r="1.9" fill="#000"/>
<line x1="591.4" y1="968.8" x2="591.4" y2="971.8" stroke="#000" stroke-width="1.1"/>
<rect x="609.5" y="874.5" width="18.4" height="94.3" fill="#f77c7c" stroke="#1a1a1a" stroke-width="1.1"/>
<line x1="618.7" y1="870.5" x2="618.7" y2="878.5" stroke="#111" stroke-width="1.0"/>
<line x1="614.7" y1="870.5" x2="622.7" y2="870.5" stroke="#111" stroke-width="1.0"/>
<line x1="614.7" y1="878.5" x2="622.7" y2="878.5" stroke="#111" stroke-width="1.0"/>
<rect x="611.8" y="870.6" width="3.8" height="3.8" fill="#000"/>
<rect x="621.8" y="871.4" width="3.8" height="3.8" fill="#000"/>
<rect x="616.8" y="874.6" width="3.8" height="3.8" fill="#000"/>
<rect x="618.8" y="872.6" width="3.8" height="3.8" fill="#000"/>
<line x1="618.7" y1="968.8" x2="618.7" y2="971.8" stroke="#000" stroke-width="1.1"/>
<text x="546.3" y="914.0" font-size="9.8" font-weight="bold" text-anchor="middle" fill="#000" transform="rotate(-90 546.3 914.0)">Photons/sec(log10)</text>
<text x="593.2" y="982.2" font-size="9.6" font-weight="bold" text-anchor="middle" fill="#000">NC</text>
<text x="617.0" y="982.2" font-size="9.6" font-weight="bold" text-anchor="middle" fill="#000">CBX3</text>
<text x="630.1" y="976.2" font-size="7.871999999999999" font-weight="bold" fill="#000">OE</text>
<line x1="588.2" y1="865.0" x2="620.0" y2="865.0" stroke="#222" stroke-width="1.0"/>
<text x="605.0" y="864.5" font-size="12.5" font-weight="bold" text-anchor="middle" fill="#111" letter-spacing="1.8">**</text>
<defs><filter id="cb5" x="-50%" y="-50%" width="200%" height="200%"><feGaussianBlur stdDeviation="0.5"/></filter><filter id="cb8" x="-50%" y="-50%" width="200%" height="200%"><feGaussianBlur stdDeviation="0.8"/></filter><filter id="cb10" x="-50%" y="-50%" width="200%" height="200%"><feGaussianBlur stdDeviation="1.0"/></filter><filter id="cb15" x="-50%" y="-50%" width="200%" height="200%"><feGaussianBlur stdDeviation="1.5"/></filter><filter id="cb20" x="-50%" y="-50%" width="200%" height="200%"><feGaussianBlur stdDeviation="2.0"/></filter></defs>
<text x="686.5" y="586.0" font-size="25" font-weight="bold" fill="#231815">I</text>
<text x="729.8" y="591.2" font-size="12.5" font-weight="bold" fill="#231815">LUAD</text>
<text x="729.8" y="796.2" font-size="12.5" font-weight="bold" fill="#231815">SKCM</text>
<rect x="727.8" y="598.3" width="86.4" height="86.1" fill="#000"/>
<rect x="837.2" y="598.3" width="86.5" height="86.1" fill="#000"/>
<rect x="944.0" y="598.3" width="86.7" height="86.1" fill="#000"/>
<rect x="1051.9" y="598.3" width="86.0" height="86.1" fill="#000"/>
<rect x="727.8" y="692.2" width="86.4" height="86.4" fill="#000"/>
<rect x="837.2" y="692.2" width="86.5" height="86.4" fill="#000"/>
<rect x="944.0" y="692.2" width="86.7" height="86.4" fill="#000"/>
<rect x="1051.9" y="692.2" width="86.0" height="86.4" fill="#000"/>
<rect x="727.8" y="804.0" width="86.4" height="85.4" fill="#000"/>
<rect x="837.2" y="804.0" width="86.5" height="85.4" fill="#000"/>
<rect x="944.0" y="804.0" width="86.7" height="85.4" fill="#000"/>
<rect x="1051.9" y="804.0" width="86.0" height="85.4" fill="#000"/>
<rect x="727.8" y="895.5" width="86.4" height="85.4" fill="#000"/>
<rect x="837.2" y="895.5" width="86.5" height="85.4" fill="#000"/>
<rect x="944.0" y="895.5" width="86.7" height="85.4" fill="#000"/>
<rect x="1051.9" y="895.5" width="86.0" height="85.4" fill="#000"/>
<clipPath id="iclip"><rect x="727.8" y="598.3" width="86.4" height="86.1"/><rect x="837.2" y="598.3" width="86.5" height="86.1"/><rect x="944" y="598.3" width="86.7" height="86.1"/><rect x="1051.9" y="598.3" width="86.0" height="86.1"/><rect x="727.8" y="692.2" width="86.4" height="86.4"/><rect x="837.2" y="692.2" width="86.5" height="86.4"/><rect x="944" y="692.2" width="86.7" height="86.4"/><rect x="1051.9" y="692.2" width="86.0" height="86.4"/><rect x="727.8" y="804" width="86.4" height="85.4"/><rect x="837.2" y="804" width="86.5" height="85.4"/><rect x="944" y="804" width="86.7" height="85.4"/><rect x="1051.9" y="804" width="86.0" height="85.4"/><rect x="727.8" y="895.5" width="86.4" height="85.4"/><rect x="837.2" y="895.5" width="86.5" height="85.4"/><rect x="944" y="895.5" width="86.7" height="85.4"/><rect x="1051.9" y="895.5" width="86.0" height="85.4"/></clipPath>
<g clip-path="url(#iclip)">
<ellipse cx="768.7" cy="600.5" rx="1.2" ry="3.0" fill="#30d030" opacity="1.0" filter="url(#cb10)"/>
<ellipse cx="877.5" cy="600.5" rx="1.2" ry="3.0" fill="#30d030" opacity="1.0" filter="url(#cb10)"/>
<ellipse cx="762.0" cy="631.0" rx="7.5" ry="8.5" fill="none" stroke="#22e022" stroke-width="3.4" opacity="1.0" filter="url(#cb10)"/>
<ellipse cx="762.0" cy="631.0" rx="4.5" ry="5.1" fill="#22e022" opacity="0.35" filter="url(#cb10)"/>
<ellipse cx="762.0" cy="631.0" rx="4.0" ry="5.0" fill="#a07020" opacity="0.6" filter="url(#cb10)"/>
<ellipse cx="779.6" cy="630.5" rx="6.5" ry="7.0" fill="#fff020" opacity="1.0" filter="url(#cb10)"/>
<ellipse cx="781.0" cy="627.0" rx="3.0" ry="3.0" fill="#ff8010" opacity="0.45" filter="url(#cb10)"/>
<ellipse cx="871.1" cy="630.5" rx="7.5" ry="7.5" fill="none" stroke="#22e022" stroke-width="3.4" opacity="1.0" filter="url(#cb10)"/>
<ellipse cx="871.1" cy="630.5" rx="4.5" ry="4.5" fill="#22e022" opacity="0.35" filter="url(#cb10)"/>
<ellipse cx="889.0" cy="630.5" rx="6.0" ry="6.0" fill="none" stroke="#20a060" stroke-width="2.7" opacity="0.8" filter="url(#cb10)"/>
<ellipse cx="889.0" cy="630.5" rx="3.6" ry="3.6" fill="#20a060" opacity="0.27999999999999997" filter="url(#cb10)"/>
<ellipse cx="977.9" cy="630.5" rx="5.5" ry="6.0" fill="#801020" opacity="0.6" filter="url(#cb10)"/>
<ellipse cx="995.8" cy="630.5" rx="6.0" ry="6.5" fill="#ff1010" opacity="1.0" filter="url(#cb10)"/>
<ellipse cx="1084.5" cy="629.7" rx="7.0" ry="7.5" fill="#a0a020" opacity="0.7" filter="url(#cb10)"/>
<ellipse cx="1103.8" cy="631.2" rx="7.0" ry="7.5" fill="#f0f020" opacity="1.0" filter="url(#cb10)"/>
<ellipse cx="759.3" cy="743.0" rx="7.5" ry="7.5" fill="#f0f020" opacity="1.0" filter="url(#cb10)"/>
<ellipse cx="758.0" cy="741.0" rx="5.0" ry="5.0" fill="#c8e020" opacity="0.5" filter="url(#cb10)"/>
<ellipse cx="793.2" cy="721.0" rx="13.0" ry="5.5" fill="#22e022" opacity="1.0" filter="url(#cb10)" transform="rotate(-10 793.2 721.0)"/>
<ellipse cx="795.0" cy="720.0" rx="6.0" ry="4.0" fill="#e0e040" opacity="0.6" filter="url(#cb10)"/>
<ellipse cx="868.4" cy="743.0" rx="7.5" ry="7.5" fill="#22e022" opacity="1.0" filter="url(#cb10)"/>
<ellipse cx="902.3" cy="721.0" rx="13.0" ry="5.5" fill="#22e022" opacity="1.0" filter="url(#cb10)" transform="rotate(-10 902.3 721.0)"/>
<ellipse cx="976.2" cy="743.0" rx="6.5" ry="7.0" fill="#ff1010" opacity="1.0" filter="url(#cb10)"/>
<ellipse cx="1010.0" cy="720.0" rx="8.0" ry="5.0" fill="#c01010" opacity="0.7" filter="url(#cb10)" transform="rotate(-10 1010.0 720.0)"/>
<ellipse cx="1082.4" cy="743.9" rx="6.0" ry="6.5" fill="#f0f020" opacity="1.0" filter="url(#cb10)"/>
<ellipse cx="1117.0" cy="721.6" rx="6.0" ry="4.0" fill="#a0a020" opacity="0.7" filter="url(#cb10)" transform="rotate(-20 1117.0 721.6)"/>
<ellipse cx="761.0" cy="835.2" rx="6.5" ry="5.5" fill="#f0f020" opacity="1.0" filter="url(#cb10)" transform="rotate(20 761.0 835.2)"/>
<ellipse cx="768.8" cy="857.5" rx="4.5" ry="5.0" fill="#22e022" opacity="1.0" filter="url(#cb10)"/>
<ellipse cx="871.1" cy="836.2" rx="5.5" ry="5.0" fill="#22e022" opacity="0.9" filter="url(#cb10)" transform="rotate(20 871.1 836.2)"/>
<ellipse cx="878.6" cy="857.5" rx="4.5" ry="5.0" fill="#22e022" opacity="0.9" filter="url(#cb10)"/>
<ellipse cx="977.9" cy="837.9" rx="5.0" ry="4.5" fill="#e01060" opacity="1.0" filter="url(#cb10)" transform="rotate(20 977.9 837.9)"/>
<ellipse cx="985.7" cy="859.9" rx="5.0" ry="5.0" fill="#101080" opacity="0.9" filter="url(#cb10)"/>
<ellipse cx="1086.3" cy="835.2" rx="6.0" ry="5.0" fill="#e0e020" opacity="1.0" filter="url(#cb10)" transform="rotate(20 1086.3 835.2)"/>
<ellipse cx="1094.0" cy="858.2" rx="5.0" ry="5.0" fill="#101080" opacity="0.9" filter="url(#cb10)"/>
<ellipse cx="747.4" cy="932.8" rx="7.0" ry="6.0" fill="#20c020" opacity="0.85" filter="url(#cb10)"/>
<ellipse cx="780.7" cy="951.4" rx="6.5" ry="7.0" fill="#f0f020" opacity="1.0" filter="url(#cb10)"/>
<ellipse cx="856.9" cy="932.8" rx="7.0" ry="6.0" fill="#20c020" opacity="0.85" filter="url(#cb10)"/>
<ellipse cx="889.8" cy="951.4" rx="6.0" ry="7.0" fill="#20c020" opacity="0.9" filter="url(#cb10)"/>
<ellipse cx="964.3" cy="932.8" rx="6.0" ry="5.5" fill="#101070" opacity="0.8" filter="url(#cb10)"/>
<ellipse cx="997.5" cy="951.4" rx="6.0" ry="7.0" fill="#f01020" opacity="1.0" filter="url(#cb10)"/>
<ellipse cx="1072.8" cy="932.8" rx="6.0" ry="5.5" fill="#101070" opacity="0.8" filter="url(#cb10)"/>
<ellipse cx="1105.0" cy="951.4" rx="6.0" ry="7.0" fill="#e8e020" opacity="1.0" filter="url(#cb10)"/>
</g>
<text x="732.2" y="614.5" font-size="11" font-weight="bold" fill="#fff">Merge</text>
<line x1="732.1" y1="671.8" x2="782.8" y2="671.8" stroke="#c8c8c8" stroke-width="0.8"/>
<line x1="732.1" y1="671.8" x2="732.1" y2="674.6" stroke="#c8c8c8" stroke-width="0.8"/>
<text x="732.1" y="679.1" font-size="3.5" text-anchor="middle" fill="#d0d0d0">0</text>
<line x1="749.0" y1="671.8" x2="749.0" y2="674.6" stroke="#c8c8c8" stroke-width="0.8"/>
<text x="749.0" y="679.1" font-size="3.5" text-anchor="middle" fill="#d0d0d0">20</text>
<line x1="765.9" y1="671.8" x2="765.9" y2="674.6" stroke="#c8c8c8" stroke-width="0.8"/>
<text x="765.9" y="679.1" font-size="3.5" text-anchor="middle" fill="#d0d0d0">40</text>
<line x1="782.8" y1="671.8" x2="782.8" y2="674.6" stroke="#c8c8c8" stroke-width="0.8"/>
<text x="782.8" y="679.1" font-size="3.5" text-anchor="middle" fill="#d0d0d0">60</text>
<text x="789.8" y="675.8" font-size="3.5" fill="#d0d0d0">um</text>
<text x="844.0" y="614.5" font-size="11" font-weight="bold" fill="#fff">EPCAM</text>
<line x1="841.5" y1="671.8" x2="892.2" y2="671.8" stroke="#c8c8c8" stroke-width="0.8"/>
<line x1="841.5" y1="671.8" x2="841.5" y2="674.6" stroke="#c8c8c8" stroke-width="0.8"/>
<text x="841.5" y="679.1" font-size="3.5" text-anchor="middle" fill="#d0d0d0">0</text>
<line x1="858.4" y1="671.8" x2="858.4" y2="674.6" stroke="#c8c8c8" stroke-width="0.8"/>
<text x="858.4" y="679.1" font-size="3.5" text-anchor="middle" fill="#d0d0d0">20</text>
<line x1="875.3" y1="671.8" x2="875.3" y2="674.6" stroke="#c8c8c8" stroke-width="0.8"/>
<text x="875.3" y="679.1" font-size="3.5" text-anchor="middle" fill="#d0d0d0">40</text>
<line x1="892.2" y1="671.8" x2="892.2" y2="674.6" stroke="#c8c8c8" stroke-width="0.8"/>
<text x="892.2" y="679.1" font-size="3.5" text-anchor="middle" fill="#d0d0d0">60</text>
<text x="899.2" y="675.8" font-size="3.5" fill="#d0d0d0">um</text>
<text x="952.5" y="614.5" font-size="11" font-weight="bold" fill="#fff">CBX3</text>
<line x1="948.3" y1="671.8" x2="999.0" y2="671.8" stroke="#c8c8c8" stroke-width="0.8"/>
<line x1="948.3" y1="671.8" x2="948.3" y2="674.6" stroke="#c8c8c8" stroke-width="0.8"/>
<text x="948.3" y="679.1" font-size="3.5" text-anchor="middle" fill="#d0d0d0">0</text>
<line x1="965.2" y1="671.8" x2="965.2" y2="674.6" stroke="#c8c8c8" stroke-width="0.8"/>
<text x="965.2" y="679.1" font-size="3.5" text-anchor="middle" fill="#d0d0d0">20</text>
<line x1="982.1" y1="671.8" x2="982.1" y2="674.6" stroke="#c8c8c8" stroke-width="0.8"/>
<text x="982.1" y="679.1" font-size="3.5" text-anchor="middle" fill="#d0d0d0">40</text>
<line x1="999.0" y1="671.8" x2="999.0" y2="674.6" stroke="#c8c8c8" stroke-width="0.8"/>
<text x="999.0" y="679.1" font-size="3.5" text-anchor="middle" fill="#d0d0d0">60</text>
<text x="1006.0" y="675.8" font-size="3.5" fill="#d0d0d0">um</text>
<text x="1059.3" y="614.5" font-size="11" font-weight="bold" fill="#fff">GPX4</text>
<line x1="1056.2" y1="671.8" x2="1106.9" y2="671.8" stroke="#c8c8c8" stroke-width="0.8"/>
<line x1="1056.2" y1="671.8" x2="1056.2" y2="674.6" stroke="#c8c8c8" stroke-width="0.8"/>
<text x="1056.2" y="679.1" font-size="3.5" text-anchor="middle" fill="#d0d0d0">0</text>
<line x1="1073.1" y1="671.8" x2="1073.1" y2="674.6" stroke="#c8c8c8" stroke-width="0.8"/>
<text x="1073.1" y="679.1" font-size="3.5" text-anchor="middle" fill="#d0d0d0">20</text>
<line x1="1090.0" y1="671.8" x2="1090.0" y2="674.6" stroke="#c8c8c8" stroke-width="0.8"/>
<text x="1090.0" y="679.1" font-size="3.5" text-anchor="middle" fill="#d0d0d0">40</text>
<line x1="1106.9" y1="671.8" x2="1106.9" y2="674.6" stroke="#c8c8c8" stroke-width="0.8"/>
<text x="1106.9" y="679.1" font-size="3.5" text-anchor="middle" fill="#d0d0d0">60</text>
<text x="1113.9" y="675.8" font-size="3.5" fill="#d0d0d0">um</text>
<text x="730.5" y="713.0" font-size="11" font-weight="bold" fill="#fff">Merge</text>
<line x1="732.1" y1="766.0" x2="782.8" y2="766.0" stroke="#c8c8c8" stroke-width="0.8"/>
<line x1="732.1" y1="766.0" x2="732.1" y2="768.8" stroke="#c8c8c8" stroke-width="0.8"/>
<text x="732.1" y="773.3" font-size="3.5" text-anchor="middle" fill="#d0d0d0">0</text>
<line x1="749.0" y1="766.0" x2="749.0" y2="768.8" stroke="#c8c8c8" stroke-width="0.8"/>
<text x="749.0" y="773.3" font-size="3.5" text-anchor="middle" fill="#d0d0d0">20</text>
<line x1="765.9" y1="766.0" x2="765.9" y2="768.8" stroke="#c8c8c8" stroke-width="0.8"/>
<text x="765.9" y="773.3" font-size="3.5" text-anchor="middle" fill="#d0d0d0">40</text>
<line x1="782.8" y1="766.0" x2="782.8" y2="768.8" stroke="#c8c8c8" stroke-width="0.8"/>
<text x="782.8" y="773.3" font-size="3.5" text-anchor="middle" fill="#d0d0d0">60</text>
<text x="789.8" y="770.0" font-size="3.5" fill="#d0d0d0">um</text>
<text x="842.3" y="713.0" font-size="11" font-weight="bold" fill="#fff">EPCAM</text>
<line x1="841.5" y1="766.0" x2="892.2" y2="766.0" stroke="#c8c8c8" stroke-width="0.8"/>
<line x1="841.5" y1="766.0" x2="841.5" y2="768.8" stroke="#c8c8c8" stroke-width="0.8"/>
<text x="841.5" y="773.3" font-size="3.5" text-anchor="middle" fill="#d0d0d0">0</text>
<line x1="858.4" y1="766.0" x2="858.4" y2="768.8" stroke="#c8c8c8" stroke-width="0.8"/>
<text x="858.4" y="773.3" font-size="3.5" text-anchor="middle" fill="#d0d0d0">20</text>
<line x1="875.3" y1="766.0" x2="875.3" y2="768.8" stroke="#c8c8c8" stroke-width="0.8"/>
<text x="875.3" y="773.3" font-size="3.5" text-anchor="middle" fill="#d0d0d0">40</text>
<line x1="892.2" y1="766.0" x2="892.2" y2="768.8" stroke="#c8c8c8" stroke-width="0.8"/>
<text x="892.2" y="773.3" font-size="3.5" text-anchor="middle" fill="#d0d0d0">60</text>
<text x="899.2" y="770.0" font-size="3.5" fill="#d0d0d0">um</text>
<text x="951.4" y="713.0" font-size="11" font-weight="bold" fill="#fff">CBX3</text>
<line x1="948.3" y1="766.0" x2="999.0" y2="766.0" stroke="#c8c8c8" stroke-width="0.8"/>
<line x1="948.3" y1="766.0" x2="948.3" y2="768.8" stroke="#c8c8c8" stroke-width="0.8"/>
<text x="948.3" y="773.3" font-size="3.5" text-anchor="middle" fill="#d0d0d0">0</text>
<line x1="965.2" y1="766.0" x2="965.2" y2="768.8" stroke="#c8c8c8" stroke-width="0.8"/>
<text x="965.2" y="773.3" font-size="3.5" text-anchor="middle" fill="#d0d0d0">20</text>
<line x1="982.1" y1="766.0" x2="982.1" y2="768.8" stroke="#c8c8c8" stroke-width="0.8"/>
<text x="982.1" y="773.3" font-size="3.5" text-anchor="middle" fill="#d0d0d0">40</text>
<line x1="999.0" y1="766.0" x2="999.0" y2="768.8" stroke="#c8c8c8" stroke-width="0.8"/>
<text x="999.0" y="773.3" font-size="3.5" text-anchor="middle" fill="#d0d0d0">60</text>
<text x="1006.0" y="770.0" font-size="3.5" fill="#d0d0d0">um</text>
<text x="1057.8" y="713.0" font-size="11" font-weight="bold" fill="#fff">GPX4</text>
<line x1="1056.2" y1="766.0" x2="1106.9" y2="766.0" stroke="#c8c8c8" stroke-width="0.8"/>
<line x1="1056.2" y1="766.0" x2="1056.2" y2="768.8" stroke="#c8c8c8" stroke-width="0.8"/>
<text x="1056.2" y="773.3" font-size="3.5" text-anchor="middle" fill="#d0d0d0">0</text>
<line x1="1073.1" y1="766.0" x2="1073.1" y2="768.8" stroke="#c8c8c8" stroke-width="0.8"/>
<text x="1073.1" y="773.3" font-size="3.5" text-anchor="middle" fill="#d0d0d0">20</text>
<line x1="1090.0" y1="766.0" x2="1090.0" y2="768.8" stroke="#c8c8c8" stroke-width="0.8"/>
<text x="1090.0" y="773.3" font-size="3.5" text-anchor="middle" fill="#d0d0d0">40</text>
<line x1="1106.9" y1="766.0" x2="1106.9" y2="768.8" stroke="#c8c8c8" stroke-width="0.8"/>
<text x="1106.9" y="773.3" font-size="3.5" text-anchor="middle" fill="#d0d0d0">60</text>
<text x="1113.9" y="770.0" font-size="3.5" fill="#d0d0d0">um</text>
<text x="732.2" y="821.5" font-size="11" font-weight="bold" fill="#fff">Merge</text>
<line x1="732.1" y1="876.8" x2="782.8" y2="876.8" stroke="#c8c8c8" stroke-width="0.8"/>
<line x1="732.1" y1="876.8" x2="732.1" y2="879.6" stroke="#c8c8c8" stroke-width="0.8"/>
<text x="732.1" y="884.1" font-size="3.5" text-anchor="middle" fill="#d0d0d0">0</text>
<line x1="749.0" y1="876.8" x2="749.0" y2="879.6" stroke="#c8c8c8" stroke-width="0.8"/>
<text x="749.0" y="884.1" font-size="3.5" text-anchor="middle" fill="#d0d0d0">20</text>
<line x1="765.9" y1="876.8" x2="765.9" y2="879.6" stroke="#c8c8c8" stroke-width="0.8"/>
<text x="765.9" y="884.1" font-size="3.5" text-anchor="middle" fill="#d0d0d0">40</text>
<line x1="782.8" y1="876.8" x2="782.8" y2="879.6" stroke="#c8c8c8" stroke-width="0.8"/>
<text x="782.8" y="884.1" font-size="3.5" text-anchor="middle" fill="#d0d0d0">60</text>
<text x="789.8" y="880.8" font-size="3.5" fill="#d0d0d0">um</text>
<text x="843.0" y="821.5" font-size="11" font-weight="bold" fill="#fff">NG2</text>
<line x1="841.5" y1="876.8" x2="892.2" y2="876.8" stroke="#c8c8c8" stroke-width="0.8"/>
<line x1="841.5" y1="876.8" x2="841.5" y2="879.6" stroke="#c8c8c8" stroke-width="0.8"/>
<text x="841.5" y="884.1" font-size="3.5" text-anchor="middle" fill="#d0d0d0">0</text>
<line x1="858.4" y1="876.8" x2="858.4" y2="879.6" stroke="#c8c8c8" stroke-width="0.8"/>
<text x="858.4" y="884.1" font-size="3.5" text-anchor="middle" fill="#d0d0d0">20</text>
<line x1="875.3" y1="876.8" x2="875.3" y2="879.6" stroke="#c8c8c8" stroke-width="0.8"/>
<text x="875.3" y="884.1" font-size="3.5" text-anchor="middle" fill="#d0d0d0">40</text>
<line x1="892.2" y1="876.8" x2="892.2" y2="879.6" stroke="#c8c8c8" stroke-width="0.8"/>
<text x="892.2" y="884.1" font-size="3.5" text-anchor="middle" fill="#d0d0d0">60</text>
<text x="899.2" y="880.8" font-size="3.5" fill="#d0d0d0">um</text>
<text x="952.5" y="821.5" font-size="11" font-weight="bold" fill="#fff">CBX3</text>
<line x1="948.3" y1="876.8" x2="999.0" y2="876.8" stroke="#c8c8c8" stroke-width="0.8"/>
<line x1="948.3" y1="876.8" x2="948.3" y2="879.6" stroke="#c8c8c8" stroke-width="0.8"/>
<text x="948.3" y="884.1" font-size="3.5" text-anchor="middle" fill="#d0d0d0">0</text>
<line x1="965.2" y1="876.8" x2="965.2" y2="879.6" stroke="#c8c8c8" stroke-width="0.8"/>
<text x="965.2" y="884.1" font-size="3.5" text-anchor="middle" fill="#d0d0d0">20</text>
<line x1="982.1" y1="876.8" x2="982.1" y2="879.6" stroke="#c8c8c8" stroke-width="0.8"/>
<text x="982.1" y="884.1" font-size="3.5" text-anchor="middle" fill="#d0d0d0">40</text>
<line x1="999.0" y1="876.8" x2="999.0" y2="879.6" stroke="#c8c8c8" stroke-width="0.8"/>
<text x="999.0" y="884.1" font-size="3.5" text-anchor="middle" fill="#d0d0d0">60</text>
<text x="1006.0" y="880.8" font-size="3.5" fill="#d0d0d0">um</text>
<text x="1058.7" y="821.5" font-size="11" font-weight="bold" fill="#fff">GPX4</text>
<line x1="1056.2" y1="876.8" x2="1106.9" y2="876.8" stroke="#c8c8c8" stroke-width="0.8"/>
<line x1="1056.2" y1="876.8" x2="1056.2" y2="879.6" stroke="#c8c8c8" stroke-width="0.8"/>
<text x="1056.2" y="884.1" font-size="3.5" text-anchor="middle" fill="#d0d0d0">0</text>
<line x1="1073.1" y1="876.8" x2="1073.1" y2="879.6" stroke="#c8c8c8" stroke-width="0.8"/>
<text x="1073.1" y="884.1" font-size="3.5" text-anchor="middle" fill="#d0d0d0">20</text>
<line x1="1090.0" y1="876.8" x2="1090.0" y2="879.6" stroke="#c8c8c8" stroke-width="0.8"/>
<text x="1090.0" y="884.1" font-size="3.5" text-anchor="middle" fill="#d0d0d0">40</text>
<line x1="1106.9" y1="876.8" x2="1106.9" y2="879.6" stroke="#c8c8c8" stroke-width="0.8"/>
<text x="1106.9" y="884.1" font-size="3.5" text-anchor="middle" fill="#d0d0d0">60</text>
<text x="1113.9" y="880.8" font-size="3.5" fill="#d0d0d0">um</text>
<text x="730.5" y="914.1" font-size="11" font-weight="bold" fill="#fff">Merge</text>
<line x1="732.1" y1="968.3" x2="782.8" y2="968.3" stroke="#c8c8c8" stroke-width="0.8"/>
<line x1="732.1" y1="968.3" x2="732.1" y2="971.1" stroke="#c8c8c8" stroke-width="0.8"/>
<text x="732.1" y="975.6" font-size="3.5" text-anchor="middle" fill="#d0d0d0">0</text>
<line x1="749.0" y1="968.3" x2="749.0" y2="971.1" stroke="#c8c8c8" stroke-width="0.8"/>
<text x="749.0" y="975.6" font-size="3.5" text-anchor="middle" fill="#d0d0d0">20</text>
<line x1="765.9" y1="968.3" x2="765.9" y2="971.1" stroke="#c8c8c8" stroke-width="0.8"/>
<text x="765.9" y="975.6" font-size="3.5" text-anchor="middle" fill="#d0d0d0">40</text>
<line x1="782.8" y1="968.3" x2="782.8" y2="971.1" stroke="#c8c8c8" stroke-width="0.8"/>
<text x="782.8" y="975.6" font-size="3.5" text-anchor="middle" fill="#d0d0d0">60</text>
<text x="789.8" y="972.3" font-size="3.5" fill="#d0d0d0">um</text>
<text x="842.3" y="914.1" font-size="11" font-weight="bold" fill="#fff">NG2</text>
<line x1="841.5" y1="968.3" x2="892.2" y2="968.3" stroke="#c8c8c8" stroke-width="0.8"/>
<line x1="841.5" y1="968.3" x2="841.5" y2="971.1" stroke="#c8c8c8" stroke-width="0.8"/>
<text x="841.5" y="975.6" font-size="3.5" text-anchor="middle" fill="#d0d0d0">0</text>
<line x1="858.4" y1="968.3" x2="858.4" y2="971.1" stroke="#c8c8c8" stroke-width="0.8"/>
<text x="858.4" y="975.6" font-size="3.5" text-anchor="middle" fill="#d0d0d0">20</text>
<line x1="875.3" y1="968.3" x2="875.3" y2="971.1" stroke="#c8c8c8" stroke-width="0.8"/>
<text x="875.3" y="975.6" font-size="3.5" text-anchor="middle" fill="#d0d0d0">40</text>
<line x1="892.2" y1="968.3" x2="892.2" y2="971.1" stroke="#c8c8c8" stroke-width="0.8"/>
<text x="892.2" y="975.6" font-size="3.5" text-anchor="middle" fill="#d0d0d0">60</text>
<text x="899.2" y="972.3" font-size="3.5" fill="#d0d0d0">um</text>
<text x="951.4" y="914.1" font-size="11" font-weight="bold" fill="#fff">CBX3</text>
<line x1="948.3" y1="968.3" x2="999.0" y2="968.3" stroke="#c8c8c8" stroke-width="0.8"/>
<line x1="948.3" y1="968.3" x2="948.3" y2="971.1" stroke="#c8c8c8" stroke-width="0.8"/>
<text x="948.3" y="975.6" font-size="3.5" text-anchor="middle" fill="#d0d0d0">0</text>
<line x1="965.2" y1="968.3" x2="965.2" y2="971.1" stroke="#c8c8c8" stroke-width="0.8"/>
<text x="965.2" y="975.6" font-size="3.5" text-anchor="middle" fill="#d0d0d0">20</text>
<line x1="982.1" y1="968.3" x2="982.1" y2="971.1" stroke="#c8c8c8" stroke-width="0.8"/>
<text x="982.1" y="975.6" font-size="3.5" text-anchor="middle" fill="#d0d0d0">40</text>
<line x1="999.0" y1="968.3" x2="999.0" y2="971.1" stroke="#c8c8c8" stroke-width="0.8"/>
<text x="999.0" y="975.6" font-size="3.5" text-anchor="middle" fill="#d0d0d0">60</text>
<text x="1006.0" y="972.3" font-size="3.5" fill="#d0d0d0">um</text>
<text x="1057.8" y="914.1" font-size="11" font-weight="bold" fill="#fff">GPX4</text>
<line x1="1056.2" y1="968.3" x2="1106.9" y2="968.3" stroke="#c8c8c8" stroke-width="0.8"/>
<line x1="1056.2" y1="968.3" x2="1056.2" y2="971.1" stroke="#c8c8c8" stroke-width="0.8"/>
<text x="1056.2" y="975.6" font-size="3.5" text-anchor="middle" fill="#d0d0d0">0</text>
<line x1="1073.1" y1="968.3" x2="1073.1" y2="971.1" stroke="#c8c8c8" stroke-width="0.8"/>
<text x="1073.1" y="975.6" font-size="3.5" text-anchor="middle" fill="#d0d0d0">20</text>
<line x1="1090.0" y1="968.3" x2="1090.0" y2="971.1" stroke="#c8c8c8" stroke-width="0.8"/>
<text x="1090.0" y="975.6" font-size="3.5" text-anchor="middle" fill="#d0d0d0">40</text>
<line x1="1106.9" y1="968.3" x2="1106.9" y2="971.1" stroke="#c8c8c8" stroke-width="0.8"/>
<text x="1106.9" y="975.6" font-size="3.5" text-anchor="middle" fill="#d0d0d0">60</text>
<text x="1113.9" y="972.3" font-size="3.5" fill="#d0d0d0">um</text>
<defs><filter id="hb15" x="-20%" y="-20%" width="140%" height="140%"><feGaussianBlur stdDeviation="1.5"/></filter><filter id="hb30" x="-20%" y="-20%" width="140%" height="140%"><feGaussianBlur stdDeviation="3"/></filter><filter id="hb6" x="-20%" y="-20%" width="140%" height="140%"><feGaussianBlur stdDeviation="0.6"/></filter><clipPath id="cl1"><rect x="244.6" y="1009.6" width="114.9" height="90"/></clipPath><clipPath id="cl2"><rect x="234.4" y="1104.3" width="127.2" height="97.8"/></clipPath><clipPath id="cl3"><rect x="249.9" y="1218.8" width="110" height="86.2"/></clipPath><clipPath id="cl4"><rect x="233.7" y="1309.7" width="126.2" height="97.9"/></clipPath><clipPath id="cl6"><rect x="168.4" y="1104.3" width="62.3" height="48.5"/></clipPath><clipPath id="cl5"><rect x="102" y="1154.3" width="62.8" height="47.8"/></clipPath></defs>
<text x="36.5" y="1013.5" font-size="25" font-weight="bold" fill="#231815">H</text>
<text x="102.5" y="1005.4" font-size="12" font-weight="bold" fill="#000">Lung CBX3-OE</text>
<rect x="102.3" y="1008.4" width="137.1" height="92.6" fill="#f4f3f4"/>
<clipPath id="lungclip"><path d="M113.1,1068.4 L117.1,1064.4 L126.3,1061.0 L134.3,1058.7 L138.8,1053.0 L142.3,1043.8 L146.8,1031.3 L151.4,1026.7 L162.8,1022.7 L174.3,1022.1 L186.8,1025.0 L197.1,1025.6 L208.5,1023.3 L220.0,1019.9 L231.4,1015.9 L220.0,1024.4 L213.1,1031.3 L214.3,1042.7 L218.8,1054.1 L221.1,1067.8 L225.7,1082.7 L229.1,1094.1 L202.8,1095.3 L180.0,1093.0 L152.6,1090.7 L127.4,1089.6 L118.3,1085.0 L113.1,1075.8 Z"/></clipPath>
<path d="M113.1,1068.4 L117.1,1064.4 L126.3,1061.0 L134.3,1058.7 L138.8,1053.0 L142.3,1043.8 L146.8,1031.3 L151.4,1026.7 L162.8,1022.7 L174.3,1022.1 L186.8,1025.0 L197.1,1025.6 L208.5,1023.3 L220.0,1019.9 L231.4,1015.9 L220.0,1024.4 L213.1,1031.3 L214.3,1042.7 L218.8,1054.1 L221.1,1067.8 L225.7,1082.7 L229.1,1094.1 L202.8,1095.3 L180.0,1093.0 L152.6,1090.7 L127.4,1089.6 L118.3,1085.0 L113.1,1075.8 Z" fill="#eec6e6"/>
<g clip-path="url(#lungclip)">
<ellipse cx="140.0" cy="1079.0" rx="14.0" ry="10.0" fill="#d68cc8" filter="url(#hb15)"/>
<ellipse cx="118.0" cy="1078.0" rx="6.0" ry="7.0" fill="#d890c8" filter="url(#hb15)"/>
<ellipse cx="180.0" cy="1066.0" rx="14.0" ry="10.0" fill="#e2a6d8" filter="url(#hb30)"/>
<ellipse cx="188.0" cy="1086.0" rx="8.0" ry="5.0" fill="#dc9cd0" filter="url(#hb15)"/>
<ellipse cx="165.0" cy="1040.0" rx="14.0" ry="10.0" fill="#e4aad8" filter="url(#hb30)"/>
<filter id="sp46" x="0" y="0" width="1" height="1" color-interpolation-filters="sRGB"><feTurbulence type="fractalNoise" baseFrequency="1.7" numOctaves="1" seed="77" result="t"/><feColorMatrix in="t" type="matrix" values="0 0 0 0 0.984 0 0 0 0 0.941 0 0 0 0 0.973 10 0 0 0 -6.04" result="c"/><feComposite in="c" in2="SourceGraphic" operator="in"/></filter>
<rect x="110.0" y="1015.0" width="122.0" height="82.0" fill="#fff" opacity="1.0" filter="url(#sp46)"/>
<filter id="sp47" x="0" y="0" width="1" height="1" color-interpolation-filters="sRGB"><feTurbulence type="fractalNoise" baseFrequency="1.7" numOctaves="1" seed="78" result="t"/><feColorMatrix in="t" type="matrix" values="0 0 0 0 0.992 0 0 0 0 0.965 0 0 0 0 0.984 10 0 0 0 -6.04" result="c"/><feComposite in="c" in2="SourceGraphic" operator="in"/></filter>
<rect x="110.0" y="1015.0" width="122.0" height="82.0" fill="#fff" opacity="1.0" filter="url(#sp47)"/>
<filter id="sp48" x="0" y="0" width="1" height="1" color-interpolation-filters="sRGB"><feTurbulence type="fractalNoise" baseFrequency="1.7" numOctaves="1" seed="84" result="t"/><feColorMatrix in="t" type="matrix" values="0 0 0 0 0.816 0 0 0 0 0.486 0 0 0 0 0.753 10 0 0 0 -6.29" result="c"/><feComposite in="c" in2="SourceGraphic" operator="in"/></filter>
<rect x="110.0" y="1015.0" width="122.0" height="82.0" fill="#fff" opacity="1.0" filter="url(#sp48)"/>
<path d="M170,1037 L183,1040 L178,1046 L176,1056 L173,1046 Z" fill="#fbf4f9" filter="url(#hb6)"/>
<path d="M168,1050 L172,1062 L170,1065 Z" fill="#f08090" opacity="0.6"/>
<path d="M192,1077 L200,1085 L198,1086 Z" fill="#f08090" opacity="0.6"/>
</g>
<line x1="104.0" y1="1099.0" x2="122.0" y2="1099.0" stroke="#555" stroke-width="0.8"/>
<rect x="244.6" y="1009.6" width="114.9" height="90.0" fill="#dc96cf"/>
<g clip-path="url(#cl1)">
<ellipse cx="320.0" cy="1050.0" rx="42.0" ry="38.0" fill="#d484c8" filter="url(#hb30)"/>
<path d="M244.6,1009.6 L300,1009.6 L290,1020 L270,1030 L262,1045 L250,1040 L244.6,1045 Z" fill="#eec8e6" filter="url(#hb15)"/>
<path d="M275,1100 L290,1092 L320,1095 L345,1085 L359.5,1080 L359.5,1100 Z" fill="#eecde8" filter="url(#hb15)"/>
<path d="M320,1009.6 L359.5,1009.6 L359.5,1020 L340,1018 Z" fill="#f2d6ec" filter="url(#hb15)"/>
<filter id="sp49" x="0" y="0" width="1" height="1" color-interpolation-filters="sRGB"><feTurbulence type="fractalNoise" baseFrequency="1.7" numOctaves="1" seed="84" result="t"/><feColorMatrix in="t" type="matrix" values="0 0 0 0 0.784 0 0 0 0 0.471 0 0 0 0 0.737 10 0 0 0 -6.52" result="c"/><feComposite in="c" in2="SourceGraphic" operator="in"/></filter>
<rect x="244.6" y="1009.6" width="115.0" height="90.0" fill="#fff" opacity="1.0" filter="url(#sp49)"/>
<filter id="sp50" x="0" y="0" width="1" height="1" color-interpolation-filters="sRGB"><feTurbulence type="fractalNoise" baseFrequency="1.7" numOctaves="1" seed="85" result="t"/><feColorMatrix in="t" type="matrix" values="0 0 0 0 0.910 0 0 0 0 0.706 0 0 0 0 0.863 10 0 0 0 -6.52" result="c"/><feComposite in="c" in2="SourceGraphic" operator="in"/></filter>
<rect x="244.6" y="1009.6" width="115.0" height="90.0" fill="#fff" opacity="1.0" filter="url(#sp50)"/>
<filter id="sp51" x="0" y="0" width="1" height="1" color-interpolation-filters="sRGB"><feTurbulence type="fractalNoise" baseFrequency="1.7" numOctaves="1" seed="86" result="t"/><feColorMatrix in="t" type="matrix" values="0 0 0 0 0.831 0 0 0 0 0.541 0 0 0 0 0.784 10 0 0 0 -6.52" result="c"/><feComposite in="c" in2="SourceGraphic" operator="in"/></filter>
<rect x="244.6" y="1009.6" width="115.0" height="90.0" fill="#fff" opacity="1.0" filter="url(#sp51)"/>
<filter id="sp52" x="0" y="0" width="1" height="1" color-interpolation-filters="sRGB"><feTurbulence type="fractalNoise" baseFrequency="1.7" numOctaves="1" seed="87" result="t"/><feColorMatrix in="t" type="matrix" values="0 0 0 0 0.941 0 0 0 0 0.784 0 0 0 0 0.910 10 0 0 0 -6.52" result="c"/><feComposite in="c" in2="SourceGraphic" operator="in"/></filter>
<rect x="244.6" y="1009.6" width="115.0" height="90.0" fill="#fff" opacity="1.0" filter="url(#sp52)"/>
</g>
<rect x="127.4" y="1066.7" width="24.6" height="24.0" fill="none" stroke="#000" stroke-width="1.7"/>
<line x1="152.0" y1="1066.7" x2="244.6" y2="1009.6" stroke="#000" stroke-width="1.7"/>
<line x1="152.0" y1="1090.7" x2="244.6" y2="1099.6" stroke="#000" stroke-width="1.7"/>
<rect x="102.0" y="1104.3" width="62.8" height="48.5" fill="#0e0c3c"/>
<filter id="sp53" x="0" y="0" width="1" height="1" color-interpolation-filters="sRGB"><feTurbulence type="fractalNoise" baseFrequency="1.7" numOctaves="1" seed="91" result="t"/><feColorMatrix in="t" type="matrix" values="0 0 0 0 0.102 0 0 0 0 0.094 0 0 0 0 0.376 10 0 0 0 -6.47" result="c"/><feComposite in="c" in2="SourceGraphic" operator="in"/></filter>
<rect x="102.0" y="1104.3" width="62.8" height="48.5" fill="#fff" opacity="1.0" filter="url(#sp53)"/>
<filter id="sp54" x="0" y="0" width="1" height="1" color-interpolation-filters="sRGB"><feTurbulence type="fractalNoise" baseFrequency="1.7" numOctaves="1" seed="92" result="t"/><feColorMatrix in="t" type="matrix" values="0 0 0 0 0.078 0 0 0 0 0.071 0 0 0 0 0.290 10 0 0 0 -6.47" result="c"/><feComposite in="c" in2="SourceGraphic" operator="in"/></filter>
<rect x="102.0" y="1104.3" width="62.8" height="48.5" fill="#fff" opacity="1.0" filter="url(#sp54)"/>
<filter id="sp55" x="0" y="0" width="1" height="1" color-interpolation-filters="sRGB"><feTurbulence type="fractalNoise" baseFrequency="1.7" numOctaves="1" seed="93" result="t"/><feColorMatrix in="t" type="matrix" values="0 0 0 0 0.125 0 0 0 0 0.110 0 0 0 0 0.439 10 0 0 0 -6.47" result="c"/><feComposite in="c" in2="SourceGraphic" operator="in"/></filter>
<rect x="102.0" y="1104.3" width="62.8" height="48.5" fill="#fff" opacity="1.0" filter="url(#sp55)"/>
<rect x="168.4" y="1104.3" width="62.3" height="48.5" fill="#3a1e22"/>
<g clip-path="url(#cl6)">
<ellipse cx="210.0" cy="1125.0" rx="22.0" ry="18.0" fill="#5a2c24" filter="url(#hb30)"/>
<ellipse cx="180.0" cy="1140.0" rx="10.0" ry="10.0" fill="#4a2622" filter="url(#hb30)"/>
</g>
<filter id="sp56" x="0" y="0" width="1" height="1" color-interpolation-filters="sRGB"><feTurbulence type="fractalNoise" baseFrequency="1.7" numOctaves="1" seed="98" result="t"/><feColorMatrix in="t" type="matrix" values="0 0 0 0 0.541 0 0 0 0 0.267 0 0 0 0 0.188 10 0 0 0 -6.21" result="c"/><feComposite in="c" in2="SourceGraphic" operator="in"/></filter>
<rect x="168.4" y="1104.3" width="62.3" height="48.5" fill="#fff" opacity="1.0" filter="url(#sp56)"/>
<filter id="sp57" x="0" y="0" width="1" height="1" color-interpolation-filters="sRGB"><feTurbulence type="fractalNoise" baseFrequency="1.7" numOctaves="1" seed="99" result="t"/><feColorMatrix in="t" type="matrix" values="0 0 0 0 0.416 0 0 0 0 0.204 0 0 0 0 0.157 10 0 0 0 -6.21" result="c"/><feComposite in="c" in2="SourceGraphic" operator="in"/></filter>
<rect x="168.4" y="1104.3" width="62.3" height="48.5" fill="#fff" opacity="1.0" filter="url(#sp57)"/>
<filter id="sp58" x="0" y="0" width="1" height="1" color-interpolation-filters="sRGB"><feTurbulence type="fractalNoise" baseFrequency="1.7" numOctaves="1" seed="100" result="t"/><feColorMatrix in="t" type="matrix" values="0 0 0 0 0.627 0 0 0 0 0.345 0 0 0 0 0.220 10 0 0 0 -6.21" result="c"/><feComposite in="c" in2="SourceGraphic" operator="in"/></filter>
<rect x="168.4" y="1104.3" width="62.3" height="48.5" fill="#fff" opacity="1.0" filter="url(#sp58)"/>
<filter id="sp59" x="0" y="0" width="1" height="1" color-interpolation-filters="sRGB"><feTurbulence type="fractalNoise" baseFrequency="1.7" numOctaves="1" seed="101" result="t"/><feColorMatrix in="t" type="matrix" values="0 0 0 0 0.125 0 0 0 0 0.063 0 0 0 0 0.251 10 0 0 0 -6.21" result="c"/><feComposite in="c" in2="SourceGraphic" operator="in"/></filter>
<rect x="168.4" y="1104.3" width="62.3" height="48.5" fill="#fff" opacity="1.0" filter="url(#sp59)"/>
<rect x="102.0" y="1154.3" width="62.8" height="47.8" fill="#0c3a14"/>
<g clip-path="url(#cl5)">
<ellipse cx="112.0" cy="1190.0" rx="14.0" ry="14.0" fill="#30c030" filter="url(#hb30)"/>
<ellipse cx="150.0" cy="1175.0" rx="16.0" ry="14.0" fill="#28a828" filter="url(#hb30)"/>
<ellipse cx="130.0" cy="1165.0" rx="10.0" ry="8.0" fill="#106018" filter="url(#hb30)"/>
</g>
<filter id="sp60" x="0" y="0" width="1" height="1" color-interpolation-filters="sRGB"><feTurbulence type="fractalNoise" baseFrequency="1.7" numOctaves="1" seed="105" result="t"/><feColorMatrix in="t" type="matrix" values="0 0 0 0 0.188 0 0 0 0 0.753 0 0 0 0 0.188 10 0 0 0 -6.38" result="c"/><feComposite in="c" in2="SourceGraphic" operator="in"/></filter>
<rect x="102.0" y="1154.3" width="62.8" height="47.8" fill="#fff" opacity="1.0" filter="url(#sp60)"/>
<filter id="sp61" x="0" y="0" width="1" height="1" color-interpolation-filters="sRGB"><feTurbulence type="fractalNoise" baseFrequency="1.7" numOctaves="1" seed="106" result="t"/><feColorMatrix in="t" type="matrix" values="0 0 0 0 0.102 0 0 0 0 0.478 0 0 0 0 0.125 10 0 0 0 -6.38" result="c"/><feComposite in="c" in2="SourceGraphic" operator="in"/></filter>
<rect x="102.0" y="1154.3" width="62.8" height="47.8" fill="#fff" opacity="1.0" filter="url(#sp61)"/>
<filter id="sp62" x="0" y="0" width="1" height="1" color-interpolation-filters="sRGB"><feTurbulence type="fractalNoise" baseFrequency="1.7" numOctaves="1" seed="107" result="t"/><feColorMatrix in="t" type="matrix" values="0 0 0 0 0.251 0 0 0 0 0.878 0 0 0 0 0.251 10 0 0 0 -6.38" result="c"/><feComposite in="c" in2="SourceGraphic" operator="in"/></filter>
<rect x="102.0" y="1154.3" width="62.8" height="47.8" fill="#fff" opacity="1.0" filter="url(#sp62)"/>
<filter id="sp63" x="0" y="0" width="1" height="1" color-interpolation-filters="sRGB"><feTurbulence type="fractalNoise" baseFrequency="1.7" numOctaves="1" seed="108" result="t"/><feColorMatrix in="t" type="matrix" values="0 0 0 0 0.063 0 0 0 0 0.251 0 0 0 0 0.063 10 0 0 0 -6.38" result="c"/><feComposite in="c" in2="SourceGraphic" operator="in"/></filter>
<rect x="102.0" y="1154.3" width="62.8" height="47.8" fill="#fff" opacity="1.0" filter="url(#sp63)"/>
<rect x="168.4" y="1154.3" width="62.3" height="47.8" fill="#3a3a18"/>
<filter id="sp64" x="0" y="0" width="1" height="1" color-interpolation-filters="sRGB"><feTurbulence type="fractalNoise" baseFrequency="1.7" numOctaves="1" seed="112" result="t"/><feColorMatrix in="t" type="matrix" values="0 0 0 0 0.353 0 0 0 0 0.353 0 0 0 0 0.125 10 0 0 0 -6.37" result="c"/><feComposite in="c" in2="SourceGraphic" operator="in"/></filter>
<rect x="168.4" y="1154.3" width="62.3" height="47.8" fill="#fff" opacity="1.0" filter="url(#sp64)"/>
<filter id="sp65" x="0" y="0" width="1" height="1" color-interpolation-filters="sRGB"><feTurbulence type="fractalNoise" baseFrequency="1.7" numOctaves="1" seed="113" result="t"/><feColorMatrix in="t" type="matrix" values="0 0 0 0 0.416 0 0 0 0 0.416 0 0 0 0 0.157 10 0 0 0 -6.37" result="c"/><feComposite in="c" in2="SourceGraphic" operator="in"/></filter>
<rect x="168.4" y="1154.3" width="62.3" height="47.8" fill="#fff" opacity="1.0" filter="url(#sp65)"/>
<filter id="sp66" x="0" y="0" width="1" height="1" color-interpolation-filters="sRGB"><feTurbulence type="fractalNoise" baseFrequency="1.7" numOctaves="1" seed="114" result="t"/><feColorMatrix in="t" type="matrix" values="0 0 0 0 0.165 0 0 0 0 0.165 0 0 0 0 0.125 10 0 0 0 -6.37" result="c"/><feComposite in="c" in2="SourceGraphic" operator="in"/></filter>
<rect x="168.4" y="1154.3" width="62.3" height="47.8" fill="#fff" opacity="1.0" filter="url(#sp66)"/>
<filter id="sp67" x="0" y="0" width="1" height="1" color-interpolation-filters="sRGB"><feTurbulence type="fractalNoise" baseFrequency="1.7" numOctaves="1" seed="115" result="t"/><feColorMatrix in="t" type="matrix" values="0 0 0 0 0.478 0 0 0 0 0.478 0 0 0 0 0.188 10 0 0 0 -6.37" result="c"/><feComposite in="c" in2="SourceGraphic" operator="in"/></filter>
<rect x="168.4" y="1154.3" width="62.3" height="47.8" fill="#fff" opacity="1.0" filter="url(#sp67)"/>
<rect x="234.4" y="1104.3" width="127.2" height="97.8" fill="#6a9a18"/>
<g clip-path="url(#cl2)">
<ellipse cx="255.0" cy="1180.0" rx="25.0" ry="25.0" fill="#b0e020" filter="url(#hb30)"/>
<ellipse cx="330.0" cy="1150.0" rx="30.0" ry="28.0" fill="#90d020" filter="url(#hb30)"/>
<ellipse cx="290.0" cy="1160.0" rx="18.0" ry="25.0" fill="#a0c820" filter="url(#hb30)"/>
<path d="M262,1115 L290,1110 L320,1105 L330,1106 L320,1115 L300,1118 L275,1122 Z" fill="#000" filter="url(#hb15)"/>
<path d="M285,1202 L300,1185 L330,1180 L361.6,1185 L361.6,1202 Z" fill="#0a0a0a" filter="url(#hb30)"/>
<path d="M234.4,1104.3 L361.6,1104.3 L361.6,1108 L234.4,1108 Z" fill="#101010" filter="url(#hb15)"/>
</g>
<filter id="sp68" x="0" y="0" width="1" height="1" color-interpolation-filters="sRGB"><feTurbulence type="fractalNoise" baseFrequency="1.7" numOctaves="1" seed="119" result="t"/><feColorMatrix in="t" type="matrix" values="0 0 0 0 0.659 0 0 0 0 0.847 0 0 0 0 0.125 10 0 0 0 -6.48" result="c"/><feComposite in="c" in2="SourceGraphic" operator="in"/></filter>
<rect x="234.4" y="1104.3" width="127.2" height="97.8" fill="#fff" opacity="1.0" filter="url(#sp68)"/>
<filter id="sp69" x="0" y="0" width="1" height="1" color-interpolation-filters="sRGB"><feTurbulence type="fractalNoise" baseFrequency="1.7" numOctaves="1" seed="120" result="t"/><feColorMatrix in="t" type="matrix" values="0 0 0 0 0.353 0 0 0 0 0.541 0 0 0 0 0.063 10 0 0 0 -6.48" result="c"/><feComposite in="c" in2="SourceGraphic" operator="in"/></filter>
<rect x="234.4" y="1104.3" width="127.2" height="97.8" fill="#fff" opacity="1.0" filter="url(#sp69)"/>
<filter id="sp70" x="0" y="0" width="1" height="1" color-interpolation-filters="sRGB"><feTurbulence type="fractalNoise" baseFrequency="1.7" numOctaves="1" seed="121" result="t"/><feColorMatrix in="t" type="matrix" values="0 0 0 0 0.784 0 0 0 0 0.910 0 0 0 0 0.188 10 0 0 0 -6.48" result="c"/><feComposite in="c" in2="SourceGraphic" operator="in"/></filter>
<rect x="234.4" y="1104.3" width="127.2" height="97.8" fill="#fff" opacity="1.0" filter="url(#sp70)"/>
<filter id="sp71" x="0" y="0" width="1" height="1" color-interpolation-filters="sRGB"><feTurbulence type="fractalNoise" baseFrequency="1.7" numOctaves="1" seed="122" result="t"/><feColorMatrix in="t" type="matrix" values="0 0 0 0 0.125 0 0 0 0 0.157 0 0 0 0 0.063 10 0 0 0 -6.48" result="c"/><feComposite in="c" in2="SourceGraphic" operator="in"/></filter>
<rect x="234.4" y="1104.3" width="127.2" height="97.8" fill="#fff" opacity="1.0" filter="url(#sp71)"/>
<filter id="sp72" x="0" y="0" width="1" height="1" color-interpolation-filters="sRGB"><feTurbulence type="fractalNoise" baseFrequency="1.7" numOctaves="1" seed="123" result="t"/><feColorMatrix in="t" type="matrix" values="0 0 0 0 0.502 0 0 0 0 0.753 0 0 0 0 0.125 10 0 0 0 -6.48" result="c"/><feComposite in="c" in2="SourceGraphic" operator="in"/></filter>
<rect x="234.4" y="1104.3" width="127.2" height="97.8" fill="#fff" opacity="1.0" filter="url(#sp72)"/>
<text x="104.6" y="1114.0" font-size="8" fill="#fff">DAPI</text>
<text x="170.5" y="1114.0" font-size="8" fill="#fff">CBX3</text>
<text x="104.6" y="1164.5" font-size="8" fill="#fff">NG2</text>
<text x="170.5" y="1164.5" font-size="8" fill="#fff">GPX4</text>
<text x="238.6" y="1117.0" font-size="10.5" font-weight="bold" fill="#fff">Merge</text>
<text x="106.7" y="1216.7" font-size="12" font-weight="bold" fill="#000">Brain CBX3-OE</text>
<rect x="102.0" y="1218.8" width="146.2" height="86.2" fill="#f5f3f5"/>
<path d="M112,1250 C112,1236 120,1230 133,1228 C148,1226 160,1226 172,1228 L172,1238 L174,1238 L174,1227 C190,1225 210,1226 225,1229 C238,1232 244,1245 243,1262 C242,1278 236,1287 228,1290 C220,1292 212,1290 205,1290 C195,1295 185,1297 172,1297 C160,1297 148,1295 140,1290 C128,1292 120,1289 116,1280 C112,1270 111,1260 112,1250 Z" fill="#ee9cd8"/>
<path d="M128,1258 C130,1245 150,1240 172,1240 C195,1240 212,1246 218,1258 C222,1272 212,1282 196,1286 C180,1290 160,1290 145,1285 C132,1280 126,1270 128,1258 Z" fill="#ea94d4" stroke="#f6c8ea" stroke-width="0.8"/>
<path d="M225,1240 C232,1248 234,1262 228,1276 L222,1282 C226,1270 227,1256 221,1244 Z" fill="#f8f0f6"/>
<path d="M133,1266 L137,1271 L140,1275 L136,1272 Z" fill="#fff" stroke="#fff" stroke-width="1"/>
<path d="M170,1240 C172,1244 176,1248 172,1252 C168,1249 168,1244 170,1240 Z" fill="#f6e0f0"/>
<rect x="163.1" y="1240.1" width="18.1" height="17.0" fill="none" stroke="#000" stroke-width="1.6"/>
<line x1="181.2" y1="1240.1" x2="249.9" y2="1218.8" stroke="#000" stroke-width="1.6"/>
<line x1="181.2" y1="1257.1" x2="249.9" y2="1305.0" stroke="#000" stroke-width="1.6"/>
<rect x="249.9" y="1218.8" width="110.0" height="86.2" fill="#f0a8d8"/>
<g clip-path="url(#cl3)">
<path d="M265,1225 L290,1222 L320,1228 L335,1220 L359.9,1222 L359.9,1228 L345,1235 L330,1248 L318,1260 L312,1268 L305,1262 L296,1250 L282,1243 L270,1238 Z" fill="#f8eef6" filter="url(#hb15)"/>
<path d="M249.9,1218.8 L359.9,1218.8 L359.9,1222 L249.9,1226 Z" fill="#f6d8ee"/>
<filter id="sp73" x="0" y="0" width="1" height="1" color-interpolation-filters="sRGB"><feTurbulence type="fractalNoise" baseFrequency="1.7" numOctaves="1" seed="126" result="t"/><feColorMatrix in="t" type="matrix" values="0 0 0 0 0.910 0 0 0 0 0.565 0 0 0 0 0.800 10 0 0 0 -6.81" result="c"/><feComposite in="c" in2="SourceGraphic" operator="in"/></filter>
<rect x="249.9" y="1218.8" width="110.0" height="86.2" fill="#fff" opacity="1.0" filter="url(#sp73)"/>
<filter id="sp74" x="0" y="0" width="1" height="1" color-interpolation-filters="sRGB"><feTurbulence type="fractalNoise" baseFrequency="1.7" numOctaves="1" seed="127" result="t"/><feColorMatrix in="t" type="matrix" values="0 0 0 0 0.965 0 0 0 0 0.737 0 0 0 0 0.878 10 0 0 0 -6.81" result="c"/><feComposite in="c" in2="SourceGraphic" operator="in"/></filter>
<rect x="249.9" y="1218.8" width="110.0" height="86.2" fill="#fff" opacity="1.0" filter="url(#sp74)"/>
<filter id="sp75" x="0" y="0" width="1" height="1" color-interpolation-filters="sRGB"><feTurbulence type="fractalNoise" baseFrequency="1.7" numOctaves="1" seed="128" result="t"/><feColorMatrix in="t" type="matrix" values="0 0 0 0 0.863 0 0 0 0 0.502 0 0 0 0 0.753 10 0 0 0 -6.81" result="c"/><feComposite in="c" in2="SourceGraphic" operator="in"/></filter>
<rect x="249.9" y="1218.8" width="110.0" height="86.2" fill="#fff" opacity="1.0" filter="url(#sp75)"/>
<filter id="sp76" x="0" y="0" width="1" height="1" color-interpolation-filters="sRGB"><feTurbulence type="fractalNoise" baseFrequency="1.7" numOctaves="1" seed="129" result="t"/><feColorMatrix in="t" type="matrix" values="0 0 0 0 0.973 0 0 0 0 0.816 0 0 0 0 0.918 10 0 0 0 -6.81" result="c"/><feComposite in="c" in2="SourceGraphic" operator="in"/></filter>
<rect x="249.9" y="1218.8" width="110.0" height="86.2" fill="#fff" opacity="1.0" filter="url(#sp76)"/>
<path d="M302,1285 L318,1283 L312,1300 Z" fill="#f8e4f2" stroke="#e0a0d0" stroke-width="0.8"/>
</g>
<rect x="102.0" y="1309.7" width="62.8" height="48.9" fill="#0a0a2c"/>
<filter id="sp77" x="0" y="0" width="1" height="1" color-interpolation-filters="sRGB"><feTurbulence type="fractalNoise" baseFrequency="1.7" numOctaves="1" seed="133" result="t"/><feColorMatrix in="t" type="matrix" values="0 0 0 0 0.102 0 0 0 0 0.102 0 0 0 0 0.353 10 0 0 0 -6.68" result="c"/><feComposite in="c" in2="SourceGraphic" operator="in"/></filter>
<rect x="102.0" y="1309.7" width="62.8" height="48.9" fill="#fff" opacity="1.0" filter="url(#sp77)"/>
<filter id="sp78" x="0" y="0" width="1" height="1" color-interpolation-filters="sRGB"><feTurbulence type="fractalNoise" baseFrequency="1.7" numOctaves="1" seed="134" result="t"/><feColorMatrix in="t" type="matrix" values="0 0 0 0 0.078 0 0 0 0 0.078 0 0 0 0 0.353 10 0 0 0 -6.68" result="c"/><feComposite in="c" in2="SourceGraphic" operator="in"/></filter>
<rect x="102.0" y="1309.7" width="62.8" height="48.9" fill="#fff" opacity="1.0" filter="url(#sp78)"/>
<filter id="sp79" x="0" y="0" width="1" height="1" color-interpolation-filters="sRGB"><feTurbulence type="fractalNoise" baseFrequency="1.7" numOctaves="1" seed="135" result="t"/><feColorMatrix in="t" type="matrix" values="0 0 0 0 0.125 0 0 0 0 0.125 0 0 0 0 0.478 10 0 0 0 -6.68" result="c"/><feComposite in="c" in2="SourceGraphic" operator="in"/></filter>
<rect x="102.0" y="1309.7" width="62.8" height="48.9" fill="#fff" opacity="1.0" filter="url(#sp79)"/>
<rect x="167.3" y="1309.7" width="63.4" height="48.9" fill="#0c0a24"/>
<filter id="sp80" x="0" y="0" width="1" height="1" color-interpolation-filters="sRGB"><feTurbulence type="fractalNoise" baseFrequency="1.7" numOctaves="1" seed="140" result="t"/><feColorMatrix in="t" type="matrix" values="0 0 0 0 0.753 0 0 0 0 0.314 0 0 0 0 0.251 10 0 0 0 -6.69" result="c"/><feComposite in="c" in2="SourceGraphic" operator="in"/></filter>
<rect x="167.3" y="1309.7" width="63.4" height="48.9" fill="#fff" opacity="1.0" filter="url(#sp80)"/>
<filter id="sp81" x="0" y="0" width="1" height="1" color-interpolation-filters="sRGB"><feTurbulence type="fractalNoise" baseFrequency="1.7" numOctaves="1" seed="141" result="t"/><feColorMatrix in="t" type="matrix" values="0 0 0 0 0.627 0 0 0 0 0.251 0 0 0 0 0.188 10 0 0 0 -6.69" result="c"/><feComposite in="c" in2="SourceGraphic" operator="in"/></filter>
<rect x="167.3" y="1309.7" width="63.4" height="48.9" fill="#fff" opacity="1.0" filter="url(#sp81)"/>
<filter id="sp82" x="0" y="0" width="1" height="1" color-interpolation-filters="sRGB"><feTurbulence type="fractalNoise" baseFrequency="1.7" numOctaves="1" seed="142" result="t"/><feColorMatrix in="t" type="matrix" values="0 0 0 0 0.878 0 0 0 0 0.376 0 0 0 0 0.251 10 0 0 0 -6.69" result="c"/><feComposite in="c" in2="SourceGraphic" operator="in"/></filter>
<rect x="167.3" y="1309.7" width="63.4" height="48.9" fill="#fff" opacity="1.0" filter="url(#sp82)"/>
<filter id="sp83" x="0" y="0" width="1" height="1" color-interpolation-filters="sRGB"><feTurbulence type="fractalNoise" baseFrequency="1.7" numOctaves="1" seed="143" result="t"/><feColorMatrix in="t" type="matrix" values="0 0 0 0 0.502 0 0 0 0 0.188 0 0 0 0 0.314 10 0 0 0 -6.69" result="c"/><feComposite in="c" in2="SourceGraphic" operator="in"/></filter>
<rect x="167.3" y="1309.7" width="63.4" height="48.9" fill="#fff" opacity="1.0" filter="url(#sp83)"/>
<rect x="102.0" y="1359.9" width="62.8" height="49.4" fill="#080c20"/>
<filter id="sp84" x="0" y="0" width="1" height="1" color-interpolation-filters="sRGB"><feTurbulence type="fractalNoise" baseFrequency="1.7" numOctaves="1" seed="147" result="t"/><feColorMatrix in="t" type="matrix" values="0 0 0 0 0.125 0 0 0 0 0.502 0 0 0 0 0.188 10 0 0 0 -6.68" result="c"/><feComposite in="c" in2="SourceGraphic" operator="in"/></filter>
<rect x="102.0" y="1359.9" width="62.8" height="49.4" fill="#fff" opacity="1.0" filter="url(#sp84)"/>
<filter id="sp85" x="0" y="0" width="1" height="1" color-interpolation-filters="sRGB"><feTurbulence type="fractalNoise" baseFrequency="1.7" numOctaves="1" seed="148" result="t"/><feColorMatrix in="t" type="matrix" values="0 0 0 0 0.188 0 0 0 0 0.627 0 0 0 0 0.251 10 0 0 0 -6.68" result="c"/><feComposite in="c" in2="SourceGraphic" operator="in"/></filter>
<rect x="102.0" y="1359.9" width="62.8" height="49.4" fill="#fff" opacity="1.0" filter="url(#sp85)"/>
<filter id="sp86" x="0" y="0" width="1" height="1" color-interpolation-filters="sRGB"><feTurbulence type="fractalNoise" baseFrequency="1.7" numOctaves="1" seed="149" result="t"/><feColorMatrix in="t" type="matrix" values="0 0 0 0 0.102 0 0 0 0 0.102 0 0 0 0 0.376 10 0 0 0 -6.68" result="c"/><feComposite in="c" in2="SourceGraphic" operator="in"/></filter>
<rect x="102.0" y="1359.9" width="62.8" height="49.4" fill="#fff" opacity="1.0" filter="url(#sp86)"/>
<path d="M106,1364 L120,1361 L134,1367 L138,1372 L128,1371 L116,1368 Z" fill="#38c038" filter="url(#hb6)"/>
<rect x="167.3" y="1359.9" width="63.4" height="49.4" fill="#0a0a20"/>
<filter id="sp87" x="0" y="0" width="1" height="1" color-interpolation-filters="sRGB"><feTurbulence type="fractalNoise" baseFrequency="1.7" numOctaves="1" seed="154" result="t"/><feColorMatrix in="t" type="matrix" values="0 0 0 0 0.627 0 0 0 0 0.627 0 0 0 0 0.188 10 0 0 0 -6.69" result="c"/><feComposite in="c" in2="SourceGraphic" operator="in"/></filter>
<rect x="167.3" y="1359.9" width="63.4" height="49.4" fill="#fff" opacity="1.0" filter="url(#sp87)"/>
<filter id="sp88" x="0" y="0" width="1" height="1" color-interpolation-filters="sRGB"><feTurbulence type="fractalNoise" baseFrequency="1.7" numOctaves="1" seed="155" result="t"/><feColorMatrix in="t" type="matrix" values="0 0 0 0 0.502 0 0 0 0 0.502 0 0 0 0 0.125 10 0 0 0 -6.69" result="c"/><feComposite in="c" in2="SourceGraphic" operator="in"/></filter>
<rect x="167.3" y="1359.9" width="63.4" height="49.4" fill="#fff" opacity="1.0" filter="url(#sp88)"/>
<filter id="sp89" x="0" y="0" width="1" height="1" color-interpolation-filters="sRGB"><feTurbulence type="fractalNoise" baseFrequency="1.7" numOctaves="1" seed="156" result="t"/><feColorMatrix in="t" type="matrix" values="0 0 0 0 0.102 0 0 0 0 0.102 0 0 0 0 0.376 10 0 0 0 -6.69" result="c"/><feComposite in="c" in2="SourceGraphic" operator="in"/></filter>
<rect x="167.3" y="1359.9" width="63.4" height="49.4" fill="#fff" opacity="1.0" filter="url(#sp89)"/>
<rect x="233.7" y="1309.7" width="126.2" height="97.9" fill="#05050c"/>
<filter id="sp90" x="0" y="0" width="1" height="1" color-interpolation-filters="sRGB"><feTurbulence type="fractalNoise" baseFrequency="1.7" numOctaves="1" seed="161" result="t"/><feColorMatrix in="t" type="matrix" values="0 0 0 0 0.847 0 0 0 0 0.816 0 0 0 0 0.125 10 0 0 0 -6.37" result="c"/><feComposite in="c" in2="SourceGraphic" operator="in"/></filter>
<rect x="233.7" y="1309.7" width="126.2" height="97.9" fill="#fff" opacity="1.0" filter="url(#sp90)"/>
<filter id="sp91" x="0" y="0" width="1" height="1" color-interpolation-filters="sRGB"><feTurbulence type="fractalNoise" baseFrequency="1.7" numOctaves="1" seed="162" result="t"/><feColorMatrix in="t" type="matrix" values="0 0 0 0 0.690 0 0 0 0 0.690 0 0 0 0 0.094 10 0 0 0 -6.37" result="c"/><feComposite in="c" in2="SourceGraphic" operator="in"/></filter>
<rect x="233.7" y="1309.7" width="126.2" height="97.9" fill="#fff" opacity="1.0" filter="url(#sp91)"/>
<filter id="sp92" x="0" y="0" width="1" height="1" color-interpolation-filters="sRGB"><feTurbulence type="fractalNoise" baseFrequency="1.7" numOctaves="1" seed="163" result="t"/><feColorMatrix in="t" type="matrix" values="0 0 0 0 0.910 0 0 0 0 0.878 0 0 0 0 0.251 10 0 0 0 -6.37" result="c"/><feComposite in="c" in2="SourceGraphic" operator="in"/></filter>
<rect x="233.7" y="1309.7" width="126.2" height="97.9" fill="#fff" opacity="1.0" filter="url(#sp92)"/>
<filter id="sp93" x="0" y="0" width="1" height="1" color-interpolation-filters="sRGB"><feTurbulence type="fractalNoise" baseFrequency="1.7" numOctaves="1" seed="164" result="t"/><feColorMatrix in="t" type="matrix" values="0 0 0 0 0.125 0 0 0 0 0.188 0 0 0 0 0.690 10 0 0 0 -6.37" result="c"/><feComposite in="c" in2="SourceGraphic" operator="in"/></filter>
<rect x="233.7" y="1309.7" width="126.2" height="97.9" fill="#fff" opacity="1.0" filter="url(#sp93)"/>
<filter id="sp94" x="0" y="0" width="1" height="1" color-interpolation-filters="sRGB"><feTurbulence type="fractalNoise" baseFrequency="1.7" numOctaves="1" seed="165" result="t"/><feColorMatrix in="t" type="matrix" values="0 0 0 0 0.565 0 0 0 0 0.690 0 0 0 0 0.125 10 0 0 0 -6.37" result="c"/><feComposite in="c" in2="SourceGraphic" operator="in"/></filter>
<rect x="233.7" y="1309.7" width="126.2" height="97.9" fill="#fff" opacity="1.0" filter="url(#sp94)"/>
<g clip-path="url(#cl4)">
<path d="M275,1305 L326,1305 L326,1330 L312,1342 L300,1356 L293,1367 L288,1356 L279,1345 L272,1334 L270,1320 Z" fill="#000" filter="url(#hb15)"/>
<path d="M270.4,1310.3 L281.1,1319.9 L304.5,1323.1 L298.1,1329.5 L280,1333.7 L272.6,1328.4 L269.4,1317.8 Z" fill="#70c820" filter="url(#hb6)"/>
<path d="M274,1318 L282,1325 L296,1326 L282,1330 Z" fill="#c8e830" filter="url(#hb6)"/>
<line x1="257.7" y1="1334.8" x2="278.9" y2="1351.8" stroke="#58b020" stroke-width="3.5" stroke-linecap="round" filter="url(#hb6)"/>
<line x1="311.9" y1="1345.4" x2="291.7" y2="1368.8" stroke="#58b020" stroke-width="3.5" stroke-linecap="round" filter="url(#hb6)"/>
<line x1="325.7" y1="1333.7" x2="311.9" y2="1345.4" stroke="#a0a020" stroke-width="1.5" filter="url(#hb6)"/>
<line x1="327.9" y1="1322.0" x2="359.8" y2="1319.0" stroke="#a0a020" stroke-width="1.5" filter="url(#hb6)"/>
<line x1="240.0" y1="1330.0" x2="262.0" y2="1322.0" stroke="#2040c0" stroke-width="1.5" filter="url(#hb6)"/>
<path d="M282.1,1381.6 L303.4,1381.6 L291.7,1405 Z" fill="#7a8a6a" stroke="#b0b0a0" stroke-width="1.2" filter="url(#hb6)"/>
<ellipse cx="292.0" cy="1389.0" rx="4.0" ry="5.0" fill="#30a020" filter="url(#hb6)"/>
</g>
<text x="104.6" y="1319.0" font-size="8" fill="#fff">DAPI</text>
<text x="170.5" y="1319.0" font-size="8" fill="#fff">CBX3</text>
<text x="110.0" y="1370.5" font-size="8" fill="#fff">NG2</text>
<text x="170.5" y="1370.5" font-size="8" fill="#fff">GPX4</text>
<text x="238.6" y="1322.0" font-size="10.5" font-weight="bold" fill="#fff">Merge</text>
<text x="495.6" y="1010.2" font-size="12.5" font-weight="bold" fill="#000">Lung</text>
<line x1="508.4" y1="1168.9" x2="508.4" y2="1035.1" stroke="#000" stroke-width="1.2"/>
<line x1="507.8" y1="1168.9" x2="598.8" y2="1168.9" stroke="#000" stroke-width="1.2"/>
<line x1="504.9" y1="1168.9" x2="508.4" y2="1168.9" stroke="#000" stroke-width="1.2"/>
<text x="503.4" y="1172.5" font-size="10" font-weight="bold" text-anchor="end" fill="#000">0</text>
<line x1="504.9" y1="1124.3" x2="508.4" y2="1124.3" stroke="#000" stroke-width="1.2"/>
<text x="503.4" y="1127.9" font-size="10" font-weight="bold" text-anchor="end" fill="#000">10</text>
<line x1="504.9" y1="1079.7" x2="508.4" y2="1079.7" stroke="#000" stroke-width="1.2"/>
<text x="503.4" y="1083.3" font-size="10" font-weight="bold" text-anchor="end" fill="#000">20</text>
<line x1="504.9" y1="1035.1" x2="508.4" y2="1035.1" stroke="#000" stroke-width="1.2"/>
<text x="503.4" y="1038.7" font-size="10" font-weight="bold" text-anchor="end" fill="#000">30</text>
<rect x="522.3" y="1159.1" width="24.3" height="9.8" fill="#fde0c4" stroke="#1a1a1a" stroke-width="1.1"/>
<line x1="534.5" y1="1143.0" x2="534.5" y2="1159.1" stroke="#111" stroke-width="1.0"/>
<line x1="529.0" y1="1143.0" x2="540.0" y2="1143.0" stroke="#111" stroke-width="1.0"/>
<circle cx="534.2" cy="1136.3" r="2.3" fill="#000"/>
<circle cx="526.8" cy="1167.1" r="2.3" fill="#000"/>
<circle cx="534.2" cy="1163.5" r="2.3" fill="#000"/>
<circle cx="542.5" cy="1167.1" r="2.3" fill="#000"/>
<line x1="534.5" y1="1168.9" x2="534.5" y2="1171.9" stroke="#000" stroke-width="1.2"/>
<rect x="560.9" y="1093.1" width="23.7" height="75.8" fill="#f77c7c" stroke="#1a1a1a" stroke-width="1.1"/>
<line x1="572.8" y1="1063.2" x2="572.8" y2="1122.1" stroke="#111" stroke-width="1.0"/>
<line x1="567.2" y1="1063.2" x2="578.2" y2="1063.2" stroke="#111" stroke-width="1.0"/>
<line x1="567.2" y1="1122.1" x2="578.2" y2="1122.1" stroke="#111" stroke-width="1.0"/>
<circle cx="572.8" cy="1052.9" r="2.3" fill="#000"/>
<circle cx="572.8" cy="1089.5" r="2.3" fill="#000"/>
<circle cx="572.8" cy="1110.9" r="2.3" fill="#000"/>
<circle cx="572.8" cy="1118.5" r="2.3" fill="#000"/>
<line x1="572.8" y1="1168.9" x2="572.8" y2="1171.9" stroke="#000" stroke-width="1.2"/>
<line x1="537.7" y1="1036.6" x2="571.8" y2="1036.6" stroke="#111" stroke-width="1.0"/>
<line x1="537.7" y1="1036.6" x2="537.7" y2="1043.4" stroke="#111" stroke-width="1.0"/>
<line x1="571.8" y1="1036.6" x2="571.8" y2="1043.4" stroke="#111" stroke-width="1.0"/>
<text x="555.9" y="1036.1" font-size="15.7" font-weight="bold" text-anchor="middle" fill="#000" letter-spacing="2.3">**</text>
<text x="530.6" y="1187.3" font-size="13" font-weight="bold" text-anchor="middle" fill="#000">NC</text>
<text x="573.9" y="1187.3" font-size="13" font-weight="bold" text-anchor="middle" fill="#000">CBX3</text>
<text x="591.5" y="1180.5" font-size="7.5" font-weight="bold" fill="#000">OE</text>
<text x="486.5" y="1108.1" font-size="11.3" font-weight="bold" text-anchor="middle" transform="rotate(-90 486.5 1108.1)"><tspan>NG2</tspan><tspan font-size="7.0" baseline-shift="super">+</tspan><tspan>CBX3</tspan><tspan font-size="7.0" baseline-shift="super">+</tspan><tspan>GPX4</tspan><tspan font-size="7.0" baseline-shift="super">+</tspan><tspan> Cells (%)</tspan></text>
<text x="488.8" y="1219.0" font-size="12.5" font-weight="bold" fill="#000">Brain</text>
<line x1="509.0" y1="1382.2" x2="509.0" y2="1245.1" stroke="#000" stroke-width="1.2"/>
<line x1="508.4" y1="1382.2" x2="601.8" y2="1382.2" stroke="#000" stroke-width="1.2"/>
<line x1="505.5" y1="1382.2" x2="509.0" y2="1382.2" stroke="#000" stroke-width="1.2"/>
<text x="504.0" y="1385.8" font-size="10" font-weight="bold" text-anchor="end" fill="#000">0</text>
<line x1="505.5" y1="1354.8" x2="509.0" y2="1354.8" stroke="#000" stroke-width="1.2"/>
<text x="504.0" y="1358.4" font-size="10" font-weight="bold" text-anchor="end" fill="#000">5</text>
<line x1="505.5" y1="1327.4" x2="509.0" y2="1327.4" stroke="#000" stroke-width="1.2"/>
<text x="504.0" y="1331.0" font-size="10" font-weight="bold" text-anchor="end" fill="#000">10</text>
<line x1="505.5" y1="1299.9" x2="509.0" y2="1299.9" stroke="#000" stroke-width="1.2"/>
<text x="504.0" y="1303.5" font-size="10" font-weight="bold" text-anchor="end" fill="#000">15</text>
<line x1="505.5" y1="1272.5" x2="509.0" y2="1272.5" stroke="#000" stroke-width="1.2"/>
<text x="504.0" y="1276.1" font-size="10" font-weight="bold" text-anchor="end" fill="#000">20</text>
<line x1="505.5" y1="1245.1" x2="509.0" y2="1245.1" stroke="#000" stroke-width="1.2"/>
<text x="504.0" y="1248.7" font-size="10" font-weight="bold" text-anchor="end" fill="#000">25</text>
<rect x="522.9" y="1363.0" width="25.2" height="19.2" fill="#fde0c4" stroke="#1a1a1a" stroke-width="1.1"/>
<line x1="535.5" y1="1353.7" x2="535.5" y2="1371.2" stroke="#111" stroke-width="1.0"/>
<line x1="530.0" y1="1353.7" x2="541.0" y2="1353.7" stroke="#111" stroke-width="1.0"/>
<line x1="530.0" y1="1371.2" x2="541.0" y2="1371.2" stroke="#111" stroke-width="1.0"/>
<circle cx="531.0" cy="1354.2" r="2.3" fill="#000"/>
<circle cx="538.7" cy="1354.2" r="2.3" fill="#000"/>
<circle cx="531.0" cy="1370.1" r="2.3" fill="#000"/>
<circle cx="538.7" cy="1367.9" r="2.3" fill="#000"/>
<line x1="535.5" y1="1382.2" x2="535.5" y2="1385.2" stroke="#000" stroke-width="1.2"/>
<rect x="562.3" y="1299.4" width="25.3" height="82.8" fill="#f77c7c" stroke="#1a1a1a" stroke-width="1.1"/>
<line x1="575.0" y1="1279.6" x2="575.0" y2="1317.5" stroke="#111" stroke-width="1.0"/>
<line x1="569.5" y1="1279.6" x2="580.5" y2="1279.6" stroke="#111" stroke-width="1.0"/>
<line x1="569.5" y1="1317.5" x2="580.5" y2="1317.5" stroke="#111" stroke-width="1.0"/>
<circle cx="575.0" cy="1270.9" r="2.3" fill="#000"/>
<circle cx="575.0" cy="1302.1" r="2.3" fill="#000"/>
<circle cx="571.0" cy="1310.9" r="2.3" fill="#000"/>
<circle cx="579.0" cy="1309.8" r="2.3" fill="#000"/>
<line x1="575.0" y1="1382.2" x2="575.0" y2="1385.2" stroke="#000" stroke-width="1.2"/>
<line x1="536.5" y1="1249.0" x2="574.8" y2="1249.0" stroke="#111" stroke-width="1.0"/>
<line x1="536.5" y1="1249.0" x2="536.5" y2="1255.5" stroke="#111" stroke-width="1.0"/>
<line x1="574.8" y1="1249.0" x2="574.8" y2="1255.5" stroke="#111" stroke-width="1.0"/>
<text x="556.8" y="1248.5" font-size="15.7" font-weight="bold" text-anchor="middle" fill="#000" letter-spacing="2.3">***</text>
<text x="534.8" y="1399.4" font-size="13" font-weight="bold" text-anchor="middle" fill="#000">NC</text>
<text x="578.5" y="1399.4" font-size="13" font-weight="bold" text-anchor="middle" fill="#000">CBX3</text>
<text x="596.2" y="1392.5" font-size="7.5" font-weight="bold" fill="#000">OE</text>
<text x="484.5" y="1317.8" font-size="11.3" font-weight="bold" text-anchor="middle" transform="rotate(-90 484.5 1317.8)"><tspan>NG2</tspan><tspan font-size="7.0" baseline-shift="super">+</tspan><tspan>CBX3</tspan><tspan font-size="7.0" baseline-shift="super">+</tspan><tspan>GPX4</tspan><tspan font-size="7.0" baseline-shift="super">+</tspan><tspan> Cells (%)</tspan></text>
<line x1="743.8" y1="1166.0" x2="743.8" y2="1033.7" stroke="#000" stroke-width="1.2"/>
<line x1="743.2" y1="1166.0" x2="832.3" y2="1166.0" stroke="#000" stroke-width="1.2"/>
<line x1="740.3" y1="1166.0" x2="743.8" y2="1166.0" stroke="#000" stroke-width="1.2"/>
<text x="738.8" y="1169.6" font-size="10" font-weight="bold" text-anchor="end" fill="#000">0</text>
<line x1="740.3" y1="1132.9" x2="743.8" y2="1132.9" stroke="#000" stroke-width="1.2"/>
<text x="738.8" y="1136.5" font-size="10" font-weight="bold" text-anchor="end" fill="#000">100</text>
<line x1="740.3" y1="1099.8" x2="743.8" y2="1099.8" stroke="#000" stroke-width="1.2"/>
<text x="738.8" y="1103.4" font-size="10" font-weight="bold" text-anchor="end" fill="#000">200</text>
<line x1="740.3" y1="1066.8" x2="743.8" y2="1066.8" stroke="#000" stroke-width="1.2"/>
<text x="738.8" y="1070.4" font-size="10" font-weight="bold" text-anchor="end" fill="#000">300</text>
<line x1="740.3" y1="1033.7" x2="743.8" y2="1033.7" stroke="#000" stroke-width="1.2"/>
<text x="738.8" y="1037.3" font-size="10" font-weight="bold" text-anchor="end" fill="#000">400</text>
<rect x="757.0" y="1158.4" width="23.3" height="7.6" fill="#fde0c4" stroke="#1a1a1a" stroke-width="1.1"/>
<line x1="768.6" y1="1155.4" x2="768.6" y2="1161.0" stroke="#111" stroke-width="1.0"/>
<line x1="763.6" y1="1155.4" x2="773.6" y2="1155.4" stroke="#111" stroke-width="1.0"/>
<line x1="763.6" y1="1161.0" x2="773.6" y2="1161.0" stroke="#111" stroke-width="1.0"/>
<circle cx="764.6" cy="1155.4" r="2.2" fill="#000"/>
<circle cx="772.6" cy="1156.1" r="2.2" fill="#000"/>
<circle cx="768.6" cy="1160.0" r="2.2" fill="#000"/>
<line x1="768.6" y1="1166.0" x2="768.6" y2="1169.0" stroke="#000" stroke-width="1.2"/>
<rect x="795.0" y="1097.5" width="23.6" height="68.5" fill="#f77c7c" stroke="#1a1a1a" stroke-width="1.1"/>
<line x1="806.8" y1="1073.4" x2="806.8" y2="1120.7" stroke="#111" stroke-width="1.0"/>
<line x1="800.8" y1="1073.4" x2="812.8" y2="1073.4" stroke="#111" stroke-width="1.0"/>
<line x1="800.8" y1="1120.7" x2="812.8" y2="1120.7" stroke="#111" stroke-width="1.0"/>
<rect x="804.5" y="1055.2" width="4.6" height="4.6" fill="#000"/>
<rect x="804.5" y="1087.6" width="4.6" height="4.6" fill="#000"/>
<rect x="804.5" y="1089.9" width="4.6" height="4.6" fill="#000"/>
<rect x="804.5" y="1102.5" width="4.6" height="4.6" fill="#000"/>
<rect x="804.5" y="1106.8" width="4.6" height="4.6" fill="#000"/>
<rect x="804.5" y="1121.7" width="4.6" height="4.6" fill="#000"/>
<line x1="806.8" y1="1166.0" x2="806.8" y2="1169.0" stroke="#000" stroke-width="1.2"/>
<line x1="766.6" y1="1038.3" x2="807.7" y2="1038.3" stroke="#111" stroke-width="1.0"/>
<text x="788.3" y="1037.8" font-size="15.7" font-weight="bold" text-anchor="middle" fill="#000" letter-spacing="2.3">**</text>
<text x="768.6" y="1182.4" font-size="11" font-weight="bold" text-anchor="middle" fill="#000">Non-Met</text>
<text x="806.8" y="1182.4" font-size="11" font-weight="bold" text-anchor="middle" fill="#000">Met</text>
<text x="714.5" y="1102.8" font-size="10.5" font-weight="bold" text-anchor="middle" fill="#000" transform="rotate(-90 714.5 1102.8)">CTCs Numbers / 10ml Blood</text>
<line x1="912.2" y1="1166.0" x2="912.2" y2="1032.8" stroke="#000" stroke-width="1.2"/>
<line x1="911.6" y1="1166.0" x2="1000.2" y2="1166.0" stroke="#000" stroke-width="1.2"/>
<line x1="908.7" y1="1166.0" x2="912.2" y2="1166.0" stroke="#000" stroke-width="1.2"/>
<text x="907.2" y="1169.6" font-size="10" font-weight="bold" text-anchor="end" fill="#000">0</text>
<line x1="908.7" y1="1121.6" x2="912.2" y2="1121.6" stroke="#000" stroke-width="1.2"/>
<text x="907.2" y="1125.2" font-size="10" font-weight="bold" text-anchor="end" fill="#000">50</text>
<line x1="908.7" y1="1077.2" x2="912.2" y2="1077.2" stroke="#000" stroke-width="1.2"/>
<text x="907.2" y="1080.8" font-size="10" font-weight="bold" text-anchor="end" fill="#000">100</text>
<line x1="908.7" y1="1032.8" x2="912.2" y2="1032.8" stroke="#000" stroke-width="1.2"/>
<text x="907.2" y="1036.4" font-size="10" font-weight="bold" text-anchor="end" fill="#000">150</text>
<rect x="925.0" y="1164.2" width="22.8" height="1.8" fill="#fde0c4" stroke="#1a1a1a" stroke-width="1.1"/>
<line x1="936.4" y1="1163.3" x2="936.4" y2="1165.1" stroke="#111" stroke-width="1.0"/>
<line x1="931.4" y1="1163.3" x2="941.4" y2="1163.3" stroke="#111" stroke-width="1.0"/>
<line x1="931.4" y1="1165.1" x2="941.4" y2="1165.1" stroke="#111" stroke-width="1.0"/>
<circle cx="930.4" cy="1164.2" r="2.2" fill="#000"/>
<circle cx="936.4" cy="1163.8" r="2.2" fill="#000"/>
<circle cx="942.4" cy="1163.8" r="2.2" fill="#000"/>
<line x1="936.4" y1="1166.0" x2="936.4" y2="1169.0" stroke="#000" stroke-width="1.2"/>
<rect x="962.8" y="1107.4" width="23.7" height="58.6" fill="#f77c7c" stroke="#1a1a1a" stroke-width="1.1"/>
<line x1="974.6" y1="1085.2" x2="974.6" y2="1127.8" stroke="#111" stroke-width="1.0"/>
<line x1="968.6" y1="1085.2" x2="980.6" y2="1085.2" stroke="#111" stroke-width="1.0"/>
<line x1="968.6" y1="1127.8" x2="980.6" y2="1127.8" stroke="#111" stroke-width="1.0"/>
<rect x="972.4" y="1070.5" width="4.6" height="4.6" fill="#000"/>
<rect x="972.4" y="1092.7" width="4.6" height="4.6" fill="#000"/>
<rect x="972.4" y="1103.3" width="4.6" height="4.6" fill="#000"/>
<rect x="972.4" y="1108.6" width="4.6" height="4.6" fill="#000"/>
<rect x="972.4" y="1119.3" width="4.6" height="4.6" fill="#000"/>
<rect x="972.4" y="1128.2" width="4.6" height="4.6" fill="#000"/>
<line x1="974.6" y1="1166.0" x2="974.6" y2="1169.0" stroke="#000" stroke-width="1.2"/>
<line x1="936.4" y1="1039.7" x2="975.1" y2="1039.7" stroke="#111" stroke-width="1.0"/>
<text x="956.9" y="1039.2" font-size="15.7" font-weight="bold" text-anchor="middle" fill="#000" letter-spacing="2.3">**</text>
<text x="936.4" y="1182.4" font-size="11" font-weight="bold" text-anchor="middle" fill="#000">Non-Met</text>
<text x="974.6" y="1182.4" font-size="11" font-weight="bold" text-anchor="middle" fill="#000">Met</text>
<text x="885.5" y="1102.4" font-size="10.5" font-weight="bold" text-anchor="middle" transform="rotate(-90 885.5 1102.4)"><tspan>CBX3</tspan><tspan font-size="6.5" baseline-shift="super">+</tspan><tspan>GPX4</tspan><tspan font-size="6.5" baseline-shift="super">+</tspan><tspan> CTCs / 10ml Blood</tspan></text>
<line x1="1070.1" y1="1166.3" x2="1070.1" y2="1033.4" stroke="#000" stroke-width="1.2"/>
<line x1="1069.5" y1="1166.3" x2="1160.0" y2="1166.3" stroke="#000" stroke-width="1.2"/>
<line x1="1066.6" y1="1166.3" x2="1070.1" y2="1166.3" stroke="#000" stroke-width="1.2"/>
<text x="1065.1" y="1169.9" font-size="10" font-weight="bold" text-anchor="end" fill="#000">0</text>
<line x1="1066.6" y1="1139.7" x2="1070.1" y2="1139.7" stroke="#000" stroke-width="1.2"/>
<text x="1065.1" y="1143.3" font-size="10" font-weight="bold" text-anchor="end" fill="#000">10</text>
<line x1="1066.6" y1="1113.1" x2="1070.1" y2="1113.1" stroke="#000" stroke-width="1.2"/>
<text x="1065.1" y="1116.7" font-size="10" font-weight="bold" text-anchor="end" fill="#000">20</text>
<line x1="1066.6" y1="1086.6" x2="1070.1" y2="1086.6" stroke="#000" stroke-width="1.2"/>
<text x="1065.1" y="1090.2" font-size="10" font-weight="bold" text-anchor="end" fill="#000">30</text>
<line x1="1066.6" y1="1060.0" x2="1070.1" y2="1060.0" stroke="#000" stroke-width="1.2"/>
<text x="1065.1" y="1063.6" font-size="10" font-weight="bold" text-anchor="end" fill="#000">40</text>
<line x1="1066.6" y1="1033.4" x2="1070.1" y2="1033.4" stroke="#000" stroke-width="1.2"/>
<text x="1065.1" y="1037.0" font-size="10" font-weight="bold" text-anchor="end" fill="#000">50</text>
<rect x="1083.5" y="1146.4" width="24.1" height="19.9" fill="#fde0c4" stroke="#1a1a1a" stroke-width="1.1"/>
<line x1="1095.5" y1="1131.7" x2="1095.5" y2="1159.7" stroke="#111" stroke-width="1.0"/>
<line x1="1090.5" y1="1131.7" x2="1100.5" y2="1131.7" stroke="#111" stroke-width="1.0"/>
<line x1="1090.5" y1="1159.7" x2="1100.5" y2="1159.7" stroke="#111" stroke-width="1.0"/>
<circle cx="1095.5" cy="1131.7" r="2.2" fill="#000"/>
<circle cx="1095.5" cy="1150.4" r="2.2" fill="#000"/>
<circle cx="1095.5" cy="1158.3" r="2.2" fill="#000"/>
<line x1="1095.5" y1="1166.3" x2="1095.5" y2="1169.3" stroke="#000" stroke-width="1.2"/>
<rect x="1121.4" y="1080.4" width="23.9" height="85.9" fill="#f77c7c" stroke="#1a1a1a" stroke-width="1.1"/>
<line x1="1133.3" y1="1062.6" x2="1133.3" y2="1097.2" stroke="#111" stroke-width="1.0"/>
<line x1="1127.3" y1="1062.6" x2="1139.3" y2="1062.6" stroke="#111" stroke-width="1.0"/>
<line x1="1127.3" y1="1097.2" x2="1139.3" y2="1097.2" stroke="#111" stroke-width="1.0"/>
<rect x="1131.0" y="1053.7" width="4.6" height="4.6" fill="#000"/>
<rect x="1131.0" y="1065.7" width="4.6" height="4.6" fill="#000"/>
<rect x="1131.0" y="1071.0" width="4.6" height="4.6" fill="#000"/>
<rect x="1131.0" y="1081.6" width="4.6" height="4.6" fill="#000"/>
<rect x="1131.0" y="1094.9" width="4.6" height="4.6" fill="#000"/>
<rect x="1131.0" y="1102.9" width="4.6" height="4.6" fill="#000"/>
<line x1="1133.3" y1="1166.3" x2="1133.3" y2="1169.3" stroke="#000" stroke-width="1.2"/>
<line x1="1090.6" y1="1041.4" x2="1132.7" y2="1041.4" stroke="#111" stroke-width="1.0"/>
<text x="1112.8" y="1040.9" font-size="15.7" font-weight="bold" text-anchor="middle" fill="#000" letter-spacing="2.3">***</text>
<text x="1095.5" y="1182.8" font-size="11" font-weight="bold" text-anchor="middle" fill="#000">Non-Met</text>
<text x="1133.3" y="1182.8" font-size="11" font-weight="bold" text-anchor="middle" fill="#000">Met</text>
<text x="1042.5" y="1102.8" font-size="10.5" font-weight="bold" text-anchor="middle" transform="rotate(-90 1042.5 1102.8)"><tspan>CBX3</tspan><tspan font-size="6.5" baseline-shift="super">+</tspan><tspan>GPX4</tspan><tspan font-size="6.5" baseline-shift="super">+</tspan><tspan> CTCs / CTCs (%)</tspan></text>
<line x1="746.1" y1="1369.7" x2="746.1" y2="1241.0" stroke="#000" stroke-width="1.2"/>
<line x1="745.5" y1="1369.7" x2="832.3" y2="1369.7" stroke="#000" stroke-width="1.2"/>
<line x1="742.6" y1="1369.7" x2="746.1" y2="1369.7" stroke="#000" stroke-width="1.2"/>
<text x="741.1" y="1373.3" font-size="10" font-weight="bold" text-anchor="end" fill="#000">0</text>
<line x1="742.6" y1="1337.5" x2="746.1" y2="1337.5" stroke="#000" stroke-width="1.2"/>
<text x="741.1" y="1341.1" font-size="10" font-weight="bold" text-anchor="end" fill="#000">100</text>
<line x1="742.6" y1="1305.3" x2="746.1" y2="1305.3" stroke="#000" stroke-width="1.2"/>
<text x="741.1" y="1308.9" font-size="10" font-weight="bold" text-anchor="end" fill="#000">200</text>
<line x1="742.6" y1="1273.2" x2="746.1" y2="1273.2" stroke="#000" stroke-width="1.2"/>
<text x="741.1" y="1276.8" font-size="10" font-weight="bold" text-anchor="end" fill="#000">300</text>
<line x1="742.6" y1="1241.0" x2="746.1" y2="1241.0" stroke="#000" stroke-width="1.2"/>
<text x="741.1" y="1244.6" font-size="10" font-weight="bold" text-anchor="end" fill="#000">400</text>
<rect x="759.3" y="1355.5" width="23.3" height="14.2" fill="#fde0c4" stroke="#1a1a1a" stroke-width="1.1"/>
<line x1="771.0" y1="1350.4" x2="771.0" y2="1359.4" stroke="#111" stroke-width="1.0"/>
<line x1="766.0" y1="1350.4" x2="776.0" y2="1350.4" stroke="#111" stroke-width="1.0"/>
<line x1="766.0" y1="1359.4" x2="776.0" y2="1359.4" stroke="#111" stroke-width="1.0"/>
<circle cx="771.0" cy="1349.8" r="2.2" fill="#000"/>
<circle cx="771.0" cy="1356.2" r="2.2" fill="#000"/>
<circle cx="771.0" cy="1360.0" r="2.2" fill="#000"/>
<line x1="771.0" y1="1369.7" x2="771.0" y2="1372.7" stroke="#000" stroke-width="1.2"/>
<rect x="795.8" y="1274.8" width="23.8" height="94.9" fill="#f77c7c" stroke="#1a1a1a" stroke-width="1.1"/>
<line x1="807.7" y1="1260.9" x2="807.7" y2="1289.3" stroke="#111" stroke-width="1.0"/>
<line x1="801.7" y1="1260.9" x2="813.7" y2="1260.9" stroke="#111" stroke-width="1.0"/>
<line x1="801.7" y1="1289.3" x2="813.7" y2="1289.3" stroke="#111" stroke-width="1.0"/>
<rect x="801.4" y="1258.6" width="4.6" height="4.6" fill="#000"/>
<rect x="809.4" y="1256.4" width="4.6" height="4.6" fill="#000"/>
<rect x="805.4" y="1264.4" width="4.6" height="4.6" fill="#000"/>
<rect x="805.4" y="1270.9" width="4.6" height="4.6" fill="#000"/>
<rect x="801.4" y="1285.4" width="4.6" height="4.6" fill="#000"/>
<rect x="809.4" y="1287.0" width="4.6" height="4.6" fill="#000"/>
<line x1="807.7" y1="1369.7" x2="807.7" y2="1372.7" stroke="#000" stroke-width="1.2"/>
<line x1="764.4" y1="1230.6" x2="807.7" y2="1230.6" stroke="#111" stroke-width="1.0"/>
<text x="787.2" y="1230.1" font-size="15.7" font-weight="bold" text-anchor="middle" fill="#000" letter-spacing="2.3">****</text>
<text x="771.0" y="1385.7" font-size="11" font-weight="bold" text-anchor="middle" fill="#000">Non-Met</text>
<text x="807.7" y="1385.7" font-size="11" font-weight="bold" text-anchor="middle" fill="#000">Met</text>
<text x="715.9" y="1308.3" font-size="10.5" font-weight="bold" text-anchor="middle" fill="#000" transform="rotate(-90 715.9 1308.3)">CTCs Numbers / 10ml Blood</text>
<line x1="914.5" y1="1369.7" x2="914.5" y2="1241.0" stroke="#000" stroke-width="1.2"/>
<line x1="913.9" y1="1369.7" x2="1000.2" y2="1369.7" stroke="#000" stroke-width="1.2"/>
<line x1="911.0" y1="1369.7" x2="914.5" y2="1369.7" stroke="#000" stroke-width="1.2"/>
<text x="909.5" y="1373.3" font-size="10" font-weight="bold" text-anchor="end" fill="#000">0</text>
<line x1="911.0" y1="1337.5" x2="914.5" y2="1337.5" stroke="#000" stroke-width="1.2"/>
<text x="909.5" y="1341.1" font-size="10" font-weight="bold" text-anchor="end" fill="#000">50</text>
<line x1="911.0" y1="1305.3" x2="914.5" y2="1305.3" stroke="#000" stroke-width="1.2"/>
<text x="909.5" y="1308.9" font-size="10" font-weight="bold" text-anchor="end" fill="#000">100</text>
<line x1="911.0" y1="1273.2" x2="914.5" y2="1273.2" stroke="#000" stroke-width="1.2"/>
<text x="909.5" y="1276.8" font-size="10" font-weight="bold" text-anchor="end" fill="#000">150</text>
<line x1="911.0" y1="1241.0" x2="914.5" y2="1241.0" stroke="#000" stroke-width="1.2"/>
<text x="909.5" y="1244.6" font-size="10" font-weight="bold" text-anchor="end" fill="#000">200</text>
<rect x="928.6" y="1361.3" width="22.8" height="8.4" fill="#fde0c4" stroke="#1a1a1a" stroke-width="1.1"/>
<line x1="940.0" y1="1355.5" x2="940.0" y2="1366.5" stroke="#111" stroke-width="1.0"/>
<line x1="935.0" y1="1355.5" x2="945.0" y2="1355.5" stroke="#111" stroke-width="1.0"/>
<line x1="935.0" y1="1366.5" x2="945.0" y2="1366.5" stroke="#111" stroke-width="1.0"/>
<circle cx="940.0" cy="1355.5" r="2.2" fill="#000"/>
<circle cx="935.0" cy="1363.3" r="2.2" fill="#000"/>
<circle cx="945.0" cy="1362.6" r="2.2" fill="#000"/>
<line x1="940.0" y1="1369.7" x2="940.0" y2="1372.7" stroke="#000" stroke-width="1.2"/>
<rect x="965.1" y="1273.8" width="23.7" height="95.9" fill="#f77c7c" stroke="#1a1a1a" stroke-width="1.1"/>
<line x1="977.0" y1="1251.3" x2="977.0" y2="1295.1" stroke="#111" stroke-width="1.0"/>
<line x1="971.0" y1="1251.3" x2="983.0" y2="1251.3" stroke="#111" stroke-width="1.0"/>
<line x1="971.0" y1="1295.1" x2="983.0" y2="1295.1" stroke="#111" stroke-width="1.0"/>
<rect x="974.7" y="1246.4" width="4.6" height="4.6" fill="#000"/>
<rect x="974.7" y="1254.8" width="4.6" height="4.6" fill="#000"/>
<rect x="974.7" y="1264.4" width="4.6" height="4.6" fill="#000"/>
<rect x="974.7" y="1274.1" width="4.6" height="4.6" fill="#000"/>
<rect x="974.7" y="1293.4" width="4.6" height="4.6" fill="#000"/>
<rect x="974.7" y="1296.6" width="4.6" height="4.6" fill="#000"/>
<line x1="977.0" y1="1369.7" x2="977.0" y2="1372.7" stroke="#000" stroke-width="1.2"/>
<line x1="935.4" y1="1231.0" x2="976.5" y2="1231.0" stroke="#111" stroke-width="1.0"/>
<text x="957.1" y="1230.5" font-size="15.7" font-weight="bold" text-anchor="middle" fill="#000" letter-spacing="2.3">***</text>
<text x="940.0" y="1385.7" font-size="11" font-weight="bold" text-anchor="middle" fill="#000">Non-Met</text>
<text x="977.0" y="1385.7" font-size="11" font-weight="bold" text-anchor="middle" fill="#000">Met</text>
<text x="885.5" y="1308.3" font-size="10.5" font-weight="bold" text-anchor="middle" transform="rotate(-90 885.5 1308.3)"><tspan>CBX3</tspan><tspan font-size="6.5" baseline-shift="super">+</tspan><tspan>GPX4</tspan><tspan font-size="6.5" baseline-shift="super">+</tspan><tspan> CTCs / 10ml Blood</tspan></text>
<line x1="1072.0" y1="1369.4" x2="1072.0" y2="1240.7" stroke="#000" stroke-width="1.2"/>
<line x1="1071.4" y1="1369.4" x2="1158.4" y2="1369.4" stroke="#000" stroke-width="1.2"/>
<line x1="1068.5" y1="1369.4" x2="1072.0" y2="1369.4" stroke="#000" stroke-width="1.2"/>
<text x="1067.0" y="1373.0" font-size="10" font-weight="bold" text-anchor="end" fill="#000">0</text>
<line x1="1068.5" y1="1337.2" x2="1072.0" y2="1337.2" stroke="#000" stroke-width="1.2"/>
<text x="1067.0" y="1340.8" font-size="10" font-weight="bold" text-anchor="end" fill="#000">20</text>
<line x1="1068.5" y1="1305.1" x2="1072.0" y2="1305.1" stroke="#000" stroke-width="1.2"/>
<text x="1067.0" y="1308.7" font-size="10" font-weight="bold" text-anchor="end" fill="#000">40</text>
<line x1="1068.5" y1="1272.9" x2="1072.0" y2="1272.9" stroke="#000" stroke-width="1.2"/>
<text x="1067.0" y="1276.5" font-size="10" font-weight="bold" text-anchor="end" fill="#000">60</text>
<line x1="1068.5" y1="1240.7" x2="1072.0" y2="1240.7" stroke="#000" stroke-width="1.2"/>
<text x="1067.0" y="1244.3" font-size="10" font-weight="bold" text-anchor="end" fill="#000">80</text>
<rect x="1084.6" y="1322.7" width="23.0" height="46.7" fill="#fde0c4" stroke="#1a1a1a" stroke-width="1.1"/>
<line x1="1096.1" y1="1313.1" x2="1096.1" y2="1332.4" stroke="#111" stroke-width="1.0"/>
<line x1="1091.1" y1="1313.1" x2="1101.1" y2="1313.1" stroke="#111" stroke-width="1.0"/>
<line x1="1091.1" y1="1332.4" x2="1101.1" y2="1332.4" stroke="#111" stroke-width="1.0"/>
<circle cx="1096.1" cy="1312.3" r="2.2" fill="#000"/>
<circle cx="1092.1" cy="1327.6" r="2.2" fill="#000"/>
<circle cx="1100.1" cy="1326.0" r="2.2" fill="#000"/>
<line x1="1096.1" y1="1369.4" x2="1096.1" y2="1372.4" stroke="#000" stroke-width="1.2"/>
<rect x="1121.4" y="1288.2" width="23.1" height="81.2" fill="#f77c7c" stroke="#1a1a1a" stroke-width="1.1"/>
<line x1="1133.0" y1="1272.9" x2="1133.0" y2="1303.4" stroke="#111" stroke-width="1.0"/>
<line x1="1127.0" y1="1272.9" x2="1139.0" y2="1272.9" stroke="#111" stroke-width="1.0"/>
<line x1="1127.0" y1="1303.4" x2="1139.0" y2="1303.4" stroke="#111" stroke-width="1.0"/>
<rect x="1130.7" y="1260.9" width="4.6" height="4.6" fill="#000"/>
<rect x="1130.7" y="1278.6" width="4.6" height="4.6" fill="#000"/>
<rect x="1130.7" y="1283.4" width="4.6" height="4.6" fill="#000"/>
<rect x="1130.7" y="1289.9" width="4.6" height="4.6" fill="#000"/>
<rect x="1130.7" y="1297.9" width="4.6" height="4.6" fill="#000"/>
<rect x="1130.7" y="1301.1" width="4.6" height="4.6" fill="#000"/>
<line x1="1133.0" y1="1369.4" x2="1133.0" y2="1372.4" stroke="#000" stroke-width="1.2"/>
<line x1="1094.6" y1="1233.6" x2="1131.1" y2="1233.6" stroke="#111" stroke-width="1.0"/>
<text x="1114.0" y="1233.1" font-size="15.7" font-weight="bold" text-anchor="middle" fill="#000" letter-spacing="2.3">**</text>
<text x="1096.1" y="1385.2" font-size="11" font-weight="bold" text-anchor="middle" fill="#000">Non-Met</text>
<text x="1133.0" y="1385.2" font-size="11" font-weight="bold" text-anchor="middle" fill="#000">Met</text>
<text x="1042.5" y="1308.1" font-size="10.5" font-weight="bold" text-anchor="middle" transform="rotate(-90 1042.5 1308.1)"><tspan>CBX3</tspan><tspan font-size="6.5" baseline-shift="super">+</tspan><tspan>GPX4</tspan><tspan font-size="6.5" baseline-shift="super">+</tspan><tspan> CTCs / CTCs (%)</tspan></text>
</svg></body></html>
